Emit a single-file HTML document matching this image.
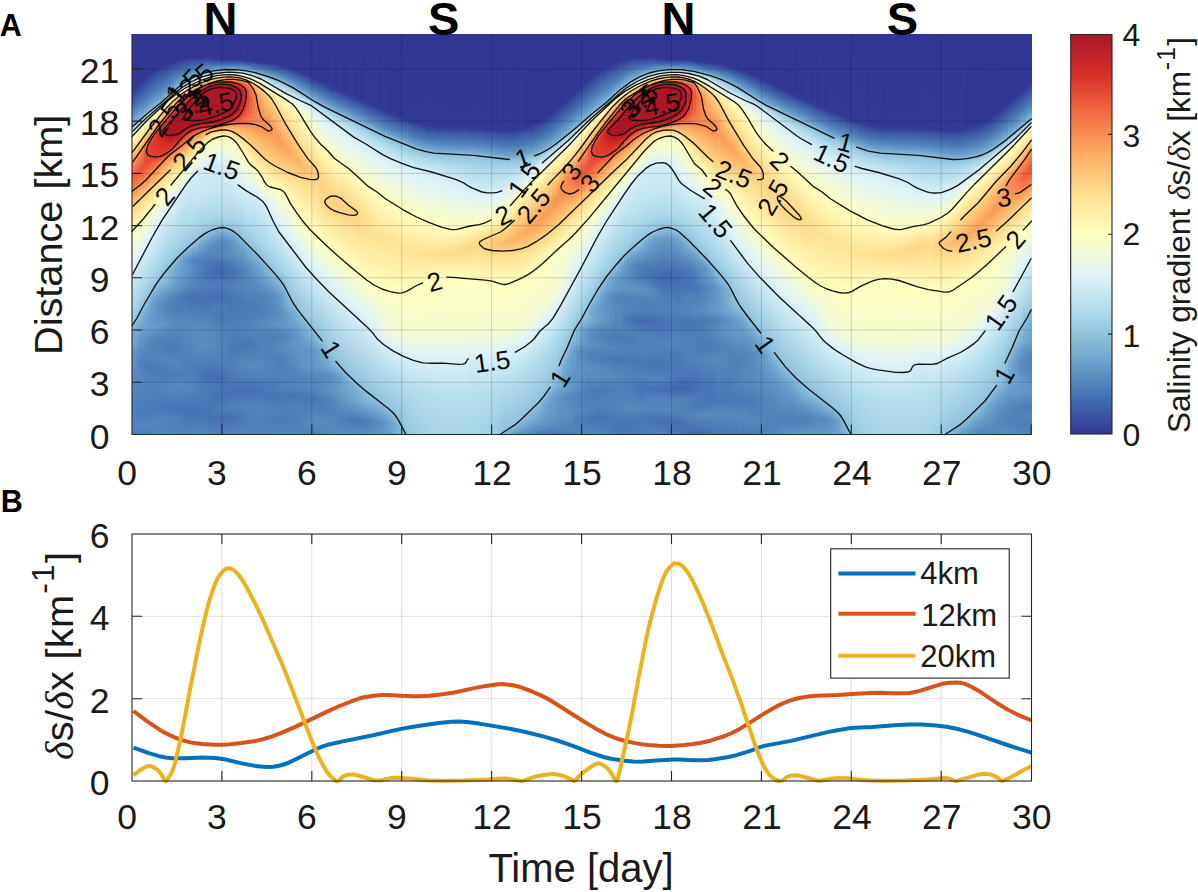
<!DOCTYPE html>
<html><head><meta charset="utf-8"><title>Salinity gradient</title>
<style>
html,body{margin:0;padding:0;background:#fff}
body{width:1198px;height:892px;position:relative;overflow:hidden;font-family:"Liberation Sans",sans-serif;color:#1a1a1a}
.abs{position:absolute}
#heat{position:absolute;left:132px;top:34px;width:899.5px;height:400.5px;overflow:hidden;background:#4575b4}
#heat i{position:absolute;top:0;width:3.2px;height:401px;display:block}
.tl{position:absolute;font-size:35.5px;line-height:34px;white-space:nowrap}
.xt{width:80px;margin-left:-40px;text-align:center}
.yt{width:80px;left:59.5px;text-align:center}
.big{position:absolute;font-weight:bold;font-size:47px;line-height:48px;width:80px;margin-left:-40px;text-align:center;top:-5.0px;color:#000}
.pan{position:absolute;font-weight:bold;font-size:30.5px;line-height:30px;color:#000}
.rot{position:absolute;white-space:nowrap;transform-origin:0 0;transform:rotate(-90deg)}
.dl{font-family:"Liberation Serif",serif;font-style:italic}
sup{font-size:80%;line-height:0;vertical-align:baseline;position:relative;top:-0.59em;letter-spacing:0.04em;margin-left:0.03em}
svg{position:absolute;left:0;top:0;overflow:visible}
svg text{font-family:"Liberation Sans",sans-serif}
</style></head><body>
<div id="heat"><i style="left:0px;background:linear-gradient(#313695 0.5px,#313795 55.5px,#4576b4 73.5px,#6297c6 83.5px,#78b0d3 88.5px,#98cae1 92.5px,#d9f0f6 97.5px,#fffebe 102.5px,#feda8a 115.5px,#fdc173 120.5px,#fa9857 126.5px,#f57747 134.5px,#ef623e 142.5px,#f16640 145.5px,#fa9757 158.5px,#fdb366 163.5px,#fed182 171.5px,#fee192 177.5px,#ffffbf 196.5px,#ecf8e2 213.5px,#dff3f8 228.5px,#abd9e9 270.5px,#91c4de 288.5px,#75aed1 297.5px,#71a9cf 308.5px,#6197c5 317.5px,#4c7eb8 379.5px,#5487bd 391.5px,#497ab6 400.5px)"></i><i style="left:3px;background:linear-gradient(#313695 0.5px,#313795 52.5px,#4777b5 71.5px,#74add1 85.5px,#92c5de 89.5px,#d6eef5 94.5px,#e2f4f3 95.5px,#f3fad6 97.5px,#fffcba 100.5px,#fed484 113.5px,#fba15b 121.5px,#f67d4a 128.5px,#ed5e3c 139.5px,#f0653f 143.5px,#fa9756 156.5px,#fdb466 161.5px,#fed283 169.5px,#ffffbe 193.5px,#e0f3f8 223.5px,#abd9e9 265.5px,#8fc2dd 285.5px,#70a9cf 296.5px,#6aa1cb 308.5px,#5d91c3 317.5px,#4b7cb8 379.5px,#5588be 391.5px,#4a7bb7 400.5px)"></i><i style="left:6px;background:linear-gradient(#313695 0.5px,#313795 49.5px,#4676b4 68.5px,#77afd2 83.5px,#99cbe1 87.5px,#d7eff5 91.5px,#edf8e0 93.5px,#fffebe 96.5px,#fed384 109.5px,#fa9757 118.5px,#f46f44 127.5px,#ea5839 136.5px,#f99455 153.5px,#fdb164 158.5px,#fed283 166.5px,#ffffbf 190.5px,#e0f3f8 218.5px,#aad8e9 260.5px,#91c4de 278.5px,#6ea6cd 295.5px,#598dc0 316.5px,#5183bb 332.5px,#578abf 344.5px,#4a7bb7 379.5px,#5588be 391.5px,#4b7cb8 400.5px)"></i><i style="left:9px;background:linear-gradient(#313695 0.5px,#313795 46.5px,#4575b4 65.5px,#6196c5 75.5px,#76aed2 80.5px,#95c8df 84.5px,#d5eef5 88.5px,#e4f5f0 89.5px,#eef8de 90.5px,#fffcbb 93.5px,#fecd7e 106.5px,#f88a51 115.5px,#f47044 120.5px,#e75337 132.5px,#eb5a3a 136.5px,#fa9656 151.5px,#fed182 163.5px,#fee293 169.5px,#feffc0 187.5px,#dff3f8 213.5px,#aad8e9 255.5px,#90c4dd 273.5px,#74acd1 284.5px,#5689be 316.5px,#4d7fb9 332.5px,#5487bd 346.5px,#4a7ab7 379.5px,#5588be 391.5px,#4c7db8 400.5px)"></i><i style="left:12px;background:linear-gradient(#313695 0.5px,#313795 43.5px,#497ab7 64.5px,#669cc8 74.5px,#80b7d6 79.5px,#9ecee3 82.5px,#e0f3f7 86.5px,#f5fbd2 88.5px,#fffcba 90.5px,#fdc778 103.5px,#fdab5f 107.5px,#f57647 112.5px,#eb593a 116.5px,#e54e35 128.5px,#e85437 132.5px,#f46c43 138.5px,#fa9555 148.5px,#fed182 160.5px,#fee090 165.5px,#ffffc0 183.5px,#e0f3f8 208.5px,#abd9e9 249.5px,#8fc2dd 268.5px,#6da5cd 283.5px,#6da5cd 292.5px,#5b8fc2 305.5px,#4b7cb7 332.5px,#5385bc 347.5px,#4a7ab7 379.5px,#5588be 391.5px,#4d7fb9 400.5px)"></i><i style="left:15px;background:linear-gradient(#313695 0.5px,#323896 41.5px,#4b7cb8 62.5px,#69a0ca 72.5px,#7db4d5 76.5px,#9acbe2 79.5px,#e0f3f8 83.5px,#f4fbd4 85.5px,#fffcbb 87.5px,#fedc8c 95.5px,#fdb063 102.5px,#f36a42 108.5px,#e54e35 111.5px,#df402e 117.5px,#e44a33 127.5px,#f46f44 136.5px,#f99455 145.5px,#fed485 158.5px,#ffffbf 179.5px,#e0f3f8 203.5px,#aad8e9 245.5px,#90c3dd 262.5px,#73acd1 272.5px,#689fca 283.5px,#6ba2cc 292.5px,#578abf 305.5px,#5284bc 324.5px,#497ab6 332.5px,#5284bc 348.5px,#4a7bb7 378.5px,#5588be 390.5px,#4e80ba 400.5px)"></i><i style="left:18px;background:linear-gradient(#313695 0.5px,#313796 38.5px,#4d7eb9 60.5px,#679ec9 69.5px,#81b7d7 74.5px,#a0d0e4 77.5px,#d8eff6 80.5px,#f2fad6 82.5px,#fffcba 84.5px,#fdc677 95.5px,#fdaf62 98.5px,#f46e44 103.5px,#e44c34 106.5px,#dd3d2d 111.5px,#e14430 124.5px,#f46d43 133.5px,#fdab60 146.5px,#fed485 155.5px,#feffc0 176.5px,#dff3f8 198.5px,#aad9e9 240.5px,#90c4dd 257.5px,#74add1 265.5px,#6ca3cc 270.5px,#649ac7 283.5px,#69a0ca 292.5px,#5386bd 305.5px,#5184bc 324.5px,#4879b6 332.5px,#5183bb 349.5px,#4a7bb7 377.5px,#5487be 390.5px,#4f81ba 400.5px)"></i><i style="left:21px;background:linear-gradient(#313695 0.5px,#313796 36.5px,#3c5aa7 45.5px,#4b7cb8 57.5px,#699fca 67.5px,#85bad8 72.5px,#99cbe1 74.5px,#e1f3f6 78.5px,#ffffbf 81.5px,#fedb8b 88.5px,#fdad60 94.5px,#f67a49 98.5px,#eb5b3b 100.5px,#e24731 102.5px,#db392b 107.5px,#e0422f 123.5px,#f47044 131.5px,#fdab60 143.5px,#fed788 153.5px,#ffffc0 172.5px,#e0f3f8 193.5px,#aad8e8 236.5px,#8fc3dd 253.5px,#71aacf 262.5px,#659bc7 270.5px,#6095c5 282.5px,#679ec9 292.5px,#5083bb 305.5px,#5184bc 324.5px,#4879b6 333.5px,#5183bb 350.5px,#4a7bb7 376.5px,#5487bd 389.5px,#5082bb 400.5px)"></i><i style="left:24px;background:linear-gradient(#313695 0.5px,#313795 34.5px,#3c5aa7 43.5px,#4b7db8 55.5px,#669cc8 64.5px,#7fb6d6 69.5px,#9fd0e4 72.5px,#ddf2f7 75.5px,#fdfec2 78.5px,#fff9b6 79.5px,#fedd8d 84.5px,#fdaf62 90.5px,#f26941 95.5px,#dc3a2b 99.5px,#d73027 103.5px,#df402e 122.5px,#f57245 129.5px,#fdac60 140.5px,#fecf80 148.5px,#fee192 153.5px,#ffffbf 168.5px,#def2f8 189.5px,#a8d6e8 233.5px,#8cc0db 251.5px,#6ba3cc 261.5px,#5e93c3 271.5px,#5d92c3 282.5px,#659bc8 292.5px,#4e80ba 305.5px,#5284bc 324.5px,#4979b6 333.5px,#5183bb 351.5px,#497ab7 375.5px,#5386bd 388.5px,#5183bb 400.5px)"></i><i style="left:27px;background:linear-gradient(#313695 0.5px,#313796 33.5px,#3c58a6 41.5px,#4b7cb8 53.5px,#669dc9 62.5px,#7bb3d4 66.5px,#96c9e0 69.5px,#d0ebf4 72.5px,#e6f5ed 73.5px,#f3fad5 74.5px,#fff9b5 76.5px,#fee191 80.5px,#fdae61 86.5px,#f36c42 91.5px,#d73027 95.5px,#c72627 99.5px,#de3f2e 121.5px,#e34933 123.5px,#f26941 126.5px,#f7834d 129.5px,#fdad61 137.5px,#fedf8f 149.5px,#fffebe 164.5px,#dff3f8 184.5px,#a6d5e7 230.5px,#89beda 249.5px,#659bc8 261.5px,#598cc0 272.5px,#6398c6 291.5px,#4c7eb8 307.5px,#5285bc 324.5px,#4a7bb7 336.5px,#5284bc 351.5px,#4879b6 374.5px,#5386bd 387.5px,#5183bb 400.5px)"></i><i style="left:30px;background:linear-gradient(#313695 0.5px,#323896 32.5px,#3d5aa7 40.5px,#4b7cb8 51.5px,#699fca 60.5px,#7fb6d6 64.5px,#a3d2e5 67.5px,#dff2f8 70.5px,#f9fdcb 72.5px,#fffab8 73.5px,#fee395 76.5px,#fca75e 83.5px,#f46e44 87.5px,#d83328 91.5px,#b91e28 95.5px,#b11928 98.5px,#d22d27 109.5px,#df412f 120.5px,#e64f35 122.5px,#f8874f 127.5px,#fdae61 134.5px,#fedf8f 146.5px,#feffc0 161.5px,#def2f7 180.5px,#a4d3e6 227.5px,#84bad8 249.5px,#6095c5 261.5px,#5588be 272.5px,#6096c5 290.5px,#4b7db8 308.5px,#5386bd 325.5px,#4a7bb7 341.5px,#5285bc 352.5px,#4778b5 374.5px,#5285bc 386.5px,#5183bb 400.5px)"></i><i style="left:33px;background:linear-gradient(#313695 0.5px,#313795 30.5px,#4c7db8 49.5px,#669cc8 57.5px,#84b9d8 62.5px,#9acce2 64.5px,#dcf1f7 67.5px,#fffbb9 70.5px,#fee293 73.5px,#fdab60 79.5px,#f57547 83.5px,#dc3c2c 87.5px,#d62f27 88.5px,#b61c28 92.5px,#ac1628 96.5px,#ae1728 100.5px,#d02c27 109.5px,#df402e 118.5px,#e64f35 120.5px,#f7844e 124.5px,#fdae61 131.5px,#fee090 143.5px,#ffffbf 157.5px,#e0f3f8 175.5px,#d2ecf4 182.5px,#a3d2e5 224.5px,#7bb2d4 250.5px,#578abf 265.5px,#5184bc 275.5px,#5e93c4 290.5px,#4b7db8 307.5px,#4a7bb7 315.5px,#5486bd 325.5px,#4a7bb7 341.5px,#5386bd 352.5px,#4676b5 374.5px,#5284bc 385.5px,#5183bb 400.5px)"></i><i style="left:36px;background:linear-gradient(#313695 0.5px,#313896 29.5px,#3c58a6 36.5px,#4c7db8 47.5px,#689fca 55.5px,#82b8d7 59.5px,#a6d5e7 62.5px,#d2ecf4 64.5px,#e7f6eb 65.5px,#fffcba 67.5px,#fee191 70.5px,#fdb063 75.5px,#f46c43 80.5px,#d93529 84.5px,#bb1f28 88.5px,#ad1628 92.5px,#af1828 101.5px,#d02c27 109.5px,#de3f2e 116.5px,#e75237 118.5px,#f88a50 122.5px,#fdae61 128.5px,#fee090 140.5px,#feffc1 154.5px,#dff3f8 171.5px,#d3edf4 177.5px,#a2d2e5 221.5px,#7db4d5 241.5px,#74add1 250.5px,#5385bc 265.5px,#4f81ba 275.5px,#5c91c2 289.5px,#497ab7 313.5px,#5487bd 325.5px,#4b7cb7 340.5px,#5587be 352.5px,#4575b4 374.5px,#5183bc 385.5px,#5083bb 400.5px)"></i><i style="left:39px;background:linear-gradient(#313695 0.5px,#323896 28.5px,#3d5aa7 35.5px,#4c7eb9 45.5px,#6aa1cb 53.5px,#88bdda 57.5px,#a1d1e5 59.5px,#e3f4f3 62.5px,#ffffbf 64.5px,#fee99e 66.5px,#fdbd6f 70.5px,#f57145 76.5px,#e75237 78.5px,#d62f27 81.5px,#b81d28 85.5px,#ad1628 88.5px,#ad1628 100.5px,#d93328 111.5px,#e24832 115.5px,#f57547 118.5px,#f99053 120.5px,#fdad61 125.5px,#fee293 138.5px,#ffffbf 150.5px,#def2f7 167.5px,#9fd0e4 219.5px,#75aed2 241.5px,#6da5cd 251.5px,#5082bb 264.5px,#4e80ba 276.5px,#5b8fc1 289.5px,#497ab7 313.5px,#5487bd 326.5px,#4b7cb8 340.5px,#5689be 352.5px,#4574b4 374.5px,#5083bb 385.5px,#5082bb 400.5px)"></i><i style="left:42px;background:linear-gradient(#313695 0.5px,#313795 26.5px,#4c7eb9 43.5px,#79b1d3 53.5px,#9bcce2 56.5px,#d9eff6 59.5px,#fafdc9 61.5px,#fff8b4 62.5px,#fdb063 68.5px,#f16840 73.5px,#d93329 77.5px,#b61c28 82.5px,#ac1628 85.5px,#ad1728 100.5px,#d63027 108.5px,#e14631 112.5px,#f36a42 115.5px,#f99254 118.5px,#fdac60 122.5px,#fee293 135.5px,#feffc1 147.5px,#dff3f8 162.5px,#9fcfe4 216.5px,#90c3dd 225.5px,#79b1d3 231.5px,#689fca 251.5px,#4d7eb9 264.5px,#4e7fb9 277.5px,#598dc1 288.5px,#4a7bb7 314.5px,#5487bd 327.5px,#4c7db8 341.5px,#568abf 352.5px,#4574b3 374.5px,#4f81ba 385.5px,#5082bb 400.5px)"></i><i style="left:45px;background:linear-gradient(#313695 0.5px,#313795 25.5px,#4c7db8 41.5px,#679ec9 48.5px,#7bb3d4 51.5px,#a0d0e4 54.5px,#e0f3f8 57.5px,#fdfec3 59.5px,#fff4af 60.5px,#fee090 62.5px,#fca55d 66.5px,#f47044 69.5px,#db392b 73.5px,#bf2228 77.5px,#ac1628 81.5px,#ac1628 98.5px,#b51c28 101.5px,#d32d27 105.5px,#e24732 109.5px,#f88c51 115.5px,#fdaf62 120.5px,#fee293 132.5px,#ffffc0 143.5px,#dff2f8 158.5px,#d3edf4 163.5px,#a1d1e5 211.5px,#92c5de 221.5px,#71aacf 229.5px,#649ac7 251.5px,#4a7bb7 264.5px,#4d7fb9 278.5px,#598cc0 288.5px,#4b7cb8 314.5px,#5386bd 327.5px,#4c7db8 341.5px,#578abf 352.5px,#4473b3 374.5px,#4e7fb9 384.5px,#5082bb 400.5px)"></i><i style="left:48px;background:linear-gradient(#313695 0.5px,#323896 25.5px,#4b7cb7 39.5px,#74add1 48.5px,#95c8e0 51.5px,#d1ebf4 54.5px,#e5f5ef 55.5px,#fffebe 57.5px,#fdb265 63.5px,#f57647 66.5px,#e65035 68.5px,#d83328 70.5px,#d12c27 71.5px,#ac1628 77.5px,#ac1628 97.5px,#b41b28 99.5px,#d42e27 103.5px,#f47044 110.5px,#f98f53 113.5px,#fdb264 118.5px,#fedf8f 128.5px,#ffffbf 139.5px,#def2f7 154.5px,#d3edf4 159.5px,#a2d2e5 207.5px,#8fc2dd 219.5px,#6ba3cc 226.5px,#6096c5 250.5px,#4878b6 263.5px,#4d7fb9 279.5px,#588cc0 288.5px,#4c7eb9 315.5px,#5284bc 329.5px,#4c7db8 340.5px,#568abf 352.5px,#4473b3 375.5px,#4d7eb9 384.5px,#5082bb 400.5px)"></i><i style="left:51px;background:linear-gradient(#313695 0.5px,#323896 24.5px,#4979b6 37.5px,#75aed1 46.5px,#97c9e0 49.5px,#d1ebf4 52.5px,#e5f5ee 53.5px,#fffebd 55.5px,#fdaf62 61.5px,#f46e43 64.5px,#e24631 66.5px,#d12c27 68.5px,#ac1628 73.5px,#b11928 96.5px,#d83228 101.5px,#f46f44 107.5px,#f99455 111.5px,#fdba6d 117.5px,#fedf8f 125.5px,#feffc1 136.5px,#def2f7 150.5px,#d3edf4 155.5px,#a5d4e6 202.5px,#8fc3dd 216.5px,#6aa2cb 223.5px,#6398c6 226.5px,#669dc9 235.5px,#5c91c2 250.5px,#4676b4 263.5px,#588bc0 289.5px,#4c7db8 339.5px,#5689be 352.5px,#4473b3 375.5px,#5082bb 400.5px)"></i><i style="left:54px;background:linear-gradient(#313695 0.5px,#313795 23.5px,#4a7ab7 36.5px,#73abd0 44.5px,#97c9e0 47.5px,#cfebf3 50.5px,#e3f4f2 51.5px,#fdfec2 53.5px,#fff4af 54.5px,#fdae61 59.5px,#f16640 62.5px,#dd3d2d 64.5px,#d42e27 65.5px,#ac1628 70.5px,#b01828 94.5px,#d42e27 98.5px,#f46d43 104.5px,#fa9a58 109.5px,#fdbf71 115.5px,#fee090 122.5px,#ffffc0 132.5px,#def2f7 146.5px,#d3ecf4 151.5px,#a9d8e8 196.5px,#8ec2dc 214.5px,#5e92c3 225.5px,#6297c6 235.5px,#598dc0 250.5px,#4575b4 262.5px,#588bc0 289.5px,#4c7db8 339.5px,#5588be 352.5px,#4472b3 376.5px,#5183bb 400.5px)"></i><i style="left:57px;background:linear-gradient(#313695 0.5px,#313796 23.5px,#4575b4 34.5px,#78b0d3 43.5px,#a3d2e5 46.5px,#def2f7 49.5px,#f8fccb 51.5px,#fff9b6 52.5px,#fee191 54.5px,#fdaf62 57.5px,#f67c4a 59.5px,#d83328 62.5px,#ac1628 67.5px,#ac1628 92.5px,#d22d27 96.5px,#f57245 102.5px,#fdad61 109.5px,#fec97a 114.5px,#fee191 119.5px,#feffc1 129.5px,#e0f3f8 142.5px,#d3edf4 147.5px,#abd9e9 192.5px,#94c7df 208.5px,#88bdda 213.5px,#649ac7 221.5px,#578bbf 226.5px,#5d92c3 235.5px,#5689be 250.5px,#4472b2 264.5px,#588cc0 290.5px,#4b7cb8 339.5px,#5386bd 352.5px,#4473b3 376.5px,#5184bc 400.5px)"></i><i style="left:60px;background:linear-gradient(#313695 0.5px,#313796 23.5px,#4979b6 34.5px,#72aad0 41.5px,#9acce2 44.5px,#d5edf5 47.5px,#e5f5ee 48.5px,#ffffbf 50.5px,#fee698 52.5px,#fdb366 55.5px,#f67e4b 57.5px,#e14430 59.5px,#d52f27 60.5px,#b11928 63.5px,#ac1628 64.5px,#ac1628 91.5px,#d73027 95.5px,#f47044 100.5px,#fa9958 104.5px,#fdc375 110.5px,#fee293 116.5px,#ffffbf 125.5px,#ddf2f7 139.5px,#d3ecf4 144.5px,#c4e5f0 167.5px,#acdae9 189.5px,#93c6df 206.5px,#86bbd9 211.5px,#5c90c2 222.5px,#5386bd 226.5px,#598cc0 235.5px,#5486bd 250.5px,#4471b2 264.5px,#588cc0 290.5px,#568abf 311.5px,#4a7bb7 339.5px,#5284bc 352.5px,#4473b3 377.5px,#5285bc 400.5px)"></i><i style="left:63px;background:linear-gradient(#313695 0.5px,#313796 23.5px,#4778b5 33.5px,#75add1 40.5px,#90c3dd 42.5px,#def2f7 46.5px,#f8fccc 48.5px,#fff9b6 49.5px,#fedd8e 51.5px,#fdb466 53.5px,#f67a49 55.5px,#df412f 57.5px,#d22d27 58.5px,#ac1628 61.5px,#ac1628 90.5px,#d73127 94.5px,#f67948 99.5px,#fdad61 104.5px,#fee090 112.5px,#feffc1 122.5px,#ddf2f7 136.5px,#d3edf4 140.5px,#bce1ee 174.5px,#9ccde2 198.5px,#8bc0db 207.5px,#5183bb 226.5px,#5284bc 250.5px,#4370b2 264.5px,#588cc0 291.5px,#588bc0 312.5px,#4879b6 339.5px,#5082bb 352.5px,#4574b3 377.5px,#5385bc 400.5px)"></i><i style="left:66px;background:linear-gradient(#313695 0.5px,#313796 23.5px,#4574b4 32.5px,#5d91c3 36.5px,#77b0d2 39.5px,#94c7df 41.5px,#e2f4f4 45.5px,#fcfec4 47.5px,#fff4ae 48.5px,#fdbf71 51.5px,#f7824d 53.5px,#de3f2e 55.5px,#cf2b27 56.5px,#b21928 58.5px,#ac1628 59.5px,#ac1628 90.5px,#d42e27 93.5px,#f46e44 97.5px,#f88c51 99.5px,#fdb769 103.5px,#fee090 109.5px,#ffffbf 118.5px,#dff2f8 133.5px,#d3edf4 137.5px,#c3e5f0 165.5px,#a4d3e6 191.5px,#8dc1dc 204.5px,#74add1 210.5px,#4f80ba 226.5px,#5083bb 250.5px,#4370b2 264.5px,#588cc0 291.5px,#598cc0 313.5px,#4777b5 339.5px,#4f80ba 352.5px,#4574b4 378.5px,#5386bd 400.5px)"></i><i style="left:69px;background:linear-gradient(#313695 0.5px,#323896 23.5px,#4878b6 32.5px,#78b0d3 38.5px,#d3edf4 43.5px,#e5f5ef 44.5px,#fffebd 46.5px,#fee192 48.5px,#fdb466 50.5px,#f46e44 52.5px,#e44c34 53.5px,#d52f27 54.5px,#b11928 56.5px,#ac1628 57.5px,#ac1628 89.5px,#da372a 93.5px,#f46e43 96.5px,#fdae61 100.5px,#fdc173 102.5px,#fee394 107.5px,#ffffbf 115.5px,#def2f7 131.5px,#d3edf4 135.5px,#c3e5f0 163.5px,#a7d6e7 187.5px,#8fc3dd 201.5px,#6ca4cc 210.5px,#4c7eb9 227.5px,#497ab7 241.5px,#4f81ba 250.5px,#4470b2 264.5px,#588bc0 291.5px,#5a8dc1 312.5px,#4575b4 340.5px,#4d7fb9 352.5px,#4575b4 380.5px,#5386bd 400.5px)"></i><i style="left:72px;background:linear-gradient(#313695 0.5px,#323896 23.5px,#4576b4 31.5px,#76afd2 37.5px,#97c9e0 39.5px,#d5edf5 42.5px,#e7f6ec 43.5px,#fffcba 45.5px,#fedd8e 47.5px,#fdc375 48.5px,#f67f4b 50.5px,#dc3b2c 52.5px,#c92827 53.5px,#ac1628 55.5px,#ac1628 89.5px,#d42e27 92.5px,#f46e44 95.5px,#fca75e 98.5px,#fecc7d 101.5px,#fee192 104.5px,#ffffbf 112.5px,#def2f7 129.5px,#d3edf4 133.5px,#c5e6f0 160.5px,#aad8e8 184.5px,#8fc3dd 199.5px,#669cc8 210.5px,#4b7cb8 227.5px,#4676b5 240.5px,#4e80ba 250.5px,#4471b2 264.5px,#578abf 291.5px,#5a8dc1 312.5px,#4472b3 341.5px,#4c7eb8 352.5px,#4575b4 382.5px,#5385bc 400.5px)"></i><i style="left:75px;background:linear-gradient(#313695 0.5px,#323896 23.5px,#4878b6 31.5px,#73acd0 36.5px,#93c5de 38.5px,#d2ecf4 41.5px,#e6f5ed 42.5px,#fffcba 44.5px,#fedc8d 46.5px,#fdc173 47.5px,#f57848 49.5px,#d73027 51.5px,#b01928 53.5px,#ac1628 54.5px,#ae1728 89.5px,#d83128 92.5px,#f16640 94.5px,#fa9a58 96.5px,#feca7b 99.5px,#fee294 102.5px,#fff9b5 107.5px,#feffc1 110.5px,#f1fad8 119.5px,#e0f3f7 127.5px,#d3edf4 131.5px,#c6e6f1 158.5px,#abd9e9 182.5px,#90c4dd 197.5px,#6096c5 210.5px,#497ab7 228.5px,#4472b3 240.5px,#4e80b9 250.5px,#4471b2 264.5px,#568abf 292.5px,#598dc0 312.5px,#4370b2 342.5px,#4b7cb8 352.5px,#4574b4 383.5px,#5285bc 400.5px)"></i><i style="left:78px;background:linear-gradient(#313695 0.5px,#313796 23.5px,#34419a 25.5px,#4471b2 30.5px,#6298c6 34.5px,#7bb3d4 36.5px,#cce9f2 40.5px,#e2f4f4 41.5px,#fffebe 43.5px,#fee090 45.5px,#fdab60 47.5px,#f7814c 48.5px,#d83228 50.5px,#ae1728 52.5px,#ac1628 53.5px,#ac1628 88.5px,#d02c27 91.5px,#de3e2e 92.5px,#f67a49 94.5px,#fdb063 96.5px,#fece7f 98.5px,#fee191 100.5px,#ffffbe 107.5px,#ddf1f7 127.5px,#d3edf4 130.5px,#c5e6f0 158.5px,#aad8e8 182.5px,#8fc3dd 196.5px,#73acd0 202.5px,#5d92c3 209.5px,#4778b5 229.5px,#436fb1 239.5px,#4d7fb9 250.5px,#4471b2 263.5px,#5588be 292.5px,#588cc0 312.5px,#436eb1 342.5px,#4a7bb7 352.5px,#4473b3 384.5px,#5284bc 400.5px)"></i><i style="left:81px;background:linear-gradient(#313695 0.5px,#313795 23.5px,#343e99 25.5px,#4471b2 30.5px,#5285bc 32.5px,#74add1 35.5px,#98cae1 37.5px,#dbf1f7 40.5px,#fbfec6 42.5px,#fff3ad 43.5px,#fee497 44.5px,#fdb669 46.5px,#f26a41 48.5px,#df412f 49.5px,#c92727 50.5px,#b21a28 51.5px,#ac1628 52.5px,#b01828 88.5px,#d83328 91.5px,#f57145 93.5px,#fdae61 95.5px,#fecd7e 97.5px,#fee192 99.5px,#fff7b3 103.5px,#feffc0 106.5px,#f1fad9 117.5px,#dff3f8 126.5px,#d3edf4 130.5px,#c6e6f1 157.5px,#aad8e9 181.5px,#8ec2dd 195.5px,#75aed1 200.5px,#598dc0 209.5px,#5487bd 220.5px,#4575b4 230.5px,#426caf 239.5px,#4d7fb9 251.5px,#4471b2 263.5px,#4c7eb8 274.5px,#4a7bb7 283.5px,#5487bd 293.5px,#578abf 311.5px,#4d7eb9 330.5px,#426db0 342.5px,#4a7bb7 352.5px,#4473b3 362.5px,#4b7cb8 374.5px,#4472b3 384.5px,#5183bb 400.5px)"></i><i style="left:84px;background:linear-gradient(#313695 0.5px,#323896 24.5px,#36459d 26.5px,#4370b1 30.5px,#6aa1cb 34.5px,#8ec2dc 36.5px,#d2ecf4 39.5px,#e6f5ed 40.5px,#fffab8 42.5px,#fdc072 45.5px,#fca45c 46.5px,#f67b4a 47.5px,#d22d27 49.5px,#ac1628 51.5px,#ae1728 87.5px,#d32e27 90.5px,#e04430 91.5px,#ef633e 92.5px,#fca55d 94.5px,#feca7b 96.5px,#feeca2 100.5px,#fffbb9 103.5px,#feffc1 105.5px,#f2fad7 116.5px,#dff3f8 126.5px,#d3edf4 130.5px,#c6e6f1 157.5px,#aad8e8 181.5px,#8fc2dd 194.5px,#74add1 199.5px,#588cc0 208.5px,#5487bd 220.5px,#4575b4 229.5px,#416aae 238.5px,#4d7eb9 249.5px,#4471b2 263.5px,#4c7db8 274.5px,#497ab7 284.5px,#5386bd 293.5px,#5588be 310.5px,#4d7eb9 330.5px,#426db0 343.5px,#497ab6 351.5px,#4472b3 362.5px,#4c7db8 373.5px,#4471b2 384.5px,#5183bb 400.5px)"></i><i style="left:87px;background:linear-gradient(#313695 0.5px,#313795 24.5px,#343f9a 26.5px,#436eb1 30.5px,#6aa1cb 34.5px,#a8d7e8 37.5px,#d9eff6 39.5px,#ecf8e2 40.5px,#fdfec3 41.5px,#fff1a9 42.5px,#fee192 43.5px,#fdb366 45.5px,#f46c43 47.5px,#e14530 48.5px,#ca2827 49.5px,#b21a28 50.5px,#ac1628 51.5px,#ae1728 86.5px,#d02c27 89.5px,#dd3d2d 90.5px,#f67c4a 92.5px,#fa9b58 93.5px,#fdb265 94.5px,#fed081 96.5px,#fff6b1 101.5px,#feffc0 104.5px,#f2fad7 116.5px,#e0f3f8 126.5px,#d3edf4 130.5px,#c7e7f1 156.5px,#abd9e9 180.5px,#91c4dd 193.5px,#74add1 198.5px,#5689be 208.5px,#5487bd 220.5px,#4574b4 229.5px,#4169ae 238.5px,#4d7fb9 250.5px,#4471b2 263.5px,#4c7db8 274.5px,#4879b6 284.5px,#5285bc 294.5px,#5386bd 309.5px,#4d7fb9 330.5px,#436eb0 342.5px,#4879b6 351.5px,#4472b2 361.5px,#4d7eb9 373.5px,#4370b2 384.5px,#5183bb 400.5px)"></i><i style="left:90px;background:linear-gradient(#313695 0.5px,#313695 24.5px,#343e99 26.5px,#436eb1 30.5px,#6ca3cc 34.5px,#afdbea 37.5px,#e1f3f7 39.5px,#fffdbd 41.5px,#fed889 43.5px,#fca55d 45.5px,#ef633e 47.5px,#de3f2e 48.5px,#c82727 49.5px,#b11928 50.5px,#ac1628 51.5px,#af1828 85.5px,#d02c27 88.5px,#dc3a2c 89.5px,#f57346 91.5px,#f99154 92.5px,#fca85e 93.5px,#fdc577 95.5px,#fee497 98.5px,#ffffbe 103.5px,#f2fad6 116.5px,#e0f3f8 127.5px,#d4edf5 131.5px,#c7e7f1 157.5px,#aad8e8 181.5px,#90c3dd 193.5px,#74acd1 198.5px,#5589be 208.5px,#5689be 220.5px,#4573b3 230.5px,#4169ae 238.5px,#4d7fb9 250.5px,#4472b3 263.5px,#4c7db8 274.5px,#4878b6 284.5px,#5183bb 294.5px,#5183bb 309.5px,#4d7eb9 331.5px,#436fb1 343.5px,#4879b6 351.5px,#4472b3 362.5px,#4d7fb9 373.5px,#436fb1 384.5px,#5183bb 400.5px)"></i><i style="left:93px;background:linear-gradient(#313695 0.5px,#313695 24.5px,#343e99 26.5px,#436eb1 30.5px,#5588be 32.5px,#72abd0 34.5px,#d0ebf3 38.5px,#e5f5f0 39.5px,#fffcba 41.5px,#fed485 43.5px,#fa9957 45.5px,#f67b49 46.5px,#dd3d2d 48.5px,#b41b28 50.5px,#ac1628 51.5px,#b11928 84.5px,#db382b 88.5px,#f7834d 91.5px,#fdad61 93.5px,#fedc8c 97.5px,#fffebe 103.5px,#f3fad5 116.5px,#dff2f8 129.5px,#d4edf5 134.5px,#c7e7f1 158.5px,#abd9e9 181.5px,#92c5de 193.5px,#72abd0 199.5px,#588bc0 208.5px,#578bbf 220.5px,#4473b3 231.5px,#426baf 238.5px,#4e7fb9 250.5px,#4473b3 263.5px,#4c7db8 275.5px,#4879b6 285.5px,#5082bb 295.5px,#4e80ba 330.5px,#4471b2 343.5px,#4879b6 351.5px,#4472b2 361.5px,#4e7fb9 373.5px,#436fb1 384.5px,#5184bc 400.5px)"></i><i style="left:96px;background:linear-gradient(#313695 0.5px,#313695 24.5px,#343e99 26.5px,#436fb1 30.5px,#679ec9 33.5px,#a6d5e7 36.5px,#d2ecf4 38.5px,#e5f5ee 39.5px,#fffcba 41.5px,#fed484 43.5px,#f99555 45.5px,#f57547 46.5px,#dd3d2d 48.5px,#cd2a27 49.5px,#ac1628 51.5px,#ac1628 82.5px,#d22d27 86.5px,#db392b 87.5px,#f67c4a 90.5px,#fdaf62 93.5px,#fecf80 96.5px,#fff3ad 101.5px,#ffffbe 104.5px,#f4fbd4 117.5px,#dff2f8 132.5px,#aad8e9 182.5px,#8ec2dc 195.5px,#73acd0 200.5px,#5b90c2 208.5px,#598dc1 220.5px,#4574b3 232.5px,#436eb0 238.5px,#4f80ba 252.5px,#4574b4 264.5px,#4f81ba 295.5px,#4a7bb7 316.5px,#4f81ba 330.5px,#4473b3 343.5px,#4879b6 351.5px,#4471b2 359.5px,#4e80ba 372.5px,#4370b2 384.5px,#5284bc 400.5px)"></i><i style="left:99px;background:linear-gradient(#313695 0.5px,#313695 24.5px,#343e99 26.5px,#436fb1 30.5px,#578abf 32.5px,#76afd2 34.5px,#a3d2e5 36.5px,#d1ecf4 38.5px,#e5f5ef 39.5px,#fffcba 41.5px,#fed484 43.5px,#fdb669 44.5px,#f57647 46.5px,#d42e27 49.5px,#ac1628 52.5px,#ac1628 80.5px,#b31a28 81.5px,#d62f27 85.5px,#e44b33 87.5px,#f57245 89.5px,#fba25c 92.5px,#fec87a 96.5px,#fff1aa 102.5px,#ffffbf 106.5px,#e0f3f8 135.5px,#aad8e9 183.5px,#8fc3dd 196.5px,#71aacf 202.5px,#6095c5 208.5px,#5b90c2 220.5px,#4574b3 234.5px,#4471b2 239.5px,#4f81ba 252.5px,#4676b4 264.5px,#4f81ba 295.5px,#497ab6 316.5px,#5082bb 330.5px,#4471b2 358.5px,#4f81ba 372.5px,#4471b2 384.5px,#5285bc 400.5px)"></i><i style="left:102px;background:linear-gradient(#313695 0.5px,#313695 24.5px,#343e99 26.5px,#436eb1 30.5px,#6ea5cd 34.5px,#b2dceb 37.5px,#e3f4f3 39.5px,#fffdbc 41.5px,#fed687 43.5px,#fdba6c 44.5px,#f67f4b 46.5px,#d22d27 50.5px,#ac1628 53.5px,#ac1628 77.5px,#b61c28 79.5px,#da372a 84.5px,#f67b4a 89.5px,#fdab5f 93.5px,#fec87a 97.5px,#fff1aa 104.5px,#ffffc0 109.5px,#e0f3f8 139.5px,#aad8e9 184.5px,#8fc3dd 198.5px,#71aacf 204.5px,#649ac7 209.5px,#5e93c3 220.5px,#4575b4 236.5px,#5082bb 252.5px,#4777b5 265.5px,#4f80ba 295.5px,#4878b6 315.5px,#5284bc 331.5px,#4471b2 358.5px,#5082bb 372.5px,#4473b3 384.5px,#5385bc 400.5px)"></i><i style="left:105px;background:linear-gradient(#313695 0.5px,#313695 24.5px,#343e99 26.5px,#436eb1 30.5px,#6aa2cb 34.5px,#aad8e8 37.5px,#d9f0f6 39.5px,#ebf7e4 40.5px,#fafdc7 41.5px,#fff4ae 42.5px,#fee395 43.5px,#fdaf62 45.5px,#f57747 47.5px,#d52f27 51.5px,#ac1628 55.5px,#ac1628 73.5px,#d12d27 80.5px,#e44b33 84.5px,#f46c43 87.5px,#f98f53 90.5px,#fdaf62 94.5px,#fee292 103.5px,#fff6b1 108.5px,#ffffbe 112.5px,#e0f3f8 143.5px,#aad8e8 186.5px,#90c3dd 200.5px,#69a0ca 210.5px,#6197c5 220.5px,#4979b6 236.5px,#5183bb 253.5px,#4778b5 265.5px,#4f81ba 295.5px,#4778b5 314.5px,#5386bd 331.5px,#4471b2 358.5px,#5082bb 370.5px,#4676b4 384.5px,#5385bc 400.5px)"></i><i style="left:108px;background:linear-gradient(#313695 0.5px,#313695 24.5px,#343e99 26.5px,#436eb0 30.5px,#6aa1cb 34.5px,#a5d4e7 37.5px,#d2ecf4 39.5px,#e5f5ef 40.5px,#fffdbb 42.5px,#fed989 44.5px,#fba25b 46.5px,#f57346 48.5px,#da362a 52.5px,#b71d28 57.5px,#ad1728 61.5px,#b91e28 70.5px,#d93429 78.5px,#f46d43 86.5px,#f88b51 89.5px,#fdb164 95.5px,#fee79a 107.5px,#fff7b3 112.5px,#ffffc0 117.5px,#dff2f8 147.5px,#a3d2e5 192.5px,#8fc3dd 203.5px,#6ca3cc 212.5px,#4c7eb8 236.5px,#5284bc 254.5px,#4879b6 267.5px,#4f81ba 295.5px,#4778b5 313.5px,#5588be 331.5px,#4470b2 357.5px,#5183bb 371.5px,#4878b6 384.5px,#5385bd 400.5px)"></i><i style="left:111px;background:linear-gradient(#313695 0.5px,#323896 25.5px,#36469d 27.5px,#4676b4 31.5px,#73acd1 35.5px,#b2dceb 38.5px,#dcf1f7 40.5px,#f8fccc 42.5px,#fff8b4 43.5px,#fed585 45.5px,#fba05b 47.5px,#f57647 49.5px,#eb5a3a 51.5px,#d62f27 56.5px,#cd2a27 60.5px,#d73027 70.5px,#ec5c3b 82.5px,#f99254 90.5px,#fdb264 96.5px,#fee79a 110.5px,#ffffbf 121.5px,#e0f3f8 149.5px,#abd9e9 189.5px,#97c9e0 202.5px,#8cc0db 207.5px,#6fa8ce 214.5px,#5083bb 236.5px,#5386bd 254.5px,#4979b6 270.5px,#5082bb 295.5px,#4778b5 312.5px,#5689be 331.5px,#4370b2 357.5px,#5184bc 371.5px,#4a7bb7 384.5px,#5385bc 400.5px)"></i><i style="left:114px;background:linear-gradient(#313695 0.5px,#313795 25.5px,#34409a 27.5px,#436fb1 31.5px,#6ba2cb 35.5px,#a6d5e7 38.5px,#e1f4f5 41.5px,#fafdc8 43.5px,#fff7b3 44.5px,#fed687 46.5px,#fdbc6f 47.5px,#f88d52 49.5px,#f57245 51.5px,#ea5839 54.5px,#e14430 60.5px,#e65036 73.5px,#f46d43 83.5px,#fdad61 96.5px,#fdc375 102.5px,#fee99d 114.5px,#ffffbe 126.5px,#dff3f8 152.5px,#abd9e9 191.5px,#95c8df 206.5px,#75aed1 216.5px,#5588be 236.5px,#5487be 254.5px,#497ab6 271.5px,#5183bb 295.5px,#4878b6 311.5px,#578abf 331.5px,#4370b1 356.5px,#5184bc 371.5px,#4c7db8 384.5px,#5385bc 400.5px)"></i><i style="left:117px;background:linear-gradient(#313695 0.5px,#323896 26.5px,#36479d 28.5px,#4676b5 32.5px,#73acd1 36.5px,#addae9 39.5px,#d3edf4 41.5px,#e4f4f1 42.5px,#fafdc8 44.5px,#fff8b5 45.5px,#fedc8d 47.5px,#fdb063 49.5px,#fb9d59 50.5px,#f7854e 52.5px,#f46c43 56.5px,#ed5e3c 64.5px,#f26941 78.5px,#fa9756 92.5px,#fdb063 98.5px,#fee091 114.5px,#fff7b3 125.5px,#ffffbf 130.5px,#e0f3f8 154.5px,#d2ecf4 160.5px,#abd9e9 194.5px,#97c9e0 208.5px,#6399c7 228.5px,#598cc0 238.5px,#5689bf 254.5px,#497ab7 271.5px,#5285bc 294.5px,#4879b6 310.5px,#578bbf 332.5px,#4370b2 356.5px,#5285bc 372.5px,#4d7fb9 384.5px,#5385bc 400.5px)"></i><i style="left:120px;background:linear-gradient(#313695 0.5px,#313795 26.5px,#34409a 28.5px,#436fb1 32.5px,#69a0ca 36.5px,#b3ddeb 40.5px,#d5eef5 42.5px,#e4f4f2 43.5px,#fffcbb 46.5px,#fdc678 50.5px,#fdab60 52.5px,#fa9656 54.5px,#f7844e 57.5px,#f57245 67.5px,#f67d4a 82.5px,#f99154 91.5px,#fdac60 98.5px,#fee090 117.5px,#ffffbf 133.5px,#e0f3f8 156.5px,#d2ecf4 162.5px,#9dcee3 207.5px,#8bbfdb 217.5px,#659bc8 230.5px,#4e7fb9 263.5px,#4a7bb7 273.5px,#5386bd 294.5px,#4a7ab7 311.5px,#588bbf 332.5px,#4471b2 356.5px,#5385bc 373.5px,#4e80ba 384.5px,#5385bc 400.5px)"></i><i style="left:123px;background:linear-gradient(#313695 0.5px,#313695 26.5px,#333e99 28.5px,#4473b3 33.5px,#6da4cc 37.5px,#b4ddeb 41.5px,#e2f4f5 44.5px,#fdfec3 47.5px,#fff8b5 48.5px,#fecc7d 52.5px,#fca85e 56.5px,#f88b51 63.5px,#f7834d 72.5px,#f88d52 90.5px,#fdae61 100.5px,#fed889 118.5px,#fffebe 135.5px,#e0f3f7 158.5px,#d2ecf4 164.5px,#aad8e8 201.5px,#8ec2dd 219.5px,#6aa1cb 231.5px,#4f81ba 263.5px,#4b7cb8 274.5px,#5588be 292.5px,#4b7cb8 311.5px,#578bbf 332.5px,#4472b3 356.5px,#5386bd 374.5px,#4e80ba 384.5px,#5385bc 400.5px)"></i><i style="left:126px;background:linear-gradient(#313695 0.5px,#313796 27.5px,#35429b 29.5px,#436eb0 33.5px,#6fa7ce 38.5px,#b3ddeb 42.5px,#dff2f8 45.5px,#fffebd 49.5px,#fed182 54.5px,#fdac60 60.5px,#fa9656 69.5px,#f88a51 83.5px,#f98f53 92.5px,#fdaf62 102.5px,#fed889 121.5px,#fffebd 138.5px,#f5fbd1 148.5px,#def2f7 161.5px,#d2ecf4 166.5px,#aad8e9 204.5px,#90c4dd 221.5px,#71a9cf 231.5px,#5082ba 263.5px,#4d7eb9 276.5px,#568abf 291.5px,#4c7eb9 312.5px,#568abf 333.5px,#4574b4 356.5px,#5386bd 375.5px,#4e80ba 384.5px,#5386bd 400.5px)"></i><i style="left:129px;background:linear-gradient(#313695 0.5px,#313795 27.5px,#343e99 29.5px,#4473b3 34.5px,#73abd0 39.5px,#b2ddeb 43.5px,#d9f0f6 46.5px,#e3f4f2 47.5px,#fffdbc 51.5px,#fed484 56.5px,#fdb76a 62.5px,#fb9e59 74.5px,#f88d52 88.5px,#f99053 94.5px,#fdaf62 104.5px,#fed484 122.5px,#fffbb9 140.5px,#f9fdca 149.5px,#dff2f8 163.5px,#d2ecf4 168.5px,#abd9e9 207.5px,#91c4de 224.5px,#75aed1 233.5px,#5183bb 262.5px,#4e80ba 277.5px,#588bbf 291.5px,#4d7fb9 306.5px,#5589be 333.5px,#4777b5 351.5px,#4676b4 361.5px,#5386bd 375.5px,#4e7fb9 385.5px,#5386bd 400.5px)"></i><i style="left:132px;background:linear-gradient(#313695 0.5px,#323896 28.5px,#4677b5 35.5px,#699fca 39.5px,#afdbea 44.5px,#ddf2f7 48.5px,#fffcbb 53.5px,#fed788 58.5px,#fdc274 63.5px,#fdad61 73.5px,#f88d52 91.5px,#f99154 96.5px,#fdae61 105.5px,#fed485 125.5px,#fff9b6 142.5px,#fbfec6 151.5px,#e0f3f8 165.5px,#d3edf4 171.5px,#aad8e9 211.5px,#91c5de 227.5px,#7bb3d4 235.5px,#5284bc 262.5px,#5082bb 279.5px,#598dc0 290.5px,#4e7fb9 304.5px,#5487bd 333.5px,#4676b4 363.5px,#5285bc 375.5px,#4d7fb9 385.5px,#5486bd 400.5px)"></i><i style="left:135px;background:linear-gradient(#313695 0.5px,#313796 28.5px,#35429b 30.5px,#4471b2 35.5px,#6aa2cb 40.5px,#abd9e9 45.5px,#dff3f8 50.5px,#fffcba 55.5px,#fedb8b 60.5px,#fecb7c 64.5px,#f99154 89.5px,#f98e52 94.5px,#fdae61 107.5px,#fed484 127.5px,#fff5b0 143.5px,#feffc1 152.5px,#dff2f8 169.5px,#abd9e9 214.5px,#90c4dd 231.5px,#5386bd 262.5px,#5284bc 279.5px,#5a8ec1 291.5px,#4e7fb9 303.5px,#5386bd 333.5px,#4676b4 363.5px,#5284bc 375.5px,#4c7eb9 385.5px,#5486bd 400.5px)"></i><i style="left:138px;background:linear-gradient(#313695 0.5px,#313795 28.5px,#343e99 30.5px,#4574b3 36.5px,#6298c6 40.5px,#a8d6e8 46.5px,#e0f3f8 52.5px,#fffcba 57.5px,#fee090 62.5px,#fed384 65.5px,#f99053 95.5px,#fdae61 109.5px,#fed182 128.5px,#fee79b 137.5px,#fffebd 152.5px,#e0f3f8 173.5px,#aad8e9 218.5px,#8bc0db 237.5px,#5689be 262.5px,#5487bd 279.5px,#5b90c2 291.5px,#4d7fb9 303.5px,#5284bc 333.5px,#4676b4 363.5px,#5183bb 375.5px,#4c7db8 385.5px,#5486bd 400.5px)"></i><i style="left:141px;background:linear-gradient(#313695 0.5px,#313796 29.5px,#4676b5 37.5px,#6399c6 41.5px,#a4d3e6 47.5px,#e1f3f6 54.5px,#fffbba 59.5px,#fee597 64.5px,#fed687 68.5px,#fa9b58 96.5px,#fba05a 104.5px,#fdae61 111.5px,#fecf80 129.5px,#ffffbf 154.5px,#edf8e1 166.5px,#e0f3f8 178.5px,#a9d8e8 222.5px,#8cc0dc 240.5px,#598dc1 262.5px,#5689bf 279.5px,#5d92c3 290.5px,#4e7fb9 302.5px,#5487be 313.5px,#4d7eb9 323.5px,#5183bb 333.5px,#4576b4 363.5px,#4f81ba 374.5px,#4b7cb8 385.5px,#5386bd 400.5px)"></i><i style="left:144px;background:linear-gradient(#313695 0.5px,#313795 29.5px,#333d98 31.5px,#4370b1 37.5px,#6298c6 42.5px,#a0d1e4 48.5px,#daf0f6 55.5px,#e3f4f3 56.5px,#fffcba 61.5px,#fee699 67.5px,#fed889 72.5px,#fdaf62 93.5px,#fa9b58 104.5px,#fdad61 113.5px,#fed282 132.5px,#ffffc0 155.5px,#e0f3f8 184.5px,#a7d6e7 227.5px,#8dc1dc 243.5px,#5e93c3 262.5px,#598dc0 280.5px,#5f94c4 290.5px,#4e80ba 302.5px,#5689bf 313.5px,#4d7fb9 323.5px,#4e7fb9 354.5px,#4576b4 363.5px,#4f81ba 374.5px,#4b7cb8 385.5px,#5386bd 400.5px)"></i><i style="left:147px;background:linear-gradient(#313695 0.5px,#313795 30.5px,#343f99 32.5px,#4777b5 39.5px,#6aa1cb 44.5px,#95c7df 48.5px,#ddf2f7 57.5px,#f9fdcb 61.5px,#fffcba 63.5px,#feea9f 69.5px,#fedd8d 75.5px,#fb9c59 107.5px,#fdaf62 116.5px,#fed283 134.5px,#ffffbf 156.5px,#e0f3f8 189.5px,#aad8e8 229.5px,#8cc0db 247.5px,#659bc8 261.5px,#5c90c2 280.5px,#6096c5 291.5px,#4f81ba 302.5px,#588bc0 313.5px,#4f80ba 323.5px,#4e80ba 354.5px,#4576b4 363.5px,#4f80ba 373.5px,#4b7cb7 384.5px,#5285bc 400.5px)"></i><i style="left:150px;background:linear-gradient(#313695 0.5px,#313796 31.5px,#4677b5 40.5px,#679ec9 45.5px,#99cbe1 50.5px,#dff3f8 59.5px,#f9fdca 63.5px,#fffcbb 65.5px,#fee191 78.5px,#fba05a 110.5px,#fdaf62 118.5px,#fed384 136.5px,#fffebd 157.5px,#e0f3f8 194.5px,#abd9e9 232.5px,#90c3dd 249.5px,#6fa7ce 260.5px,#6ba2cb 271.5px,#6095c5 279.5px,#6298c6 291.5px,#5183bb 302.5px,#5a8ec1 312.5px,#5082bb 324.5px,#4f81ba 354.5px,#4676b4 362.5px,#4f81ba 373.5px,#4b7cb7 384.5px,#5285bc 400.5px)"></i><i style="left:153px;background:linear-gradient(#313695 0.5px,#313896 32.5px,#4676b4 41.5px,#659bc7 46.5px,#95c7df 51.5px,#d9f0f6 60.5px,#e2f4f5 61.5px,#fafdc7 65.5px,#fffcbb 67.5px,#fee395 81.5px,#fca45c 114.5px,#fed283 137.5px,#fffebd 160.5px,#e0f3f8 198.5px,#aad9e9 236.5px,#8fc3dd 254.5px,#7ab2d4 263.5px,#73acd0 271.5px,#659bc8 279.5px,#649ac7 292.5px,#5386bd 302.5px,#5b90c2 312.5px,#5284bc 324.5px,#5082bb 353.5px,#4575b4 362.5px,#4f81ba 372.5px,#4b7cb8 384.5px,#5284bc 400.5px)"></i><i style="left:156px;background:linear-gradient(#313695 0.5px,#323896 33.5px,#4574b4 42.5px,#69a0ca 48.5px,#a0d0e4 54.5px,#ddf2f7 62.5px,#fbfdc6 67.5px,#fffdbc 69.5px,#fee598 84.5px,#fca75e 118.5px,#fee191 144.5px,#fffcba 162.5px,#e0f3f8 202.5px,#aad8e9 240.5px,#7fb6d6 270.5px,#6ca3cc 278.5px,#689ec9 291.5px,#578abf 301.5px,#5d92c3 311.5px,#4e80ba 342.5px,#5082bb 353.5px,#4575b4 362.5px,#4f81ba 372.5px,#4b7cb8 384.5px,#5284bc 400.5px)"></i><i style="left:159px;background:linear-gradient(#313695 0.5px,#323896 34.5px,#4472b3 43.5px,#659bc8 49.5px,#a3d3e6 56.5px,#e0f3f7 64.5px,#f7fcce 68.5px,#fffebd 71.5px,#fedf8f 94.5px,#fdab60 120.5px,#fee090 145.5px,#fff9b6 164.5px,#ffffbf 172.5px,#e0f3f8 206.5px,#8ec2dc 267.5px,#71aacf 279.5px,#6aa2cb 291.5px,#5a8ec1 301.5px,#5f94c4 310.5px,#4f81ba 342.5px,#5183bb 352.5px,#4575b4 362.5px,#5082ba 372.5px,#4b7db8 383.5px,#5284bc 400.5px)"></i><i style="left:162px;background:linear-gradient(#313695 0.5px,#313796 35.5px,#4676b5 45.5px,#679ec9 51.5px,#a5d4e7 58.5px,#dbf1f7 65.5px,#e2f4f4 66.5px,#f9fdc9 71.5px,#fffebd 74.5px,#fedf8f 99.5px,#fdb063 124.5px,#fee192 147.5px,#fff8b5 167.5px,#ffffc0 177.5px,#e0f3f8 210.5px,#91c4de 270.5px,#78b1d3 280.5px,#5e93c3 301.5px,#6297c6 309.5px,#5083bb 342.5px,#5284bc 352.5px,#4575b4 362.5px,#5082bb 372.5px,#4c7db8 383.5px,#5184bc 400.5px)"></i><i style="left:165px;background:linear-gradient(#313695 0.5px,#313796 36.5px,#4574b3 46.5px,#69a0ca 53.5px,#a7d6e7 60.5px,#def2f7 67.5px,#f6fccf 73.5px,#fffebd 78.5px,#fee091 103.5px,#fdb466 127.5px,#fee091 148.5px,#ffffbf 180.5px,#dff3f8 214.5px,#91c4de 274.5px,#6298c6 301.5px,#5b90c2 332.5px,#5183bb 343.5px,#5386bd 352.5px,#4676b4 362.5px,#4f81ba 372.5px,#5183bb 400.5px)"></i><i style="left:168px;background:linear-gradient(#313695 0.5px,#313795 37.5px,#333c98 39.5px,#4676b5 48.5px,#6ba2cb 55.5px,#aad8e9 62.5px,#e0f3f8 69.5px,#f3fad5 75.5px,#fffebe 82.5px,#fee090 108.5px,#fdb76a 130.5px,#fee191 150.5px,#ffffbe 184.5px,#dff3f8 218.5px,#92c5de 278.5px,#679dc9 301.5px,#5d92c3 332.5px,#5285bc 342.5px,#5487bd 352.5px,#4676b5 362.5px,#4f81ba 372.5px,#5183bb 400.5px)"></i><i style="left:171px;background:linear-gradient(#313695 0.5px,#313695 38.5px,#333b98 40.5px,#4473b3 49.5px,#6ca3cc 57.5px,#acdae9 64.5px,#dcf1f7 70.5px,#f6fccf 80.5px,#fffebe 87.5px,#fee191 112.5px,#fdbb6e 133.5px,#fee090 151.5px,#ffffbf 188.5px,#e0f3f8 221.5px,#91c5de 282.5px,#74add1 295.5px,#6095c4 315.5px,#5f94c4 331.5px,#5385bc 343.5px,#5588be 352.5px,#4676b5 363.5px,#5487bd 390.5px,#5082bb 400.5px)"></i><i style="left:174px;background:linear-gradient(#313695 0.5px,#313796 40.5px,#4575b4 51.5px,#6ea5cd 59.5px,#afdbea 66.5px,#cce9f2 69.5px,#def2f7 72.5px,#f5fbd2 83.5px,#fffebe 92.5px,#fdc173 135.5px,#fee191 153.5px,#ffffbf 192.5px,#e0f3f8 225.5px,#91c5de 286.5px,#74add1 299.5px,#6da5cd 308.5px,#6196c5 315.5px,#6096c5 331.5px,#5386bd 343.5px,#5588be 353.5px,#4677b5 363.5px,#5588be 389.5px,#4f81ba 400.5px)"></i><i style="left:177px;background:linear-gradient(#313695 0.5px,#313795 41.5px,#333c98 43.5px,#4676b5 53.5px,#6fa7ce 61.5px,#b3ddeb 68.5px,#d0ebf3 71.5px,#daf0f6 73.5px,#e1f3f6 75.5px,#eff9dc 83.5px,#fffebe 97.5px,#fdc678 137.5px,#fee091 155.5px,#ffffbf 195.5px,#e0f3f8 228.5px,#92c5de 289.5px,#6297c6 316.5px,#6297c6 331.5px,#5486bd 343.5px,#5689be 353.5px,#4777b5 363.5px,#5689be 388.5px,#4f81ba 400.5px)"></i><i style="left:180px;background:linear-gradient(#313695 0.5px,#313695 42.5px,#323a97 44.5px,#4473b3 54.5px,#70a8ce 63.5px,#abd9e9 69.5px,#c9e8f1 72.5px,#daf0f6 75.5px,#e0f3f8 77.5px,#f1fad8 88.5px,#ffffbe 101.5px,#fed687 129.5px,#fecc7d 138.5px,#ffffbf 198.5px,#dff3f8 232.5px,#92c5de 293.5px,#649ac7 316.5px,#6399c7 331.5px,#5487bd 343.5px,#568abf 353.5px,#4778b6 364.5px,#568abf 387.5px,#4f81ba 400.5px)"></i><i style="left:183px;background:linear-gradient(#313695 0.5px,#313796 44.5px,#4575b4 56.5px,#70a8cf 65.5px,#acdae9 71.5px,#d5edf5 76.5px,#e1f3f7 80.5px,#ffffbf 105.5px,#fed989 131.5px,#fed182 139.5px,#fee597 169.5px,#ffffbf 201.5px,#e0f3f8 235.5px,#90c4dd 298.5px,#669dc9 317.5px,#659bc8 331.5px,#5487bd 343.5px,#568abf 354.5px,#4979b6 364.5px,#578bbf 387.5px,#4f81ba 400.5px)"></i><i style="left:186px;background:linear-gradient(#313695 0.5px,#313796 46.5px,#4472b2 57.5px,#6ba2cb 66.5px,#aedaea 73.5px,#c8e7f1 76.5px,#d7eef5 79.5px,#dff3f8 82.5px,#fffebe 109.5px,#fedc8c 134.5px,#fed485 149.5px,#fee394 171.5px,#ffffbf 204.5px,#e0f3f8 238.5px,#91c5de 301.5px,#6ca4cc 316.5px,#679ec9 331.5px,#5588be 341.5px,#588bbf 354.5px,#4a7bb7 365.5px,#4d7fb9 377.5px,#588bbf 386.5px,#5082bb 400.5px)"></i><i style="left:189px;background:linear-gradient(#313695 0.5px,#313795 47.5px,#4574b4 59.5px,#6ea6cd 68.5px,#afdbea 75.5px,#d5eef5 81.5px,#e0f3f8 85.5px,#fffebe 112.5px,#fedb8b 141.5px,#fed384 150.5px,#feda8b 167.5px,#ffffbf 207.5px,#dff2f8 242.5px,#91c4de 305.5px,#71a9cf 317.5px,#6aa1cb 331.5px,#5689be 341.5px,#598dc0 354.5px,#4b7db8 366.5px,#4d7fb9 377.5px,#588bbf 386.5px,#5184bc 400.5px)"></i><i style="left:192px;background:linear-gradient(#313695 0.5px,#313695 48.5px,#333b97 50.5px,#4472b3 60.5px,#6ba2cb 69.5px,#a8d6e8 76.5px,#c6e6f1 80.5px,#d5edf5 83.5px,#e1f3f7 88.5px,#fffebe 115.5px,#fee79a 134.5px,#fed586 150.5px,#fed586 169.5px,#ffffbf 210.5px,#dff2f8 245.5px,#91c4de 309.5px,#74add1 320.5px,#6ea6cd 331.5px,#578abf 341.5px,#5a8fc1 355.5px,#4d7fb9 366.5px,#4e7fb9 377.5px,#578abf 386.5px,#5386bd 400.5px)"></i><i style="left:195px;background:linear-gradient(#313695 0.5px,#313796 50.5px,#4575b4 62.5px,#689fc9 70.5px,#a9d8e8 78.5px,#d3edf4 85.5px,#e0f3f8 90.5px,#ffffbf 117.5px,#fee79a 138.5px,#fed282 158.5px,#fed586 173.5px,#fee89c 186.5px,#ffffbf 213.5px,#e0f3f8 247.5px,#91c4dd 314.5px,#7bb3d4 323.5px,#73acd0 331.5px,#598dc0 341.5px,#5d92c3 355.5px,#5082bb 365.5px,#4e80ba 376.5px,#5689be 386.5px,#5587be 400.5px)"></i><i style="left:198px;background:linear-gradient(#313695 0.5px,#333b98 53.5px,#4777b5 64.5px,#6196c5 70.5px,#abd9e9 80.5px,#c5e6f0 84.5px,#e1f3f7 93.5px,#fffebe 121.5px,#fedb8c 152.5px,#fed182 166.5px,#fed485 175.5px,#fee79a 187.5px,#ffffbe 215.5px,#e0f3f7 250.5px,#90c4dd 319.5px,#77afd2 332.5px,#5b8fc2 342.5px,#5f94c4 356.5px,#5386bd 365.5px,#5082bb 376.5px,#5689be 400.5px)"></i><i style="left:201px;background:linear-gradient(#313695 0.5px,#313695 51.5px,#343e99 55.5px,#3c59a6 59.5px,#4575b4 65.5px,#5f94c4 71.5px,#92c5de 78.5px,#bfe3ef 85.5px,#d2ecf4 89.5px,#e0f3f8 95.5px,#ffffbf 124.5px,#fee698 146.5px,#fecf80 167.5px,#fed586 177.5px,#fee79a 189.5px,#ffffbf 218.5px,#e0f3f8 253.5px,#8fc3dd 324.5px,#7eb5d5 332.5px,#5f94c4 342.5px,#6298c6 356.5px,#5689be 366.5px,#5183bb 377.5px,#578bbf 400.5px)"></i><i style="left:204px;background:linear-gradient(#313695 0.5px,#313695 52.5px,#333d99 56.5px,#4574b3 66.5px,#588cc0 71.5px,#6da5cd 75.5px,#8ec2dc 79.5px,#bfe3ef 87.5px,#d1ecf4 91.5px,#dff3f8 97.5px,#fffebe 127.5px,#fecf80 169.5px,#fed585 178.5px,#fee79b 191.5px,#ffffbf 221.5px,#e0f3f8 256.5px,#8fc3dd 328.5px,#84bad8 333.5px,#649ac7 342.5px,#659bc8 356.5px,#588cc0 367.5px,#5183bb 383.5px,#588cc0 400.5px)"></i><i style="left:207px;background:linear-gradient(#313695 0.5px,#333b98 57.5px,#3d5aa7 62.5px,#5184bc 71.5px,#6aa1cb 76.5px,#8abfdb 80.5px,#b5deec 87.5px,#d1ecf4 93.5px,#e0f3f7 100.5px,#fffebe 129.5px,#fed586 163.5px,#fecf80 172.5px,#ffffbf 223.5px,#e0f3f8 259.5px,#90c4dd 331.5px,#69a0ca 343.5px,#669dc9 358.5px,#4f80ba 385.5px,#598cc0 400.5px)"></i><i style="left:210px;background:linear-gradient(#313695 0.5px,#313695 55.5px,#343e99 59.5px,#3e5ea8 64.5px,#5082bb 72.5px,#679ec9 77.5px,#87bcd9 81.5px,#abd9e9 87.5px,#cdeaf3 94.5px,#e0f3f8 102.5px,#fffebe 131.5px,#fed686 165.5px,#fed081 174.5px,#ffffbf 226.5px,#dff3f8 262.5px,#90c4dd 334.5px,#70a9cf 344.5px,#689ec9 360.5px,#4d7fb9 385.5px,#598dc0 400.5px)"></i><i style="left:213px;background:linear-gradient(#313695 0.5px,#313695 56.5px,#333d98 60.5px,#3b57a5 64.5px,#4e80ba 73.5px,#6ba2cb 79.5px,#8bbfdb 83.5px,#addaea 89.5px,#d0ebf3 97.5px,#e0f3f8 104.5px,#ffffbe 133.5px,#fed788 167.5px,#fed182 176.5px,#ffffbe 228.5px,#e0f3f8 264.5px,#92c5de 336.5px,#73acd1 347.5px,#69a0ca 362.5px,#4c7db8 385.5px,#598dc0 400.5px)"></i><i style="left:216px;background:linear-gradient(#313695 0.5px,#333b98 61.5px,#4d7eb9 74.5px,#689fc9 80.5px,#8fc2dd 85.5px,#aedaea 91.5px,#cfebf3 99.5px,#dff3f8 106.5px,#ffffbf 135.5px,#fed687 170.5px,#fed283 178.5px,#ffffbf 231.5px,#e0f3f8 267.5px,#91c4de 340.5px,#74add1 351.5px,#69a0ca 365.5px,#4a7ab7 386.5px,#598dc0 400.5px)"></i><i style="left:219px;background:linear-gradient(#313695 0.5px,#323a97 62.5px,#4f81ba 76.5px,#6ca3cc 82.5px,#8cc0db 86.5px,#abd9e9 92.5px,#cfebf3 101.5px,#e1f3f7 109.5px,#ffffbe 138.5px,#fed787 172.5px,#fed384 179.5px,#ffffbf 234.5px,#e0f3f8 270.5px,#91c4de 343.5px,#76afd2 353.5px,#6ca3cc 366.5px,#4979b6 386.5px,#598dc0 400.5px)"></i><i style="left:222px;background:linear-gradient(#313695 0.5px,#313695 60.5px,#333d98 64.5px,#3d5ca8 69.5px,#4e7fb9 77.5px,#6aa1cb 83.5px,#89beda 87.5px,#acd9e9 94.5px,#cfebf3 103.5px,#e1f3f7 111.5px,#fffebe 141.5px,#fed384 179.5px,#feffc0 237.5px,#dff3f8 273.5px,#90c4dd 346.5px,#77b0d2 355.5px,#6ea6cd 367.5px,#4879b6 386.5px,#598dc0 400.5px)"></i><i style="left:225px;background:linear-gradient(#313695 0.5px,#333b98 65.5px,#3c5aa7 70.5px,#4c7eb9 78.5px,#679ec9 84.5px,#8dc1dc 89.5px,#addaea 96.5px,#d0ebf3 105.5px,#e1f3f7 113.5px,#ffffbf 143.5px,#fed586 180.5px,#fed788 188.5px,#ffffc0 239.5px,#e0f3f8 275.5px,#90c3dd 349.5px,#7cb3d4 356.5px,#71aacf 367.5px,#4979b6 386.5px,#598dc1 400.5px)"></i><i style="left:228px;background:linear-gradient(#313695 0.5px,#313695 63.5px,#333e99 67.5px,#3c58a6 71.5px,#4f81ba 80.5px,#6aa2cb 86.5px,#8abedb 90.5px,#aad8e9 97.5px,#d1ecf4 107.5px,#dff3f8 114.5px,#ffffbf 146.5px,#fedf8f 176.5px,#fed889 188.5px,#feffc0 242.5px,#e0f3f8 278.5px,#91c4de 351.5px,#7eb5d5 359.5px,#73acd1 368.5px,#4879b6 387.5px,#5a8ec1 400.5px)"></i><i style="left:231px;background:linear-gradient(#313695 0.5px,#313695 64.5px,#333c98 68.5px,#3d5ba7 73.5px,#4d7eb9 81.5px,#689ec9 87.5px,#8dc1dc 92.5px,#acd9e9 99.5px,#cfebf3 108.5px,#dff3f8 116.5px,#ffffbe 149.5px,#fee496 175.5px,#feda8b 191.5px,#ffffc0 244.5px,#e0f3f8 281.5px,#90c4dd 354.5px,#77afd2 368.5px,#4a7bb7 387.5px,#5a8ec1 400.5px)"></i><i style="left:234px;background:linear-gradient(#313695 0.5px,#333b97 69.5px,#3c59a6 74.5px,#4b7cb8 82.5px,#6ba2cb 89.5px,#8abedb 93.5px,#addaea 101.5px,#d0ebf3 110.5px,#dff3f8 118.5px,#fffebe 152.5px,#fee79b 175.5px,#fedc8c 193.5px,#feffc0 247.5px,#e0f3f8 284.5px,#90c3dd 357.5px,#78b0d3 369.5px,#4c7db8 387.5px,#5b8fc2 400.5px)"></i><i style="left:237px;background:linear-gradient(#313695 0.5px,#323997 70.5px,#4d7fb9 84.5px,#689ec9 90.5px,#8dc1dc 95.5px,#abd9e9 102.5px,#cdeaf3 111.5px,#e0f3f8 120.5px,#fffebe 154.5px,#fee99e 176.5px,#fede8e 195.5px,#ffffbf 248.5px,#dff3f8 288.5px,#8fc3dd 360.5px,#7fb6d6 368.5px,#4f81ba 387.5px,#5c90c2 400.5px)"></i><i style="left:240px;background:linear-gradient(#313695 0.5px,#333b98 72.5px,#3c5aa6 77.5px,#4b7cb8 85.5px,#6ba2cb 92.5px,#8abedb 96.5px,#addae9 104.5px,#ceeaf3 113.5px,#e0f3f8 122.5px,#fffebe 156.5px,#feeba1 177.5px,#fee090 197.5px,#feffc0 251.5px,#dff3f8 292.5px,#8ec2dc 363.5px,#5284bc 387.5px,#5d92c3 400.5px)"></i><i style="left:243px;background:linear-gradient(#313695 0.5px,#323997 73.5px,#3c57a5 78.5px,#4d7fb9 87.5px,#689fc9 93.5px,#8dc1dc 98.5px,#aad9e9 105.5px,#ceeaf3 115.5px,#e0f3f8 124.5px,#fffebe 158.5px,#fee191 199.5px,#ffffbf 252.5px,#dff3f8 296.5px,#90c3dd 364.5px,#5588be 387.5px,#5f94c4 400.5px)"></i><i style="left:246px;background:linear-gradient(#313695 0.5px,#313695 71.5px,#333d98 75.5px,#3d5ba7 80.5px,#4b7db8 88.5px,#6ba3cc 95.5px,#8abfdb 99.5px,#acdae9 107.5px,#cfeaf3 117.5px,#e0f3f8 126.5px,#ffffbe 160.5px,#fee192 202.5px,#ffffbf 253.5px,#e8f6ea 292.5px,#dff2f8 300.5px,#90c4dd 366.5px,#598dc0 387.5px,#6196c5 400.5px)"></i><i style="left:249px;background:linear-gradient(#313695 0.5px,#333b97 76.5px,#3c59a6 81.5px,#4a7bb7 89.5px,#699fca 96.5px,#8ec1dc 101.5px,#aad8e9 108.5px,#cfebf3 119.5px,#e0f3f7 128.5px,#ffffbf 162.5px,#fee192 203.5px,#ffffbf 254.5px,#f1f9d9 276.5px,#edf8e0 292.5px,#dff3f8 303.5px,#c0e4ef 324.5px,#91c4dd 368.5px,#5c90c2 388.5px,#6399c7 400.5px)"></i><i style="left:252px;background:linear-gradient(#313695 0.5px,#323997 77.5px,#3c57a5 82.5px,#4d7eb9 91.5px,#679dc9 97.5px,#8bbfdb 102.5px,#acdae9 110.5px,#cdeaf3 120.5px,#dff3f8 129.5px,#fffebe 165.5px,#fee293 205.5px,#ffffbf 256.5px,#f2fad8 278.5px,#f2fad7 293.5px,#def2f7 306.5px,#bfe3ef 327.5px,#91c4de 370.5px,#6096c5 388.5px,#669cc8 400.5px)"></i><i style="left:255px;background:linear-gradient(#313695 0.5px,#313695 75.5px,#333d98 79.5px,#3d5ba7 84.5px,#4c7db8 92.5px,#6aa1cb 99.5px,#8fc2dd 104.5px,#abd9e9 111.5px,#cfebf3 122.5px,#e0f3f8 131.5px,#ffffbe 167.5px,#fee293 207.5px,#ffffbf 257.5px,#f3fad5 278.5px,#f3fad4 294.5px,#dff2f8 308.5px,#bfe3ef 329.5px,#90c4dd 373.5px,#669cc8 388.5px,#689fca 400.5px)"></i><i style="left:258px;background:linear-gradient(#313695 0.5px,#313695 76.5px,#333c98 80.5px,#3c5aa7 85.5px,#4b7cb8 93.5px,#699fca 100.5px,#8ec1dc 105.5px,#addae9 113.5px,#d0ebf4 124.5px,#e1f3f7 133.5px,#fffebe 169.5px,#fee293 208.5px,#ffffbf 257.5px,#f5fbd2 277.5px,#f3fad4 296.5px,#def2f8 310.5px,#bee2ee 332.5px,#91c4de 375.5px,#6ca4cc 388.5px,#6ca3cc 400.5px)"></i><i style="left:261px;background:linear-gradient(#313695 0.5px,#313695 77.5px,#333c98 81.5px,#3c5aa7 86.5px,#4b7cb7 94.5px,#689fca 101.5px,#8dc1dc 106.5px,#acd9e9 114.5px,#cfebf3 125.5px,#e0f3f8 134.5px,#ffffbf 170.5px,#fee394 210.5px,#ffffbf 258.5px,#f6fbd0 277.5px,#f4fbd4 297.5px,#e0f3f8 311.5px,#bfe3ef 333.5px,#90c4dd 378.5px,#74acd1 389.5px,#70a8ce 400.5px)"></i><i style="left:264px;background:linear-gradient(#313695 0.5px,#313695 78.5px,#333b98 82.5px,#3c59a6 87.5px,#4a7bb7 95.5px,#679ec9 102.5px,#8cc0dc 107.5px,#abd9e9 115.5px,#cfeaf3 126.5px,#e0f3f8 135.5px,#ffffbf 172.5px,#fee394 212.5px,#ffffbf 258.5px,#f7fcce 277.5px,#f4fbd4 298.5px,#dff2f8 313.5px,#bbe1ee 338.5px,#92c5de 380.5px,#7bb3d4 392.5px,#76aed2 400.5px)"></i><i style="left:267px;background:linear-gradient(#313695 0.5px,#313695 79.5px,#333c98 83.5px,#3c59a6 88.5px,#4a7bb7 96.5px,#679dc9 103.5px,#8cc0db 108.5px,#aad8e8 116.5px,#d0ebf4 128.5px,#e0f3f7 137.5px,#ffffbf 174.5px,#fee395 213.5px,#ffffbf 259.5px,#f4fbd4 299.5px,#dff3f8 314.5px,#bce1ee 339.5px,#7eb5d5 400.5px)"></i><i style="left:270px;background:linear-gradient(#313695 0.5px,#333b97 84.5px,#3c59a6 89.5px,#4d7eb9 98.5px,#669cc8 104.5px,#8abfdb 109.5px,#acdae9 118.5px,#d0ebf3 129.5px,#e0f3f8 138.5px,#ffffbf 176.5px,#fee495 215.5px,#ffffbf 258.5px,#f4fbd4 300.5px,#e0f3f8 315.5px,#b4deec 348.5px,#88bdda 400.5px)"></i><i style="left:273px;background:linear-gradient(#313695 0.5px,#323a97 85.5px,#3c58a6 90.5px,#4c7eb8 99.5px,#6aa1cb 106.5px,#8ec2dc 111.5px,#acd9e9 119.5px,#d0ebf3 130.5px,#e0f3f8 139.5px,#ffffbf 177.5px,#fee395 216.5px,#ffffbf 257.5px,#f4fbd3 300.5px,#e0f3f8 316.5px,#b0dbea 354.5px,#90c3dd 400.5px)"></i><i style="left:276px;background:linear-gradient(#313695 0.5px,#323997 86.5px,#3d5ba7 92.5px,#4b7cb8 100.5px,#689fca 107.5px,#8dc1dc 112.5px,#abd9e9 120.5px,#cfebf3 131.5px,#e0f3f8 140.5px,#ffffbf 179.5px,#fee395 217.5px,#ffffbf 256.5px,#f4fbd3 300.5px,#e0f3f8 317.5px,#afdbea 357.5px,#94c7df 400.5px)"></i><i style="left:279px;background:linear-gradient(#313695 0.5px,#323996 87.5px,#4a7bb7 101.5px,#679dc9 108.5px,#8bbfdb 113.5px,#abd9e9 121.5px,#cfebf3 132.5px,#e0f3f8 141.5px,#ffffbf 181.5px,#fee394 217.5px,#ffffbf 255.5px,#f4fbd3 301.5px,#e0f3f8 318.5px,#b0dbea 358.5px,#98cae1 400.5px)"></i><i style="left:282px;background:linear-gradient(#313695 0.5px,#323996 88.5px,#4a7bb7 102.5px,#679dc9 109.5px,#8abfdb 114.5px,#abd9e9 122.5px,#d0ebf3 133.5px,#dff3f8 142.5px,#ffffbf 182.5px,#fee293 218.5px,#ffffbf 253.5px,#f4fbd3 301.5px,#e0f3f8 319.5px,#b0dceb 359.5px,#9bcce2 400.5px)"></i><i style="left:285px;background:linear-gradient(#313695 0.5px,#323996 89.5px,#3d5ba7 95.5px,#4a7cb7 103.5px,#679dc9 110.5px,#8bbfdb 115.5px,#abd9e9 123.5px,#d0ebf4 134.5px,#dff3f8 143.5px,#ffffbe 184.5px,#fee293 219.5px,#ffffbf 252.5px,#f4fbd3 301.5px,#e0f3f7 319.5px,#b2dceb 359.5px,#9dcee3 400.5px)"></i><i style="left:288px;background:linear-gradient(#313695 0.5px,#323a97 90.5px,#3b57a5 95.5px,#4b7cb8 104.5px,#679ec9 111.5px,#8bbfdb 116.5px,#acd9e9 124.5px,#d1ecf4 135.5px,#e0f3f8 144.5px,#ffffbf 185.5px,#fee192 219.5px,#ffffbf 250.5px,#f4fbd3 301.5px,#e0f3f8 320.5px,#b2ddeb 360.5px,#9fd0e4 400.5px)"></i><i style="left:291px;background:linear-gradient(#313695 0.5px,#323b97 91.5px,#3c58a6 96.5px,#4c7db8 105.5px,#689fca 112.5px,#8cc0dc 117.5px,#addae9 125.5px,#d2ecf4 136.5px,#e0f3f8 145.5px,#ffffbf 186.5px,#fee192 220.5px,#ffffbf 249.5px,#f4fbd3 301.5px,#e0f3f8 320.5px,#b3ddeb 360.5px,#a1d1e5 400.5px)"></i><i style="left:294px;background:linear-gradient(#313695 0.5px,#323996 91.5px,#497ab7 105.5px,#6aa1cb 113.5px,#8ec2dc 118.5px,#aedaea 126.5px,#d0ebf3 136.5px,#e0f3f8 146.5px,#ffffbe 188.5px,#fee191 220.5px,#ffffbf 248.5px,#f4fbd3 300.5px,#dff3f8 321.5px,#b5deec 360.5px,#a3d2e5 400.5px)"></i><i style="left:297px;background:linear-gradient(#313695 0.5px,#323a97 92.5px,#3d5ca8 98.5px,#4b7cb8 106.5px,#679ec9 113.5px,#8bbfdb 118.5px,#acd9e9 126.5px,#d1ecf4 137.5px,#e0f3f8 147.5px,#ffffbf 189.5px,#fee090 221.5px,#ffffbf 247.5px,#f4fbd3 300.5px,#e0f3f8 321.5px,#b5deec 360.5px,#a4d4e6 400.5px)"></i><i style="left:300px;background:linear-gradient(#313695 0.5px,#323997 92.5px,#3d5aa7 98.5px,#4d7eb9 107.5px,#6aa1cb 114.5px,#8ec2dc 119.5px,#addaea 127.5px,#d1ecf4 138.5px,#e0f3f8 148.5px,#ffffbf 190.5px,#fee090 221.5px,#ffffbf 246.5px,#f4fbd3 300.5px,#e0f3f8 321.5px,#b6deec 361.5px,#a5d4e7 400.5px)"></i><i style="left:303px;background:linear-gradient(#313695 0.5px,#323996 92.5px,#4879b6 106.5px,#689fca 114.5px,#8dc1dc 119.5px,#abd9e9 127.5px,#cfebf3 138.5px,#e0f3f8 149.5px,#ffffbf 191.5px,#fedf8f 221.5px,#ffffbf 245.5px,#f4fbd3 299.5px,#e0f3f8 321.5px,#b6dfec 361.5px,#a6d5e7 400.5px)"></i><i style="left:306px;background:linear-gradient(#313695 0.5px,#333b97 93.5px,#3d5ca8 99.5px,#4878b6 106.5px,#679ec9 114.5px,#8abfdb 119.5px,#addaea 128.5px,#d0ebf3 139.5px,#e0f3f8 150.5px,#ffffbf 192.5px,#fede8e 221.5px,#ffffbf 245.5px,#f4fbd3 299.5px,#e0f3f8 321.5px,#b7dfec 361.5px,#a7d6e7 400.5px)"></i><i style="left:309px;background:linear-gradient(#313695 0.5px,#323a97 93.5px,#3d5ca8 99.5px,#4878b6 106.5px,#679ec9 114.5px,#8ec2dc 120.5px,#abd9e9 128.5px,#d0ebf3 140.5px,#e0f3f8 151.5px,#ffffbf 193.5px,#fedd8d 220.5px,#ffffbf 244.5px,#f4fbd3 299.5px,#e0f3f8 321.5px,#b7dfed 361.5px,#a8d6e7 400.5px)"></i><i style="left:312px;background:linear-gradient(#313695 0.5px,#323997 93.5px,#3d5ca8 99.5px,#4b7cb8 107.5px,#669cc8 114.5px,#8dc1dc 120.5px,#aad8e8 128.5px,#d0ebf4 141.5px,#e0f3f8 152.5px,#ffffbf 194.5px,#fedc8d 220.5px,#ffffbf 244.5px,#f4fbd3 299.5px,#e0f3f8 321.5px,#b8dfed 361.5px,#a8d6e8 400.5px)"></i><i style="left:315px;background:linear-gradient(#313695 0.5px,#323997 93.5px,#3d5ca8 99.5px,#4e80b9 108.5px,#69a0ca 115.5px,#8dc1dc 120.5px,#abd9e9 129.5px,#d1ebf4 142.5px,#e0f3f8 153.5px,#ffffc0 194.5px,#fedc8c 219.5px,#ffffbf 244.5px,#f4fbd3 299.5px,#e0f3f8 321.5px,#b8dfed 361.5px,#a7d6e7 400.5px)"></i><i style="left:318px;background:linear-gradient(#313695 0.5px,#323997 93.5px,#3d5ca8 99.5px,#4c7eb9 108.5px,#689fca 115.5px,#8dc1dc 120.5px,#aad8e9 129.5px,#d1ebf4 143.5px,#e0f3f8 154.5px,#ffffbf 195.5px,#fedb8b 219.5px,#ffffbf 244.5px,#f4fbd3 299.5px,#e0f3f8 321.5px,#b9e0ed 360.5px,#a7d6e7 400.5px)"></i><i style="left:321px;background:linear-gradient(#313695 0.5px,#323997 93.5px,#3d5ca8 99.5px,#4879b6 107.5px,#689ec9 115.5px,#8cc1dc 120.5px,#acd9e9 130.5px,#d1ecf4 144.5px,#e0f3f8 155.5px,#ffffbf 195.5px,#feda8a 218.5px,#ffffbf 244.5px,#f4fbd3 300.5px,#e0f3f8 321.5px,#b9e0ed 360.5px,#a7d6e7 400.5px)"></i><i style="left:324px;background:linear-gradient(#313695 0.5px,#323997 93.5px,#3d5ca8 99.5px,#4879b6 107.5px,#689ec9 115.5px,#8cc0dc 120.5px,#aad8e9 130.5px,#d1ebf4 145.5px,#e0f3f8 156.5px,#fffebe 195.5px,#fed98a 218.5px,#ffffbf 245.5px,#f4fbd3 300.5px,#dff3f8 321.5px,#b8e0ed 361.5px,#a8d6e8 400.5px)"></i><i style="left:327px;background:linear-gradient(#313695 0.5px,#323997 93.5px,#3d5ca8 99.5px,#4879b6 107.5px,#679ec9 115.5px,#8fc3dd 121.5px,#abd9e9 131.5px,#d0ebf4 146.5px,#e0f3f8 157.5px,#ffffbf 194.5px,#fed889 217.5px,#ffffbf 245.5px,#f4fbd3 300.5px,#e0f3f8 320.5px,#b8dfed 361.5px,#a8d7e8 400.5px)"></i><i style="left:330px;background:linear-gradient(#313695 0.5px,#323997 93.5px,#3d5ba7 99.5px,#4878b6 107.5px,#679ec9 115.5px,#8dc1dc 121.5px,#aad8e9 131.5px,#d0ebf3 147.5px,#e0f3f8 158.5px,#fffebe 194.5px,#fed788 216.5px,#ffffbf 245.5px,#f4fbd3 300.5px,#dff3f8 320.5px,#b8dfed 361.5px,#a8d7e8 400.5px)"></i><i style="left:333px;background:linear-gradient(#313695 0.5px,#323997 93.5px,#3d5ba7 99.5px,#4878b6 107.5px,#679ec9 115.5px,#8dc1dc 121.5px,#a9d7e8 131.5px,#dff3f8 159.5px,#ffffbe 193.5px,#fed788 215.5px,#ffffbf 246.5px,#f4fbd3 299.5px,#e0f3f8 319.5px,#b8dfed 361.5px,#a8d7e8 400.5px)"></i><i style="left:336px;background:linear-gradient(#313695 0.5px,#323997 93.5px,#4878b6 107.5px,#679dc9 115.5px,#87bcd9 120.5px,#97c9e0 124.5px,#acd9e9 133.5px,#dff3f8 160.5px,#ffffbf 192.5px,#fed787 213.5px,#ffffbf 246.5px,#f4fbd3 298.5px,#e0f3f7 318.5px,#d3edf4 325.5px,#b7dfed 361.5px,#a8d7e8 400.5px)"></i><i style="left:339px;background:linear-gradient(#313695 0.5px,#323996 93.5px,#4878b6 107.5px,#659bc8 115.5px,#86bcd9 120.5px,#94c6df 123.5px,#abd9e9 133.5px,#e0f3f8 161.5px,#fffebe 192.5px,#fed687 212.5px,#ffffbf 246.5px,#f4fbd3 297.5px,#e0f3f8 318.5px,#d3ecf4 325.5px,#b7dfec 361.5px,#a7d6e7 400.5px)"></i><i style="left:342px;background:linear-gradient(#313695 0.5px,#323996 93.5px,#4a7bb7 108.5px,#689fca 116.5px,#85bad8 120.5px,#93c6de 123.5px,#acd9e9 134.5px,#e0f3f8 162.5px,#ffffbe 191.5px,#fed586 211.5px,#ffffbf 246.5px,#f4fbd3 297.5px,#e0f3f8 318.5px,#d3edf4 325.5px,#b6dfec 361.5px,#a6d5e7 400.5px)"></i><i style="left:345px;background:linear-gradient(#313695 0.5px,#323a97 94.5px,#3d5ca8 100.5px,#4c7db8 109.5px,#679ec9 116.5px,#89bdda 121.5px,#94c7df 124.5px,#addae9 135.5px,#dff2f8 162.5px,#fffebe 191.5px,#fedb8b 206.5px,#fed485 210.5px,#ffffbf 246.5px,#f4fbd3 298.5px,#e0f3f8 318.5px,#d3ecf4 326.5px,#b6dfec 360.5px,#a5d4e7 400.5px)"></i><i style="left:348px;background:linear-gradient(#313695 0.5px,#323997 94.5px,#3b56a5 99.5px,#4878b6 108.5px,#669cc8 116.5px,#87bcd9 121.5px,#94c6df 124.5px,#acd9e9 135.5px,#e0f3f8 163.5px,#ffffbe 190.5px,#fed98a 205.5px,#fed484 211.5px,#ffffbf 247.5px,#f4fbd3 298.5px,#e0f3f8 318.5px,#b6dfec 359.5px,#a4d3e6 400.5px)"></i><i style="left:351px;background:linear-gradient(#313695 0.5px,#323996 94.5px,#4b7cb7 109.5px,#689fca 117.5px,#85bbd8 121.5px,#93c5de 124.5px,#abd9e9 135.5px,#dff3f8 163.5px,#ffffbe 189.5px,#fed889 204.5px,#fed283 211.5px,#ffffbf 247.5px,#f4fbd3 299.5px,#e0f3f8 318.5px,#b6dfec 358.5px,#a2d2e5 400.5px)"></i><i style="left:354px;background:linear-gradient(#313695 0.5px,#323996 94.5px,#497ab7 109.5px,#679ec9 117.5px,#89bdda 122.5px,#94c7df 125.5px,#acdae9 136.5px,#dff2f8 163.5px,#fffebe 188.5px,#fed788 203.5px,#fed081 210.5px,#fed585 216.5px,#ffffbf 247.5px,#f4fbd3 299.5px,#e0f3f8 318.5px,#b6deec 357.5px,#a0d1e4 400.5px)"></i><i style="left:357px;background:linear-gradient(#313695 0.5px,#323a97 95.5px,#3b57a5 100.5px,#4879b6 109.5px,#669cc8 117.5px,#87bcd9 122.5px,#93c6df 125.5px,#acd9e9 136.5px,#dff3f8 163.5px,#ffffbf 186.5px,#fed687 202.5px,#fecc7d 210.5px,#ffffbe 247.5px,#f4fbd3 299.5px,#e0f3f8 318.5px,#b6deec 356.5px,#9ecfe3 400.5px)"></i><i style="left:360px;background:linear-gradient(#313695 0.5px,#323997 95.5px,#3c59a6 101.5px,#4a7bb7 110.5px,#689fca 118.5px,#84bad8 122.5px,#92c5de 125.5px,#abd9e9 136.5px,#e0f3f7 163.5px,#fffebe 185.5px,#fed586 201.5px,#fdc678 210.5px,#fee192 223.5px,#ffffbf 248.5px,#f4fbd3 299.5px,#dff3f8 318.5px,#b6deec 355.5px,#9bcce2 400.5px)"></i><i style="left:363px;background:linear-gradient(#313695 0.5px,#313695 92.5px,#333c98 96.5px,#3d5ca8 102.5px,#4979b6 110.5px,#679dc9 118.5px,#87bdd9 123.5px,#94c7df 126.5px,#abd9e9 136.5px,#dff3f8 162.5px,#ffffbf 183.5px,#fed788 199.5px,#fdc274 209.5px,#fee191 223.5px,#ffffbf 249.5px,#f4fbd3 299.5px,#e0f3f8 317.5px,#b7dfec 352.5px,#98cae1 400.5px)"></i><i style="left:366px;background:linear-gradient(#313695 0.5px,#323a97 96.5px,#3b56a5 101.5px,#4b7cb8 111.5px,#69a0ca 119.5px,#93c6de 126.5px,#abd9e9 136.5px,#dff2f8 161.5px,#fffebd 182.5px,#fed989 197.5px,#fdbf71 209.5px,#fee191 223.5px,#ffffbe 249.5px,#f4fbd3 298.5px,#e0f3f7 316.5px,#b8e0ed 349.5px,#93c6df 400.5px)"></i><i style="left:369px;background:linear-gradient(#313695 0.5px,#323997 96.5px,#3c58a6 102.5px,#4a7bb7 111.5px,#679ec9 119.5px,#88bdda 124.5px,#95c7df 127.5px,#acd9e9 136.5px,#dff3f8 160.5px,#fffebd 180.5px,#fed98a 195.5px,#fdbd6f 209.5px,#fee191 223.5px,#ffffbf 250.5px,#f4fbd3 298.5px,#dff3f8 316.5px,#bae0ed 346.5px,#8ec2dd 400.5px)"></i><i style="left:372px;background:linear-gradient(#313695 0.5px,#323996 96.5px,#3d5ca8 103.5px,#4879b6 111.5px,#669cc8 119.5px,#87bcd9 124.5px,#94c7df 127.5px,#addae9 136.5px,#e0f3f7 159.5px,#f3fad6 168.5px,#ffffbe 177.5px,#fed687 194.5px,#fdba6c 208.5px,#fee191 223.5px,#ffffbf 250.5px,#f4fbd3 297.5px,#dff3f8 315.5px,#b9e0ed 345.5px,#91c4de 395.5px,#84b9d8 400.5px)"></i><i style="left:375px;background:linear-gradient(#313695 0.5px,#323996 96.5px,#3d5ca8 103.5px,#4879b6 111.5px,#689fca 120.5px,#90c3dd 126.5px,#abd9e9 135.5px,#dff3f8 157.5px,#fffebe 174.5px,#fed788 191.5px,#fdb669 207.5px,#fee090 222.5px,#fffebe 249.5px,#f4fbd3 296.5px,#dff3f8 314.5px,#b9e0ed 344.5px,#91c4de 393.5px,#75aed2 400.5px)"></i><i style="left:378px;background:linear-gradient(#313695 0.5px,#323996 96.5px,#3d5ca8 103.5px,#4879b6 111.5px,#689fca 120.5px,#93c6df 127.5px,#addae9 135.5px,#def2f7 155.5px,#fffebe 171.5px,#fed889 188.5px,#fdb467 206.5px,#fee090 222.5px,#fffebe 248.5px,#f4fbd3 295.5px,#e0f3f7 312.5px,#b9e0ed 342.5px,#91c4de 391.5px,#6ea6cd 400.5px)"></i><i style="left:381px;background:linear-gradient(#313695 0.5px,#323a97 96.5px,#3c59a6 102.5px,#497ab6 111.5px,#6aa1cb 120.5px,#91c4de 126.5px,#acd9e9 134.5px,#def2f7 153.5px,#fffebe 168.5px,#fed686 186.5px,#fdb265 205.5px,#fee191 222.5px,#ffffbe 247.5px,#f4fbd3 294.5px,#e0f3f8 311.5px,#b8dfed 341.5px,#91c4de 389.5px,#689ec9 400.5px)"></i><i style="left:384px;background:linear-gradient(#313695 0.5px,#313695 92.5px,#333c98 96.5px,#3c57a5 101.5px,#4b7cb7 111.5px,#679ec9 119.5px,#92c5de 126.5px,#abd9e9 133.5px,#dff2f8 151.5px,#ffffbf 164.5px,#fed484 184.5px,#fdaf62 203.5px,#fee091 221.5px,#ffffbe 246.5px,#f4fbd3 292.5px,#dff3f8 310.5px,#b7dfec 340.5px,#8fc3dd 388.5px,#6ca4cc 396.5px,#6398c6 400.5px)"></i><i style="left:387px;background:linear-gradient(#313695 0.5px,#333b97 95.5px,#3b56a5 100.5px,#497ab6 110.5px,#689fca 119.5px,#94c6df 126.5px,#abd9e9 132.5px,#dcf1f7 148.5px,#ffffbe 161.5px,#fed283 182.5px,#fdad61 201.5px,#fee090 220.5px,#fffebe 244.5px,#f4fbd3 291.5px,#e0f3f8 308.5px,#b7dfec 338.5px,#90c3dd 385.5px,#5f93c4 400.5px)"></i><i style="left:390px;background:linear-gradient(#313695 0.5px,#323a97 94.5px,#3c59a6 100.5px,#4b7cb8 110.5px,#679dc9 118.5px,#96c8e0 126.5px,#abd9e9 131.5px,#def2f7 146.5px,#fffebd 158.5px,#fed283 179.5px,#fcaa5f 200.5px,#fee090 219.5px,#fffebe 243.5px,#f4fbd3 289.5px,#e0f3f8 306.5px,#b7dfec 336.5px,#8fc3dd 383.5px,#5b8fc1 400.5px)"></i><i style="left:393px;background:linear-gradient(#313695 0.5px,#313695 90.5px,#333d99 94.5px,#3c58a6 99.5px,#4574b3 107.5px,#6196c5 116.5px,#89beda 123.5px,#abd9e9 130.5px,#e0f3f8 144.5px,#f8fccd 151.5px,#fffdbc 155.5px,#fed586 175.5px,#fca85e 197.5px,#fdaf62 201.5px,#fee090 218.5px,#fffebe 241.5px,#f4fbd3 287.5px,#e0f3f8 304.5px,#b6deec 334.5px,#8fc3dd 380.5px,#578abf 400.5px)"></i><i style="left:396px;background:linear-gradient(#313695 0.5px,#313695 90.5px,#333c98 93.5px,#3b57a5 98.5px,#4473b3 106.5px,#679ec9 117.5px,#87bcd9 122.5px,#a7d6e7 128.5px,#dcf1f7 141.5px,#ffffbf 151.5px,#fed182 174.5px,#fca65d 195.5px,#fdaf62 199.5px,#fee191 217.5px,#fffebd 239.5px,#f4fbd3 285.5px,#dff3f8 302.5px,#b6deec 332.5px,#8fc3dd 377.5px,#76aed2 387.5px,#5386bd 400.5px)"></i><i style="left:399px;background:linear-gradient(#313695 0.5px,#313695 89.5px,#333c98 92.5px,#4473b3 105.5px,#669dc9 116.5px,#a8d7e8 127.5px,#dff3f8 139.5px,#ffffbf 148.5px,#fdc677 176.5px,#fca45c 193.5px,#fee090 215.5px,#fffebd 237.5px,#f4fbd4 283.5px,#e0f3f8 299.5px,#b5deec 330.5px,#8fc3dd 374.5px,#73acd0 386.5px,#5083bb 400.5px)"></i><i style="left:402px;background:linear-gradient(#313695 0.5px,#313695 88.5px,#4473b3 104.5px,#6ba2cb 116.5px,#aad8e9 126.5px,#dcf1f7 136.5px,#ffffbf 145.5px,#fed888 165.5px,#fdb063 183.5px,#fba15b 190.5px,#fdae61 195.5px,#fee090 213.5px,#fffebe 235.5px,#f4fbd4 280.5px,#e0f3f8 296.5px,#b4ddeb 328.5px,#90c3dd 371.5px,#6da5cd 387.5px,#4e80ba 400.5px)"></i><i style="left:405px;background:linear-gradient(#313695 0.5px,#313695 87.5px,#4574b3 103.5px,#6ca3cc 115.5px,#addaea 125.5px,#def2f8 134.5px,#ffffbf 142.5px,#fed787 162.5px,#fdae61 180.5px,#fba05b 187.5px,#fdae61 193.5px,#fedf8f 211.5px,#fffebe 233.5px,#f3fbd4 277.5px,#e0f3f8 293.5px,#b3ddeb 325.5px,#90c4dd 367.5px,#72aacf 380.5px,#689fca 388.5px,#4c7eb8 400.5px)"></i><i style="left:408px;background:linear-gradient(#313695 0.5px,#313695 85.5px,#333c98 88.5px,#3b56a5 93.5px,#4575b4 102.5px,#6ea5cd 114.5px,#abd9e9 123.5px,#ddf1f7 131.5px,#ffffbf 139.5px,#fed585 159.5px,#fdaf62 176.5px,#fb9e5a 184.5px,#fdaf62 191.5px,#fedf8f 209.5px,#ffffbf 231.5px,#f4fbd3 273.5px,#e0f3f8 290.5px,#b4ddeb 321.5px,#8fc3dd 364.5px,#78b0d3 372.5px,#659cc8 388.5px,#4b7cb8 400.5px)"></i><i style="left:411px;background:linear-gradient(#313695 0.5px,#313695 83.5px,#333c98 86.5px,#3b55a4 91.5px,#4574b4 100.5px,#6ba3cc 112.5px,#aad8e8 121.5px,#e1f3f7 129.5px,#f4fbd3 133.5px,#fffdbc 137.5px,#fecc7d 159.5px,#fdaf62 172.5px,#fa9c58 181.5px,#fdad61 188.5px,#fedf8f 207.5px,#fffebe 228.5px,#f4fbd4 271.5px,#e0f3f7 287.5px,#b3ddeb 318.5px,#90c3dd 360.5px,#73acd1 369.5px,#6399c7 388.5px,#4a7bb7 400.5px)"></i><i style="left:414px;background:linear-gradient(#313695 0.5px,#313695 81.5px,#333c98 84.5px,#3b55a4 89.5px,#4574b3 98.5px,#6fa7ce 111.5px,#a9d7e8 119.5px,#def2f7 126.5px,#f8fccc 131.5px,#fffdbc 134.5px,#fdc577 158.5px,#fa9a58 177.5px,#fdaf62 186.5px,#fee090 205.5px,#fffebe 225.5px,#f4fbd4 268.5px,#e0f3f8 284.5px,#b2dceb 315.5px,#91c4dd 355.5px,#6da5cd 368.5px,#6196c5 388.5px,#497ab7 400.5px)"></i><i style="left:417px;background:linear-gradient(#313695 0.5px,#313695 79.5px,#333c98 82.5px,#3b55a4 87.5px,#4574b3 96.5px,#6297c6 106.5px,#74add1 110.5px,#a9d7e8 117.5px,#daf0f6 123.5px,#e2f4f5 124.5px,#fffdbc 131.5px,#fdc374 155.5px,#fdae61 164.5px,#fa9857 174.5px,#fdae61 183.5px,#fee191 203.5px,#fffebe 222.5px,#f9fdcb 237.5px,#f4fbd4 265.5px,#dff2f8 281.5px,#b0dcea 312.5px,#90c3dd 352.5px,#70a8cf 362.5px,#669cc8 370.5px,#5f94c4 388.5px,#497ab6 400.5px)"></i><i style="left:420px;background:linear-gradient(#313695 0.5px,#313795 77.5px,#4574b4 94.5px,#6298c6 104.5px,#74add1 108.5px,#aad8e9 115.5px,#dff2f8 121.5px,#fffebd 128.5px,#fee191 141.5px,#fdbf71 152.5px,#fa9656 170.5px,#fdae61 180.5px,#fedf8f 200.5px,#ffffbf 220.5px,#f7fccd 235.5px,#f4fbd4 261.5px,#dff2f8 277.5px,#addaea 310.5px,#8fc3dd 348.5px,#6ba2cb 361.5px,#5d92c3 388.5px,#4979b6 400.5px)"></i><i style="left:423px;background:linear-gradient(#313695 0.5px,#313795 75.5px,#4575b4 92.5px,#6fa7ce 105.5px,#92c5de 110.5px,#dcf1f7 118.5px,#fffebe 125.5px,#fee191 138.5px,#fdb467 151.5px,#f99455 166.5px,#fdad61 177.5px,#fee091 198.5px,#ffffbf 217.5px,#f6fbd0 234.5px,#f4fbd4 257.5px,#e0f3f7 272.5px,#addae9 306.5px,#8dc1dc 344.5px,#649ac7 362.5px,#5c90c2 388.5px,#497ab6 400.5px)"></i><i style="left:426px;background:linear-gradient(#313695 0.5px,#313795 72.5px,#4574b3 89.5px,#71aacf 103.5px,#9dcee3 109.5px,#e1f3f6 116.5px,#fffebe 122.5px,#fede8e 136.5px,#fdad60 148.5px,#fb9f5a 152.5px,#f99254 162.5px,#fdaf62 175.5px,#fedf8f 195.5px,#fffebe 214.5px,#f3fbd4 233.5px,#f3fad5 253.5px,#dff2f8 268.5px,#addaea 301.5px,#88bdda 337.5px,#75add1 352.5px,#6095c5 362.5px,#5a8ec1 388.5px,#4a7bb7 400.5px)"></i><i style="left:429px;background:linear-gradient(#313695 0.5px,#313795 69.5px,#4575b4 87.5px,#74acd1 101.5px,#99cae1 106.5px,#def2f7 113.5px,#fffebe 119.5px,#fede8e 133.5px,#fdab60 144.5px,#f99455 149.5px,#f98f53 154.5px,#f99355 162.5px,#fdaf62 172.5px,#fee191 193.5px,#fffebe 211.5px,#f1f9d9 233.5px,#f3fad6 249.5px,#e0f3f7 262.5px,#addaea 296.5px,#92c5de 321.5px,#72abd0 341.5px,#70a8ce 352.5px,#5c91c2 362.5px,#5e93c3 378.5px,#4b7cb8 400.5px)"></i><i style="left:432px;background:linear-gradient(#313695 0.5px,#313795 67.5px,#4574b4 84.5px,#6196c5 94.5px,#77afd2 99.5px,#9dcee3 104.5px,#daf0f6 110.5px,#e3f4f3 111.5px,#ffffbe 116.5px,#fedd8d 130.5px,#fdac60 140.5px,#f99254 145.5px,#f88b51 151.5px,#f99053 160.5px,#fdad60 169.5px,#fee091 190.5px,#ffffbf 209.5px,#eef9de 231.5px,#eef8de 247.5px,#e0f3f7 257.5px,#92c5de 314.5px,#78b0d3 328.5px,#6aa1cb 342.5px,#6ca3cc 352.5px,#598dc0 362.5px,#5d91c3 378.5px,#4c7db8 400.5px)"></i><i style="left:435px;background:linear-gradient(#313695 0.5px,#313795 64.5px,#4575b4 82.5px,#74add1 96.5px,#97c9e0 101.5px,#d7eef5 107.5px,#e1f4f6 108.5px,#fffebe 113.5px,#fed485 129.5px,#fba05b 138.5px,#f88d52 142.5px,#f8864f 148.5px,#f98e52 159.5px,#fdac60 167.5px,#fee091 187.5px,#fffebe 206.5px,#eff9dc 224.5px,#e6f5ed 246.5px,#dff3f8 252.5px,#91c4dd 309.5px,#72aad0 323.5px,#649ac7 342.5px,#689fca 352.5px,#5689bf 363.5px,#5c90c2 377.5px,#4e7fb9 400.5px)"></i><i style="left:438px;background:linear-gradient(#313695 0.5px,#313795 61.5px,#4574b4 79.5px,#6196c5 89.5px,#77afd2 94.5px,#9dcee3 99.5px,#e0f3f8 105.5px,#ffffbe 110.5px,#fed283 126.5px,#fba25c 134.5px,#f88950 139.5px,#f67d4b 146.5px,#fa9555 161.5px,#fdb264 167.5px,#fede8e 183.5px,#fffebe 203.5px,#edf8e0 222.5px,#dff3f8 245.5px,#acd9e9 282.5px,#8dc1dc 305.5px,#6da4cd 318.5px,#6095c5 342.5px,#659bc7 352.5px,#5487bd 363.5px,#5b8fc1 377.5px,#4f81ba 400.5px)"></i><i style="left:441px;background:linear-gradient(#313695 0.5px,#313695 58.5px,#4676b5 77.5px,#74add1 91.5px,#99cbe1 96.5px,#e1f3f7 102.5px,#fffebe 107.5px,#fed384 122.5px,#fb9d59 131.5px,#f7824d 137.5px,#f47044 145.5px,#fa9556 160.5px,#fdb86a 167.5px,#fede8e 180.5px,#ffffc0 201.5px,#edf8e0 218.5px,#dff3f8 237.5px,#aad8e9 278.5px,#81b8d7 306.5px,#669cc8 317.5px,#649ac7 334.5px,#5d92c3 342.5px,#6197c5 352.5px,#5285bc 363.5px,#598dc0 376.5px,#5183bb 385.5px,#5083bb 400.5px)"></i><i style="left:444px;background:linear-gradient(#313695 0.5px,#313795 56.5px,#4575b4 74.5px,#77afd2 89.5px,#96c8e0 93.5px,#d6eef5 98.5px,#e2f4f4 99.5px,#f2fad8 101.5px,#fffdbd 104.5px,#fed485 118.5px,#fb9d59 127.5px,#f7814c 133.5px,#f06640 143.5px,#f26941 146.5px,#f99355 158.5px,#fdb467 164.5px,#fed687 174.5px,#ffffc0 198.5px,#e0f3f8 230.5px,#aad8e8 273.5px,#91c4de 290.5px,#7ab1d3 299.5px,#75aed2 307.5px,#5f94c4 317.5px,#5e93c4 351.5px,#5183bb 362.5px,#578bbf 376.5px,#4e80ba 385.5px,#5284bc 400.5px)"></i><i style="left:447px;background:linear-gradient(#313695 0.5px,#313795 53.5px,#4777b5 72.5px,#6399c7 82.5px,#75aed1 86.5px,#94c6df 90.5px,#d5eef5 95.5px,#e2f4f4 96.5px,#f9fdca 99.5px,#fffcba 101.5px,#fed586 114.5px,#fb9d59 123.5px,#f67b4a 130.5px,#ee603d 140.5px,#f16640 144.5px,#f99455 156.5px,#fdb063 161.5px,#fed081 169.5px,#fee091 175.5px,#ffffbe 194.5px,#e0f3f8 225.5px,#acd9e9 266.5px,#92c5de 285.5px,#72abd0 296.5px,#6ca4cc 308.5px,#5a8ec1 317.5px,#5f94c4 334.5px,#5b8fc1 352.5px,#4f81ba 361.5px,#5588be 377.5px,#4c7eb8 385.5px,#5385bc 400.5px)"></i><i style="left:450px;background:linear-gradient(#313695 0.5px,#313795 50.5px,#4676b5 69.5px,#78b0d3 84.5px,#9acbe2 88.5px,#d7eff6 92.5px,#e4f5f1 93.5px,#ffffbe 97.5px,#fed585 110.5px,#fa9b58 119.5px,#f57547 127.5px,#eb593a 137.5px,#ef623e 141.5px,#fa9555 154.5px,#fdb265 159.5px,#fed283 167.5px,#ffffbf 191.5px,#dff3f8 220.5px,#abd9e9 261.5px,#8cc0db 285.5px,#6ba2cb 296.5px,#679dc9 308.5px,#5689be 317.5px,#5d92c3 334.5px,#588cc0 351.5px,#4e7fb9 361.5px,#5386bd 376.5px,#4a7bb7 384.5px,#5386bd 400.5px)"></i><i style="left:453px;background:linear-gradient(#313695 0.5px,#313795 47.5px,#4576b4 66.5px,#6196c5 76.5px,#76afd2 81.5px,#97c9e0 85.5px,#d6eef5 89.5px,#e5f5f0 90.5px,#eef8de 91.5px,#fffdbc 94.5px,#fecf80 107.5px,#f99053 116.5px,#f57245 122.5px,#e85438 133.5px,#ec5b3b 137.5px,#fa9756 152.5px,#fdaf62 156.5px,#fed282 164.5px,#fee090 169.5px,#feffc0 188.5px,#dff3f8 215.5px,#abd9e9 256.5px,#84bad8 285.5px,#6196c5 299.5px,#6297c6 309.5px,#5184bc 319.5px,#5c91c2 334.5px,#4c7db8 360.5px,#5184bc 376.5px,#4879b6 384.5px,#5487bd 400.5px)"></i><i style="left:456px;background:linear-gradient(#313695 0.5px,#313795 44.5px,#4778b5 64.5px,#669dc9 75.5px,#7ab2d4 79.5px,#9ecfe4 83.5px,#e2f4f5 87.5px,#f6fbd0 89.5px,#fffcba 91.5px,#fec97a 104.5px,#fdae61 108.5px,#f57547 114.5px,#ef633e 117.5px,#e64f35 130.5px,#e85538 133.5px,#fa9556 149.5px,#fed182 161.5px,#fee090 166.5px,#ffffbf 184.5px,#dff2f8 210.5px,#abd9e9 251.5px,#91c4de 269.5px,#7db4d5 277.5px,#79b1d3 286.5px,#6399c6 294.5px,#5b8fc2 300.5px,#5e93c3 310.5px,#4f81ba 320.5px,#5b8fc2 335.5px,#4b7cb8 358.5px,#5082bb 375.5px,#4677b5 384.5px,#5487bd 400.5px)"></i><i style="left:459px;background:linear-gradient(#313695 0.5px,#323896 42.5px,#4b7cb8 63.5px,#69a0ca 73.5px,#7eb5d5 77.5px,#9ccde2 80.5px,#e0f3f8 84.5px,#f4fbd4 86.5px,#fffcbb 88.5px,#fede8e 96.5px,#fdc173 101.5px,#fdac60 104.5px,#e85438 112.5px,#e04430 117.5px,#e64f35 129.5px,#f36b42 136.5px,#f99053 145.5px,#fed485 159.5px,#ffffbe 180.5px,#dff2f8 205.5px,#abd9e9 246.5px,#92c5de 263.5px,#72abd0 275.5px,#72abd0 286.5px,#5e93c4 294.5px,#578abf 300.5px,#5c90c2 310.5px,#4d7fb9 321.5px,#5a8ec1 335.5px,#578abf 346.5px,#4a7bb7 357.5px,#4f81ba 374.5px,#4575b4 383.5px,#5487bd 400.5px)"></i><i style="left:462px;background:linear-gradient(#313695 0.5px,#313896 39.5px,#4d7eb9 61.5px,#689fca 70.5px,#82b8d7 75.5px,#a3d3e6 78.5px,#dcf1f7 81.5px,#f3fbd4 83.5px,#fffcba 85.5px,#fec879 96.5px,#fca85e 100.5px,#f57647 104.5px,#e75136 107.5px,#df422f 110.5px,#de3e2d 113.5px,#e04430 124.5px,#f46e44 134.5px,#f99555 143.5px,#fec87a 153.5px,#fede8e 159.5px,#ffffc0 177.5px,#dff2f8 200.5px,#abd9e9 241.5px,#90c3dd 259.5px,#70a9cf 271.5px,#6ba2cb 277.5px,#6ea6ce 285.5px,#5386bd 300.5px,#5a8ec1 311.5px,#4c7db8 322.5px,#598cc0 333.5px,#588cc0 343.5px,#4a7ab7 356.5px,#4f81ba 372.5px,#4574b3 383.5px,#5386bd 400.5px)"></i><i style="left:465px;background:linear-gradient(#313695 0.5px,#313795 36.5px,#4c7db8 58.5px,#669cc8 67.5px,#7fb6d6 72.5px,#9ccde2 75.5px,#d1ebf4 78.5px,#e3f4f3 79.5px,#fffebd 82.5px,#fedc8c 89.5px,#fdb163 95.5px,#fa9c59 97.5px,#ee613e 101.5px,#e14430 104.5px,#dc3b2c 108.5px,#e0422f 123.5px,#f57145 132.5px,#fdab60 144.5px,#fed788 154.5px,#ffffbf 173.5px,#dff3f8 195.5px,#aad8e9 237.5px,#90c3dd 254.5px,#6ba3cc 269.5px,#669cc8 276.5px,#6aa1cb 285.5px,#5183bb 300.5px,#598dc0 311.5px,#4b7cb8 323.5px,#588cc0 334.5px,#588cc0 343.5px,#497ab6 356.5px,#5082bb 369.5px,#4473b3 383.5px,#5285bc 400.5px)"></i><i style="left:468px;background:linear-gradient(#313695 0.5px,#323896 35.5px,#3d5ba7 44.5px,#4c7eb8 56.5px,#679dc9 65.5px,#81b8d7 70.5px,#a3d2e5 73.5px,#dff2f8 76.5px,#fefec2 79.5px,#fff9b6 80.5px,#fedf8f 85.5px,#fdb265 91.5px,#f46f44 96.5px,#de3e2d 100.5px,#d93429 104.5px,#df402e 122.5px,#f46d43 129.5px,#fdab60 141.5px,#fed384 150.5px,#fee192 154.5px,#fffebe 169.5px,#dff3f8 190.5px,#abd9e9 232.5px,#90c4dd 249.5px,#74add1 259.5px,#649ac7 270.5px,#669dc9 285.5px,#4f81ba 300.5px,#588cc0 312.5px,#4a7bb7 323.5px,#588cc0 336.5px,#578bbf 345.5px,#497ab7 355.5px,#5082bb 369.5px,#4574b3 383.5px,#5184bc 400.5px)"></i><i style="left:471px;background:linear-gradient(#313695 0.5px,#313795 33.5px,#4c7db8 54.5px,#679ec9 63.5px,#84bad8 68.5px,#a8d7e8 71.5px,#d6eef5 73.5px,#f4fbd3 75.5px,#fff9b6 77.5px,#fee192 81.5px,#fca75e 88.5px,#f46f44 92.5px,#da362a 96.5px,#ce2b27 100.5px,#df412f 122.5px,#f67e4b 129.5px,#fdb164 139.5px,#fedf8f 150.5px,#feffc0 166.5px,#def2f7 186.5px,#abd9e9 228.5px,#92c5de 244.5px,#6ca3cc 259.5px,#6096c5 269.5px,#6399c7 285.5px,#4d7fb9 301.5px,#578bbf 312.5px,#497ab6 323.5px,#578abf 334.5px,#588cc0 341.5px,#4a7bb7 355.5px,#5083bb 368.5px,#4574b4 383.5px,#5082bb 400.5px)"></i><i style="left:474px;background:linear-gradient(#313695 0.5px,#313795 32.5px,#3c58a6 40.5px,#4c7eb8 52.5px,#69a0ca 61.5px,#80b7d6 65.5px,#a4d3e6 68.5px,#e0f3f8 71.5px,#fbfdc7 73.5px,#fff9b6 74.5px,#fedf8f 78.5px,#fca95f 84.5px,#f57245 88.5px,#da362a 92.5px,#bc2028 96.5px,#b71c28 98.5px,#d52f27 110.5px,#e04330 121.5px,#f7814c 127.5px,#fdae61 135.5px,#fedf8f 147.5px,#ffffc0 162.5px,#dff3f8 181.5px,#a6d5e7 227.5px,#92c5de 240.5px,#74add1 249.5px,#5e93c4 264.5px,#6095c5 285.5px,#4c7db8 303.5px,#5689bf 313.5px,#4878b6 324.5px,#5689bf 334.5px,#588cc0 341.5px,#4b7cb8 354.5px,#5082bb 373.5px,#4676b4 383.5px,#4e80ba 400.5px)"></i><i style="left:477px;background:linear-gradient(#313695 0.5px,#313896 31.5px,#3d5ba7 39.5px,#4d7eb9 50.5px,#679dc9 58.5px,#85bad8 63.5px,#9ecee3 65.5px,#def2f7 68.5px,#fffbb9 71.5px,#fee293 74.5px,#fdad61 80.5px,#f26a42 85.5px,#d73027 89.5px,#b71d28 93.5px,#ad1628 97.5px,#af1828 100.5px,#d32d27 110.5px,#df422f 119.5px,#e85337 121.5px,#f7854e 125.5px,#fdae61 132.5px,#fedf90 144.5px,#fffebe 158.5px,#def2f8 177.5px,#a2d2e5 226.5px,#8ec2dc 238.5px,#71a9cf 245.5px,#6aa1cb 254.5px,#5a8ec1 263.5px,#5d91c3 285.5px,#4b7cb8 303.5px,#5588be 313.5px,#4778b5 324.5px,#588bc0 341.5px,#4c7db8 355.5px,#5284bc 366.5px,#5083bb 375.5px,#4677b5 384.5px,#4c7eb8 400.5px)"></i><i style="left:480px;background:linear-gradient(#313695 0.5px,#313795 29.5px,#4d7fb9 48.5px,#69a0ca 56.5px,#82b9d7 60.5px,#a9d7e8 63.5px,#d6eef5 65.5px,#e9f7e7 66.5px,#fffbb9 68.5px,#fee192 71.5px,#fca75e 77.5px,#f46f44 81.5px,#da372a 85.5px,#b71d28 90.5px,#ac1628 94.5px,#af1828 101.5px,#d02c27 109.5px,#df412f 117.5px,#f57446 121.5px,#f88b51 123.5px,#fdae61 129.5px,#fee090 141.5px,#feffc0 155.5px,#e0f3f8 172.5px,#d3edf4 178.5px,#a1d1e4 223.5px,#8cc0dc 235.5px,#6aa1cb 245.5px,#679ec9 253.5px,#5588be 263.5px,#5a8ec1 284.5px,#4a7bb7 303.5px,#5487bd 314.5px,#4777b5 325.5px,#578abf 341.5px,#4c7eb9 355.5px,#5285bc 373.5px,#4778b5 384.5px,#4a7bb7 400.5px)"></i><i style="left:483px;background:linear-gradient(#313695 0.5px,#313796 28.5px,#4d7fb9 46.5px,#78b0d3 56.5px,#95c8df 59.5px,#ceeaf3 62.5px,#e4f5f0 63.5px,#fffebd 65.5px,#fee99d 67.5px,#fdbf71 71.5px,#fb9f5a 74.5px,#f57446 77.5px,#e34932 80.5px,#cf2b27 83.5px,#b31b28 87.5px,#ac1628 90.5px,#ad1628 100.5px,#d22d27 109.5px,#df412f 115.5px,#ea5839 117.5px,#f8874f 120.5px,#fdad61 126.5px,#fedf8f 138.5px,#ffffbf 151.5px,#dff3f8 168.5px,#a1d1e5 219.5px,#8fc2dd 230.5px,#679ec9 244.5px,#6399c7 254.5px,#5285bc 263.5px,#588cc0 275.5px,#4a7bb7 304.5px,#5386bd 314.5px,#4676b5 325.5px,#5689be 341.5px,#4d7fb9 354.5px,#5386bd 374.5px,#4879b6 384.5px,#4879b6 400.5px)"></i><i style="left:486px;background:linear-gradient(#313695 0.5px,#323896 27.5px,#3d5aa7 34.5px,#4e7fb9 44.5px,#689ec9 51.5px,#7ab2d4 54.5px,#9ecee3 57.5px,#dff3f8 60.5px,#fcfec4 62.5px,#fff6b1 63.5px,#fdb063 69.5px,#f36b42 74.5px,#d93529 78.5px,#b71d28 83.5px,#ac1628 86.5px,#ad1628 100.5px,#d73027 109.5px,#e14631 113.5px,#f88b51 118.5px,#fdac60 123.5px,#fee293 136.5px,#feffc1 148.5px,#e0f3f8 163.5px,#d4edf4 169.5px,#a2d2e5 215.5px,#90c4dd 226.5px,#76aed2 233.5px,#649ac7 243.5px,#6197c5 254.5px,#5183bb 263.5px,#578abf 275.5px,#5285bc 295.5px,#4a7bb7 304.5px,#5285bc 314.5px,#4676b5 325.5px,#5487bd 338.5px,#4d7fb9 355.5px,#5487bd 374.5px,#4879b6 385.5px,#4777b5 400.5px)"></i><i style="left:489px;background:linear-gradient(#313695 0.5px,#323896 26.5px,#4d7fb9 42.5px,#75aed1 51.5px,#94c7df 54.5px,#ceeaf3 57.5px,#e4f4f1 58.5px,#fffdbc 60.5px,#fdb366 66.5px,#ef633e 71.5px,#d73027 75.5px,#ac1628 82.5px,#ac1628 99.5px,#b31a28 101.5px,#d42e27 106.5px,#e24732 110.5px,#f7834d 115.5px,#fb9e5a 118.5px,#fdbd6f 124.5px,#fee293 133.5px,#ffffbf 144.5px,#e0f3f8 159.5px,#d3edf4 165.5px,#a7d6e7 208.5px,#92c5de 222.5px,#6ea6cd 231.5px,#5f94c4 244.5px,#6095c5 254.5px,#5082bb 263.5px,#5589be 274.5px,#4e7fb9 286.5px,#5284bc 296.5px,#4a7bb7 304.5px,#5284bc 314.5px,#4676b5 326.5px,#5386bd 338.5px,#4d7fb9 355.5px,#5588be 375.5px,#4879b6 385.5px,#4576b4 400.5px)"></i><i style="left:492px;background:linear-gradient(#313695 0.5px,#323896 25.5px,#497ab6 39.5px,#77afd2 49.5px,#9acbe1 52.5px,#d6eef5 55.5px,#e8f6e9 56.5px,#fffcba 58.5px,#fdae61 64.5px,#f57245 67.5px,#e54e35 69.5px,#d22d27 72.5px,#ac1628 78.5px,#ac1628 97.5px,#b61c28 100.5px,#d63027 104.5px,#f57145 111.5px,#f99153 114.5px,#fdad61 118.5px,#fedf8f 129.5px,#fffebe 140.5px,#dff3f8 155.5px,#d2ecf4 161.5px,#a1d1e5 209.5px,#8fc3dd 220.5px,#6aa1cb 229.5px,#5d91c3 242.5px,#6095c5 253.5px,#4f81ba 264.5px,#5487bd 274.5px,#4a7bb7 285.5px,#5184bc 296.5px,#4a7bb7 305.5px,#5183bb 314.5px,#4677b5 326.5px,#5284bc 338.5px,#4c7eb9 354.5px,#5689be 375.5px,#4879b6 385.5px,#4575b4 400.5px)"></i><i style="left:495px;background:linear-gradient(#313695 0.5px,#313796 24.5px,#4b7cb7 38.5px,#78b0d3 47.5px,#9bcce2 50.5px,#daf0f6 53.5px,#f8fccc 55.5px,#fffab7 56.5px,#fca95f 62.5px,#f26a41 65.5px,#e04430 67.5px,#d02c27 69.5px,#ac1628 74.5px,#ac1628 95.5px,#b81d28 98.5px,#d93328 102.5px,#f46f44 108.5px,#f88d52 111.5px,#fdb063 116.5px,#fedf8f 126.5px,#feffc0 137.5px,#dff2f8 151.5px,#d3edf4 156.5px,#acd9e9 198.5px,#9acbe1 211.5px,#8fc3dd 217.5px,#6ba2cb 225.5px,#5e93c4 232.5px,#588cc0 243.5px,#6095c4 254.5px,#4f81ba 264.5px,#5386bd 274.5px,#4677b5 286.5px,#5183bb 296.5px,#4a7bb7 305.5px,#5183bb 315.5px,#4777b5 326.5px,#5083bb 338.5px,#4c7db8 354.5px,#5689bf 375.5px,#4879b6 385.5px,#4575b4 400.5px)"></i><i style="left:498px;background:linear-gradient(#313695 0.5px,#313795 23.5px,#4879b6 36.5px,#77afd2 45.5px,#9dcee3 48.5px,#d7eff5 51.5px,#e8f6e9 52.5px,#fffbb9 54.5px,#fdb86b 59.5px,#f67848 62.5px,#dc3a2b 65.5px,#c82727 67.5px,#ac1628 71.5px,#ad1628 94.5px,#d62f27 99.5px,#f46e43 105.5px,#fa9a58 110.5px,#fdbf71 116.5px,#fee090 123.5px,#ffffbf 133.5px,#dff2f8 147.5px,#d3edf4 152.5px,#acd9e9 195.5px,#94c6df 212.5px,#6ba2cb 223.5px,#598dc0 231.5px,#5487bd 243.5px,#6095c5 254.5px,#5082bb 264.5px,#5184bc 275.5px,#4473b3 286.5px,#5082bb 296.5px,#4a7bb7 305.5px,#5183bb 315.5px,#4778b5 326.5px,#5082bb 339.5px,#4b7cb7 355.5px,#5689bf 375.5px,#4879b6 385.5px,#4676b5 400.5px)"></i><i style="left:501px;background:linear-gradient(#313695 0.5px,#313796 23.5px,#4879b6 35.5px,#73acd0 43.5px,#99cbe1 46.5px,#d3ecf4 49.5px,#e5f5ef 50.5px,#ffffc0 52.5px,#feda8a 55.5px,#fca75e 58.5px,#f57446 60.5px,#e04330 62.5px,#d73027 63.5px,#ac1628 68.5px,#af1828 93.5px,#d73027 97.5px,#f57547 103.5px,#fdae61 110.5px,#fec97a 115.5px,#fee091 120.5px,#feffc0 130.5px,#e0f3f8 143.5px,#d3edf4 148.5px,#bee2ee 177.5px,#96c8e0 208.5px,#8cc0dc 213.5px,#6ea6cd 220.5px,#5487bd 231.5px,#5183bb 243.5px,#5f94c4 255.5px,#5082bb 264.5px,#5082bb 275.5px,#436fb1 287.5px,#4f81ba 297.5px,#4b7cb8 305.5px,#5183bb 315.5px,#4778b6 327.5px,#4f81ba 340.5px,#497ab6 354.5px,#5689be 375.5px,#4878b6 385.5px,#4778b5 400.5px)"></i><i style="left:504px;background:linear-gradient(#313695 0.5px,#313796 23.5px,#4878b6 34.5px,#79b1d3 42.5px,#a4d3e6 45.5px,#dff2f8 48.5px,#f9fdcb 50.5px,#fff9b5 51.5px,#fee090 53.5px,#fdab60 56.5px,#f57346 58.5px,#dd3d2d 60.5px,#d12d27 61.5px,#b01928 64.5px,#ac1628 65.5px,#b11928 92.5px,#db382b 96.5px,#f57547 101.5px,#fdab60 107.5px,#fdc375 111.5px,#fee293 117.5px,#ffffbe 126.5px,#def2f7 140.5px,#d3ecf4 145.5px,#c4e5f0 168.5px,#acd9e9 190.5px,#95c7df 206.5px,#8abfdb 211.5px,#5f94c4 224.5px,#4f81ba 232.5px,#4e80b9 243.5px,#5f94c4 255.5px,#5082bb 265.5px,#4f81ba 276.5px,#426cb0 287.5px,#4d7fb9 296.5px,#5183bb 314.5px,#4878b6 326.5px,#4f81ba 340.5px,#4778b6 354.5px,#5689be 375.5px,#4878b6 385.5px,#497ab7 400.5px)"></i><i style="left:507px;background:linear-gradient(#313695 0.5px,#313796 23.5px,#4677b5 33.5px,#72aacf 40.5px,#9acbe2 43.5px,#d4edf5 46.5px,#e5f5ef 47.5px,#ffffbf 49.5px,#fee597 51.5px,#fdac60 54.5px,#f57245 56.5px,#dc3a2c 58.5px,#ce2a27 59.5px,#ac1628 62.5px,#b01828 91.5px,#d42e27 94.5px,#f0643f 98.5px,#f88a50 101.5px,#fdaf62 105.5px,#fedf8f 113.5px,#feffc0 123.5px,#ddf2f7 137.5px,#d3edf4 141.5px,#b3ddeb 182.5px,#9ccde2 199.5px,#8ec2dc 207.5px,#71a9cf 216.5px,#4c7eb9 232.5px,#4b7cb8 243.5px,#5e93c4 255.5px,#4f81ba 266.5px,#4d7fb9 277.5px,#426baf 287.5px,#4d7fb9 297.5px,#5184bc 314.5px,#4878b6 327.5px,#4f81ba 341.5px,#4676b5 354.5px,#5588be 375.5px,#4777b5 385.5px,#4b7cb8 400.5px)"></i><i style="left:510px;background:linear-gradient(#313695 0.5px,#313796 23.5px,#4473b3 32.5px,#73acd0 39.5px,#9dcee3 42.5px,#daf0f6 45.5px,#e9f7e7 46.5px,#fffab7 48.5px,#fede8e 50.5px,#fdb365 52.5px,#f47145 54.5px,#d93429 56.5px,#af1828 59.5px,#ac1628 60.5px,#ac1628 90.5px,#d22d27 93.5px,#f26841 97.5px,#f99254 100.5px,#fdb96c 104.5px,#fee090 110.5px,#ffffbe 119.5px,#def2f7 134.5px,#d3edf4 138.5px,#c2e4f0 166.5px,#a4d4e6 191.5px,#8fc2dd 204.5px,#7ab1d3 210.5px,#4a7bb7 233.5px,#4879b6 243.5px,#5d91c3 256.5px,#4f81ba 266.5px,#4c7db8 278.5px,#416aaf 287.5px,#4c7db8 297.5px,#5284bc 314.5px,#4778b5 329.5px,#4f81ba 342.5px,#4575b4 354.5px,#5587be 375.5px,#4677b5 385.5px,#4d7fb9 400.5px)"></i><i style="left:513px;background:linear-gradient(#313695 0.5px,#313896 23.5px,#4777b5 32.5px,#74add1 38.5px,#a2d2e5 41.5px,#dff3f8 44.5px,#fafdc8 46.5px,#fff6b1 47.5px,#fed686 49.5px,#fca55d 51.5px,#f7824d 52.5px,#dd3d2d 54.5px,#cc2927 55.5px,#ac1628 57.5px,#ac1628 89.5px,#b11928 90.5px,#d83328 93.5px,#f26841 96.5px,#fa9857 99.5px,#fdbb6d 102.5px,#fedf8f 107.5px,#ffffbf 116.5px,#e0f3f7 131.5px,#d3edf4 136.5px,#c3e5f0 163.5px,#a8d6e8 187.5px,#90c4dd 201.5px,#74add1 208.5px,#4979b6 233.5px,#4676b4 243.5px,#5689bf 251.5px,#5b8fc2 257.5px,#4e80ba 267.5px,#4c7db8 278.5px,#416aaf 287.5px,#4b7db8 297.5px,#5284bc 314.5px,#4777b5 330.5px,#5082bb 343.5px,#4574b4 354.5px,#4f81ba 362.5px,#5487bd 374.5px,#4676b5 385.5px,#4f80ba 400.5px)"></i><i style="left:516px;background:linear-gradient(#313695 0.5px,#323896 23.5px,#4574b4 31.5px,#73acd0 37.5px,#a4d3e6 40.5px,#e2f4f4 43.5px,#fdfec2 45.5px,#fff3ad 46.5px,#fee496 47.5px,#fdb467 49.5px,#f46d43 51.5px,#d32e27 53.5px,#ae1728 55.5px,#ac1628 56.5px,#ac1628 89.5px,#d32e27 92.5px,#f16841 95.5px,#fdaf62 99.5px,#fdc677 101.5px,#fee293 105.5px,#ffffbf 113.5px,#e0f3f8 129.5px,#d4edf5 133.5px,#c5e6f0 160.5px,#aad8e9 184.5px,#90c4dd 199.5px,#72aacf 206.5px,#4778b5 234.5px,#4473b3 243.5px,#5386bd 251.5px,#598dc0 258.5px,#4e80ba 267.5px,#4c7db8 278.5px,#426baf 287.5px,#4b7cb7 297.5px,#5184bc 313.5px,#4676b5 330.5px,#5183bb 343.5px,#4473b3 354.5px,#5082bb 363.5px,#5386bd 374.5px,#4575b4 385.5px,#5082bb 400.5px)"></i><i style="left:519px;background:linear-gradient(#313695 0.5px,#323896 23.5px,#4778b5 31.5px,#669cc8 35.5px,#7eb5d5 37.5px,#a1d1e5 39.5px,#e2f4f5 42.5px,#fefec2 44.5px,#fff2ac 45.5px,#fee395 46.5px,#fdae61 48.5px,#ed5d3c 50.5px,#dd3c2d 51.5px,#cb2927 52.5px,#ac1628 54.5px,#ac1628 89.5px,#d73027 92.5px,#f67c4a 95.5px,#fca65e 97.5px,#fdc475 99.5px,#fedf8f 102.5px,#fffebe 110.5px,#def2f7 128.5px,#d3edf4 132.5px,#c5e6f0 159.5px,#aad8e9 183.5px,#91c4de 197.5px,#6da4cd 206.5px,#4575b4 236.5px,#4370b2 243.5px,#568abf 258.5px,#4c7eb8 278.5px,#426cb0 287.5px,#4b7cb8 298.5px,#5184bc 313.5px,#4676b4 331.5px,#5284bc 344.5px,#4473b3 355.5px,#5082bb 363.5px,#5386bd 374.5px,#4574b4 385.5px,#5082bb 400.5px)"></i><i style="left:522px;background:linear-gradient(#313695 0.5px,#313796 23.5px,#35429b 25.5px,#4471b2 30.5px,#6196c5 34.5px,#78b0d3 36.5px,#9ccde2 38.5px,#def2f7 41.5px,#fcfec4 43.5px,#fff3ad 44.5px,#fee496 45.5px,#fdb264 47.5px,#ee603d 49.5px,#dc3c2c 50.5px,#b41b28 52.5px,#ac1628 53.5px,#ac1628 88.5px,#b21a28 89.5px,#db392b 92.5px,#f57346 94.5px,#fca95f 96.5px,#fec97a 98.5px,#fee395 101.5px,#ffffbf 108.5px,#f2fad8 118.5px,#def2f7 127.5px,#d3edf4 131.5px,#c5e6f0 158.5px,#aad8e9 182.5px,#90c4dd 196.5px,#6ba2cb 205.5px,#4575b4 235.5px,#436eb1 243.5px,#5487bd 259.5px,#4d7eb9 278.5px,#436eb0 288.5px,#4b7cb8 298.5px,#5184bc 312.5px,#4575b4 331.5px,#5285bc 344.5px,#4472b2 355.5px,#5082bb 363.5px,#5386bd 374.5px,#4473b3 386.5px,#5082bb 400.5px)"></i><i style="left:525px;background:linear-gradient(#313695 0.5px,#313795 23.5px,#343f99 25.5px,#4471b2 30.5px,#71aacf 35.5px,#94c7df 37.5px,#d7eef5 40.5px,#e9f7e7 41.5px,#f8fccc 42.5px,#fff7b3 43.5px,#fed586 45.5px,#fdbc6f 46.5px,#fb9d59 47.5px,#f57346 48.5px,#e34932 49.5px,#ce2a27 50.5px,#b71d28 51.5px,#ac1628 52.5px,#ad1728 88.5px,#d63027 91.5px,#f36a42 93.5px,#fca75e 95.5px,#feca7b 97.5px,#fedf8f 99.5px,#fff9b6 104.5px,#ffffbf 106.5px,#f1fad8 117.5px,#e0f3f8 126.5px,#d3edf4 130.5px,#c6e6f1 157.5px,#abd9e9 181.5px,#90c3dd 195.5px,#689ec9 205.5px,#4575b4 235.5px,#426cb0 243.5px,#5284bc 260.5px,#4d7eb9 278.5px,#436fb1 287.5px,#5184bc 311.5px,#4576b4 332.5px,#5284bc 344.5px,#4471b2 355.5px,#5082bb 363.5px,#5487bd 374.5px,#4472b2 386.5px,#5082bb 400.5px)"></i><i style="left:528px;background:linear-gradient(#313695 0.5px,#323896 24.5px,#4370b2 30.5px,#69a0ca 34.5px,#8cc0db 36.5px,#ceeaf3 39.5px,#e3f4f2 40.5px,#fffdbc 42.5px,#fedd8d 44.5px,#fdc576 45.5px,#fcaa5f 46.5px,#f7814c 47.5px,#d63027 49.5px,#ac1628 51.5px,#ac1628 87.5px,#cf2b27 90.5px,#dd3d2d 91.5px,#f67e4b 93.5px,#fb9f5a 94.5px,#fdc678 96.5px,#fee496 99.5px,#fffab7 103.5px,#ffffc0 105.5px,#f2fad7 116.5px,#dff3f8 126.5px,#d3edf4 130.5px,#c6e6f1 157.5px,#aad8e9 181.5px,#90c3dd 194.5px,#669cc8 205.5px,#4574b3 235.5px,#426aaf 243.5px,#5082bb 262.5px,#4d7fb9 278.5px,#4471b2 288.5px,#5284bc 311.5px,#4676b4 332.5px,#5184bc 344.5px,#4370b1 355.5px,#5183bb 364.5px,#5487bd 374.5px,#4470b2 387.5px,#4f81ba 400.5px)"></i><i style="left:531px;background:linear-gradient(#313695 0.5px,#313796 24.5px,#34419a 26.5px,#436eb1 30.5px,#6aa1cb 34.5px,#a7d6e7 37.5px,#d7eff5 39.5px,#ebf7e5 40.5px,#fbfdc7 41.5px,#fff4ae 42.5px,#fdb86a 45.5px,#f57245 47.5px,#e24832 48.5px,#cc2927 49.5px,#b31b28 50.5px,#ac1628 51.5px,#ac1628 86.5px,#da372a 90.5px,#f57446 92.5px,#fdaf62 94.5px,#fece7f 96.5px,#feeea6 100.5px,#ffffbf 104.5px,#f2fad7 116.5px,#dff3f8 126.5px,#d3edf4 130.5px,#c7e7f1 156.5px,#abd9e9 180.5px,#91c4de 193.5px,#649ac7 205.5px,#436db0 238.5px,#4169ae 243.5px,#4e80ba 262.5px,#4e80b9 278.5px,#4473b3 287.5px,#5284bc 309.5px,#4676b5 331.5px,#5082bb 345.5px,#436eb1 355.5px,#5083bb 364.5px,#5487bd 373.5px,#5385bc 377.5px,#4370b1 386.5px,#4e80b9 400.5px)"></i><i style="left:534px;background:linear-gradient(#313695 0.5px,#313695 24.5px,#343e99 26.5px,#436eb1 30.5px,#6ba2cb 34.5px,#acdae9 37.5px,#def2f7 39.5px,#fffebe 41.5px,#feda8b 43.5px,#fca95f 45.5px,#f0653f 47.5px,#df402e 48.5px,#c92727 49.5px,#b11928 50.5px,#ac1628 51.5px,#ac1628 85.5px,#d93429 89.5px,#f36b42 91.5px,#fca45c 93.5px,#fdc476 95.5px,#fee496 98.5px,#ffffbe 103.5px,#f2fad7 116.5px,#def2f7 127.5px,#d3edf4 131.5px,#c7e7f1 156.5px,#abd9e9 180.5px,#90c4dd 193.5px,#75aed1 199.5px,#6399c7 205.5px,#5385bc 224.5px,#426db0 238.5px,#4169ae 243.5px,#4d7fb9 263.5px,#4f81ba 277.5px,#4574b4 288.5px,#5285bc 309.5px,#4777b5 331.5px,#4e7fb9 346.5px,#426db0 355.5px,#5285bc 367.5px,#5487bd 376.5px,#436fb1 387.5px,#4d7eb9 400.5px)"></i><i style="left:537px;background:linear-gradient(#313695 0.5px,#313695 24.5px,#343e99 26.5px,#436eb1 30.5px,#5487bd 32.5px,#70a8ce 34.5px,#ceeaf3 38.5px,#e4f4f1 39.5px,#fffcbb 41.5px,#fed586 43.5px,#fb9d59 45.5px,#ed5f3d 47.5px,#dd3e2d 48.5px,#b31a28 50.5px,#ac1628 51.5px,#ad1728 84.5px,#d83228 88.5px,#f67e4b 91.5px,#fdac60 93.5px,#fedd8d 97.5px,#fff7b3 101.5px,#ffffbe 103.5px,#f2fad8 117.5px,#e0f3f8 128.5px,#d4edf5 133.5px,#c6e6f1 158.5px,#aad8e9 181.5px,#8ec2dc 194.5px,#659bc8 205.5px,#5386bd 224.5px,#436db0 238.5px,#4169ae 243.5px,#4c7eb8 262.5px,#4f81ba 276.5px,#4575b4 288.5px,#5385bd 309.5px,#4979b6 320.5px,#4c7db8 346.5px,#426baf 355.5px,#5385bc 367.5px,#5386bd 377.5px,#436fb1 387.5px,#4b7cb8 400.5px)"></i><i style="left:540px;background:linear-gradient(#313695 0.5px,#313695 24.5px,#343e99 26.5px,#436fb1 30.5px,#578bbf 32.5px,#78b0d3 34.5px,#a5d4e6 36.5px,#d2ecf4 38.5px,#e5f5ef 39.5px,#fffcba 41.5px,#fed484 43.5px,#fa9556 45.5px,#f57647 46.5px,#dd3c2d 48.5px,#cb2927 49.5px,#ac1628 51.5px,#b01828 83.5px,#d83328 87.5px,#f57647 90.5px,#fdae61 93.5px,#fed081 96.5px,#fffab7 102.5px,#ffffbf 104.5px,#f4fbd3 116.5px,#def2f8 131.5px,#abd9e9 181.5px,#91c4dd 194.5px,#689ec9 205.5px,#436eb0 238.5px,#426aaf 243.5px,#4d7eb9 263.5px,#5082bb 276.5px,#4676b4 288.5px,#5386bd 308.5px,#497ab6 319.5px,#497ab7 346.5px,#4169ae 355.5px,#5285bc 367.5px,#5386bd 377.5px,#436fb1 387.5px,#497ab7 400.5px)"></i><i style="left:543px;background:linear-gradient(#313695 0.5px,#313695 24.5px,#343e99 26.5px,#436fb1 30.5px,#588bbf 32.5px,#78b0d3 34.5px,#a5d4e6 36.5px,#d2ecf4 38.5px,#e5f5ef 39.5px,#fffcba 41.5px,#fed484 43.5px,#fdb668 44.5px,#f57547 46.5px,#d12c27 49.5px,#b01928 51.5px,#ac1628 52.5px,#ae1728 81.5px,#da362a 86.5px,#f46e44 89.5px,#fa9555 91.5px,#fdc173 95.5px,#fee293 99.5px,#fff9b6 103.5px,#ffffbe 105.5px,#dff3f8 134.5px,#abd9e9 182.5px,#8ec2dc 196.5px,#6ba2cb 205.5px,#4471b2 237.5px,#426baf 242.5px,#5183bb 277.5px,#4676b4 288.5px,#5385bd 308.5px,#497ab7 319.5px,#4777b5 346.5px,#4168ad 355.5px,#5284bc 367.5px,#5386bd 377.5px,#4470b2 387.5px,#4778b5 400.5px)"></i><i style="left:546px;background:linear-gradient(#313695 0.5px,#313695 24.5px,#343e99 26.5px,#436eb1 30.5px,#70a8cf 34.5px,#ceeaf3 38.5px,#e4f4f1 39.5px,#fffcbb 41.5px,#fed585 43.5px,#fdb76a 44.5px,#f67b49 46.5px,#da372a 49.5px,#b11928 52.5px,#ac1628 53.5px,#af1828 79.5px,#d73027 84.5px,#e95638 87.5px,#f67848 89.5px,#fdac60 93.5px,#fee090 100.5px,#fff9b5 105.5px,#ffffc0 108.5px,#dff3f8 138.5px,#aad8e8 184.5px,#90c4dd 197.5px,#6fa7ce 205.5px,#4574b3 236.5px,#426db0 242.5px,#5184bc 277.5px,#4676b4 288.5px,#5285bc 308.5px,#4a7bb7 319.5px,#4979b6 340.5px,#4167ad 354.5px,#5183bb 366.5px,#5285bc 378.5px,#4472b3 387.5px,#4575b4 400.5px)"></i><i style="left:549px;background:linear-gradient(#313695 0.5px,#313695 24.5px,#343e99 26.5px,#436eb1 30.5px,#6ba2cb 34.5px,#acdae9 37.5px,#ddf2f7 39.5px,#fdfec2 41.5px,#fff0a8 42.5px,#fedf8f 43.5px,#fca85e 45.5px,#f57145 47.5px,#da372a 50.5px,#ac1628 54.5px,#ac1628 75.5px,#bd2028 78.5px,#d83228 82.5px,#f57547 88.5px,#fba05a 92.5px,#fdc375 97.5px,#feeea5 105.5px,#ffffbf 111.5px,#e0f3f8 142.5px,#a9d7e8 186.5px,#91c4de 199.5px,#72abd0 207.5px,#4473b3 237.5px,#4574b3 255.5px,#4e7fb9 263.5px,#5285bc 277.5px,#4575b4 288.5px,#5284bc 308.5px,#4b7cb7 318.5px,#497ab7 339.5px,#4067ad 355.5px,#4e80ba 364.5px,#5285bc 377.5px,#4574b4 387.5px,#4473b3 400.5px)"></i><i style="left:552px;background:linear-gradient(#313695 0.5px,#313695 24.5px,#343e99 26.5px,#436eb0 30.5px,#6aa1cb 34.5px,#a7d5e7 37.5px,#d4edf5 39.5px,#e7f6ec 40.5px,#fffab8 42.5px,#fed485 44.5px,#fdb96b 45.5px,#fa9b58 46.5px,#f46d43 48.5px,#d52f27 52.5px,#bb1f28 55.5px,#ac1628 58.5px,#ad1728 69.5px,#d32e27 78.5px,#e54e35 83.5px,#f57446 87.5px,#fdad60 94.5px,#fee395 105.5px,#fff7b4 111.5px,#ffffbf 115.5px,#dff2f8 146.5px,#abd9e9 186.5px,#96c8e0 199.5px,#74add1 210.5px,#4574b4 238.5px,#4574b4 255.5px,#4e80ba 263.5px,#5386bd 277.5px,#4575b4 288.5px,#5183bb 308.5px,#4a7ab7 338.5px,#4167ad 354.5px,#4e7fb9 364.5px,#5284bc 378.5px,#4676b5 387.5px,#4370b2 400.5px)"></i><i style="left:555px;background:linear-gradient(#313695 0.5px,#313695 24.5px,#333e99 26.5px,#426cb0 30.5px,#5082bb 32.5px,#77afd2 35.5px,#b6deec 38.5px,#e1f3f7 40.5px,#fcfec5 42.5px,#fff4ae 43.5px,#fee496 44.5px,#fdb265 46.5px,#f7814c 48.5px,#e75337 51.5px,#d32e27 55.5px,#c32427 60.5px,#c42527 66.5px,#d63027 73.5px,#e75236 81.5px,#f36c42 85.5px,#f88c51 89.5px,#fdaf62 95.5px,#feea9f 110.5px,#ffffc0 120.5px,#def2f8 149.5px,#abd9e9 188.5px,#94c6df 203.5px,#75add1 213.5px,#5588be 228.5px,#4777b5 238.5px,#4575b4 255.5px,#4f81ba 263.5px,#5487bd 277.5px,#4575b4 287.5px,#5082bb 306.5px,#4f81ba 326.5px,#4168ae 354.5px,#4c7db8 363.5px,#5285bc 379.5px,#436eb0 400.5px)"></i><i style="left:558px;background:linear-gradient(#313695 0.5px,#313796 25.5px,#35429b 27.5px,#4471b2 31.5px,#6da5cd 35.5px,#a9d7e8 38.5px,#d3edf4 40.5px,#e4f5f0 41.5px,#feffc1 43.5px,#fff2ac 44.5px,#fee496 45.5px,#fdb366 47.5px,#f7854e 49.5px,#f36a42 51.5px,#e24832 55.5px,#dc3a2c 60.5px,#e44b34 74.5px,#f36a42 83.5px,#fcaa5f 95.5px,#fdc173 101.5px,#feeca2 114.5px,#ffffbf 125.5px,#e0f3f8 151.5px,#acd9e9 190.5px,#94c6df 206.5px,#5c90c2 226.5px,#4a7ab7 238.5px,#4676b4 255.5px,#5082bb 263.5px,#5588be 276.5px,#4575b4 288.5px,#4f81ba 305.5px,#5082bb 326.5px,#426aaf 354.5px,#4b7db8 363.5px,#4a7bb7 371.5px,#5385bc 380.5px,#426cb0 400.5px)"></i><i style="left:561px;background:linear-gradient(#313695 0.5px,#313695 25.5px,#343e99 27.5px,#426db0 31.5px,#689ec9 35.5px,#b2dceb 39.5px,#d8eff6 41.5px,#e7f6ec 42.5px,#feffc1 44.5px,#fff4ae 45.5px,#fee699 46.5px,#fdb96b 48.5px,#f99053 50.5px,#f16740 55.5px,#e95739 61.5px,#ef633e 77.5px,#f99455 91.5px,#fdae61 97.5px,#fee091 113.5px,#ffffbf 129.5px,#def2f7 154.5px,#abd9e9 193.5px,#94c6df 209.5px,#5f94c4 226.5px,#4e7fb9 237.5px,#4777b5 255.5px,#5082bb 262.5px,#578abf 277.5px,#4575b4 288.5px,#4d7eb9 297.5px,#5082bb 326.5px,#426cb0 354.5px,#4a7bb7 362.5px,#497ab6 371.5px,#5386bd 380.5px,#426baf 400.5px)"></i><i style="left:564px;background:linear-gradient(#313695 0.5px,#313796 26.5px,#35429b 28.5px,#4471b2 32.5px,#6ca4cc 36.5px,#a4d3e6 39.5px,#dbf1f7 42.5px,#fcfec5 45.5px,#fff7b3 46.5px,#fede8f 48.5px,#fdb96c 50.5px,#fb9d59 52.5px,#f67b49 57.5px,#f36c42 66.5px,#f57848 81.5px,#f98e52 90.5px,#fdad61 98.5px,#fee090 116.5px,#ffffbf 132.5px,#def2f7 156.5px,#d2ecf4 161.5px,#abd9e9 196.5px,#93c6df 212.5px,#649ac7 226.5px,#5184bc 237.5px,#5284bc 246.5px,#4879b6 254.5px,#588cc0 277.5px,#4676b4 288.5px,#4d7eb9 297.5px,#4b7cb7 314.5px,#5183bb 326.5px,#436fb1 354.5px,#4a7bb7 362.5px,#4878b6 370.5px,#5487bd 381.5px,#426baf 400.5px)"></i><i style="left:567px;background:linear-gradient(#313695 0.5px,#313695 26.5px,#343e99 28.5px,#4676b4 33.5px,#70a9cf 37.5px,#a8d6e8 40.5px,#daf0f6 43.5px,#e6f5ee 44.5px,#fffcbb 47.5px,#fece80 51.5px,#fca55d 55.5px,#f99254 58.5px,#f88850 61.5px,#f67e4b 71.5px,#f88c51 89.5px,#fdac60 99.5px,#fed989 117.5px,#fffebd 134.5px,#def2f8 158.5px,#d2ecf4 163.5px,#abd9e9 199.5px,#94c6df 215.5px,#86bbd9 220.5px,#6ba2cb 226.5px,#5a8ec1 233.5px,#5689be 246.5px,#4b7cb8 253.5px,#5a8ec1 276.5px,#4777b5 287.5px,#4e7fb9 297.5px,#4a7bb7 314.5px,#5284bc 325.5px,#4472b2 354.5px,#4a7bb7 362.5px,#4777b5 370.5px,#5588be 380.5px,#426baf 400.5px)"></i><i style="left:570px;background:linear-gradient(#313695 0.5px,#323896 27.5px,#35449c 29.5px,#436fb1 33.5px,#73abd0 38.5px,#a8d6e8 41.5px,#d7eff5 44.5px,#e3f4f2 45.5px,#fcfec4 48.5px,#fff9b6 49.5px,#fed283 53.5px,#fdae61 58.5px,#fa9756 64.5px,#f88950 81.5px,#f99053 92.5px,#fdad61 101.5px,#fed889 120.5px,#fffebd 137.5px,#f4fbd4 148.5px,#dff2f8 160.5px,#d2ecf4 165.5px,#abd9e9 202.5px,#96c8e0 217.5px,#8dc1dc 221.5px,#71a9cf 227.5px,#5f94c4 233.5px,#5b8fc2 245.5px,#4e7fb9 253.5px,#5b8fc2 276.5px,#4878b6 287.5px,#4f81ba 297.5px,#4a7bb7 314.5px,#5386bd 325.5px,#4574b4 354.5px,#4a7ab7 361.5px,#4677b5 369.5px,#5689be 380.5px,#426db0 400.5px)"></i><i style="left:573px;background:linear-gradient(#313695 0.5px,#313795 27.5px,#343f99 29.5px,#4575b4 34.5px,#69a0ca 38.5px,#a9d7e8 42.5px,#dff3f8 46.5px,#ffffc0 50.5px,#fff8b4 51.5px,#fece7f 56.5px,#fdb265 62.5px,#fb9f5a 70.5px,#f88d52 86.5px,#f98f53 93.5px,#fdb164 104.5px,#fed484 121.5px,#fffcba 139.5px,#f7fccd 149.5px,#dff3f8 162.5px,#d3ecf4 167.5px,#addaea 204.5px,#9bcce2 217.5px,#8abfdb 225.5px,#6399c7 234.5px,#6197c5 244.5px,#5183bc 253.5px,#5d91c3 276.5px,#497ab6 287.5px,#5083bb 297.5px,#4a7bb7 313.5px,#5487bd 324.5px,#4777b5 347.5px,#4676b5 368.5px,#568abf 380.5px,#436eb1 400.5px)"></i><i style="left:576px;background:linear-gradient(#313695 0.5px,#313695 27.5px,#333d99 29.5px,#436fb1 34.5px,#6ca3cc 39.5px,#a7d6e7 43.5px,#d8eff6 47.5px,#e2f4f4 48.5px,#ffffbf 52.5px,#fed989 57.5px,#fdc172 62.5px,#fdae61 70.5px,#f88d52 89.5px,#f99053 95.5px,#fdaf62 105.5px,#fed485 124.5px,#fff9b6 141.5px,#fbfec6 150.5px,#e0f3f7 164.5px,#d4edf5 169.5px,#c1e4ef 192.5px,#a1d1e5 216.5px,#8ec2dc 227.5px,#6aa1cb 235.5px,#689ec9 243.5px,#5589be 253.5px,#5f94c4 276.5px,#4b7cb7 287.5px,#5285bc 297.5px,#4a7bb7 313.5px,#5588be 324.5px,#4979b6 346.5px,#4676b5 367.5px,#578abf 380.5px,#4470b2 400.5px)"></i><i style="left:579px;background:linear-gradient(#313695 0.5px,#323896 28.5px,#35439b 30.5px,#4473b3 35.5px,#6399c6 39.5px,#a4d4e6 44.5px,#dbf1f7 49.5px,#e4f4f1 50.5px,#fffebe 54.5px,#fedc8c 59.5px,#feca7b 63.5px,#fdad61 77.5px,#f99154 88.5px,#f98e52 92.5px,#f99154 97.5px,#fdae61 106.5px,#fed384 126.5px,#fff7b3 143.5px,#feffc0 151.5px,#e0f3f8 167.5px,#a9d8e8 214.5px,#91c5de 229.5px,#76afd2 236.5px,#5a8ec1 253.5px,#6196c5 276.5px,#4c7eb9 287.5px,#5588be 297.5px,#4b7cb7 313.5px,#5689be 324.5px,#497ab7 346.5px,#4676b5 367.5px,#578abf 380.5px,#4473b3 400.5px)"></i><i style="left:582px;background:linear-gradient(#313695 0.5px,#313795 28.5px,#343f9a 30.5px,#4676b4 36.5px,#659bc8 40.5px,#a2d1e5 45.5px,#dcf1f7 51.5px,#e4f4f1 52.5px,#fffebd 56.5px,#fee091 61.5px,#fed283 64.5px,#fdad61 82.5px,#f99154 91.5px,#f98e52 95.5px,#fed383 128.5px,#fff7b3 146.5px,#feffc0 153.5px,#e0f3f7 171.5px,#aad8e9 217.5px,#90c4dd 233.5px,#5f94c4 254.5px,#6399c6 276.5px,#4f80ba 287.5px,#588bbf 296.5px,#4b7db8 313.5px,#568abf 324.5px,#4a7bb7 346.5px,#4777b5 367.5px,#568abf 380.5px,#4574b4 400.5px)"></i><i style="left:585px;background:linear-gradient(#313695 0.5px,#323896 29.5px,#4370b2 36.5px,#669cc8 41.5px,#9fcfe4 46.5px,#def2f7 53.5px,#fffdbc 58.5px,#fee496 63.5px,#fed586 67.5px,#fa9756 95.5px,#fdad61 110.5px,#fed182 129.5px,#fffebe 153.5px,#ebf7e3 166.5px,#dff3f8 177.5px,#abd9e9 220.5px,#8fc3dd 237.5px,#649ac7 255.5px,#669cc8 276.5px,#5184bc 286.5px,#5a8ec1 296.5px,#4d7eb9 312.5px,#568abf 323.5px,#4778b5 367.5px,#578abf 379.5px,#4676b4 400.5px)"></i><i style="left:588px;background:linear-gradient(#313695 0.5px,#313795 29.5px,#343f99 31.5px,#4472b2 37.5px,#659bc8 42.5px,#a4d4e6 48.5px,#e0f3f8 55.5px,#fffdbc 60.5px,#fee598 66.5px,#fed687 71.5px,#fdaf62 91.5px,#fb9c59 104.5px,#fed384 132.5px,#fffebe 154.5px,#edf8e0 168.5px,#e0f3f8 182.5px,#aad8e9 224.5px,#8dc1dc 242.5px,#6ba2cb 254.5px,#699fca 276.5px,#5487bd 286.5px,#5d91c3 296.5px,#4e80ba 312.5px,#5689bf 323.5px,#4878b6 366.5px,#568abf 379.5px,#4777b5 400.5px)"></i><i style="left:591px;background:linear-gradient(#313695 0.5px,#313796 30.5px,#34419a 32.5px,#4473b3 38.5px,#649ac7 43.5px,#99cae1 48.5px,#d9f0f6 56.5px,#e2f4f4 57.5px,#fffdbc 62.5px,#fee99e 68.5px,#fedb8c 74.5px,#fa9b58 106.5px,#fdae61 115.5px,#fed182 133.5px,#fffebe 155.5px,#e0f3f8 187.5px,#abd9e9 227.5px,#90c3dd 244.5px,#72abd0 254.5px,#6ca4cc 276.5px,#578abf 286.5px,#5f94c4 296.5px,#5082bb 313.5px,#5588be 323.5px,#4878b6 366.5px,#5689bf 379.5px,#4778b5 400.5px)"></i><i style="left:594px;background:linear-gradient(#313695 0.5px,#323896 31.5px,#4472b3 39.5px,#6398c6 44.5px,#95c7df 49.5px,#dbf1f7 58.5px,#e3f4f2 59.5px,#fffdbd 64.5px,#fee090 77.5px,#fb9f5a 109.5px,#fdae61 117.5px,#fed283 135.5px,#ffffbf 157.5px,#e0f3f8 192.5px,#aad9e9 231.5px,#8fc3dd 248.5px,#7bb2d4 256.5px,#71aacf 275.5px,#5a8ec1 286.5px,#6096c5 296.5px,#5183bb 314.5px,#5487bd 323.5px,#4878b6 366.5px,#5689bf 379.5px,#4778b6 400.5px)"></i><i style="left:597px;background:linear-gradient(#313695 0.5px,#313695 31.5px,#333c98 33.5px,#4472b2 40.5px,#6096c5 45.5px,#99cbe1 51.5px,#def2f7 60.5px,#fffdbc 66.5px,#fee192 81.5px,#fba35c 113.5px,#fed484 137.5px,#fffebe 159.5px,#e0f3f8 197.5px,#acd9e9 234.5px,#86bbd9 258.5px,#77afd2 275.5px,#5c91c2 287.5px,#6298c6 296.5px,#5184bc 315.5px,#4878b6 366.5px,#5689be 380.5px,#4878b6 400.5px)"></i><i style="left:600px;background:linear-gradient(#313695 0.5px,#313795 32.5px,#333d99 34.5px,#4777b5 42.5px,#659bc8 47.5px,#95c7df 52.5px,#d9f0f6 61.5px,#e1f4f5 62.5px,#f9fdc9 66.5px,#fffdbd 68.5px,#fee699 82.5px,#fca65d 116.5px,#fed586 139.5px,#fffcbb 161.5px,#e0f3f8 201.5px,#abd9e9 238.5px,#80b6d6 273.5px,#6095c4 287.5px,#6399c7 296.5px,#5183bb 317.5px,#4f81ba 353.5px,#4878b6 365.5px,#5689be 380.5px,#4878b6 400.5px)"></i><i style="left:603px;background:linear-gradient(#313695 0.5px,#313795 33.5px,#333d98 35.5px,#4575b4 43.5px,#699fca 49.5px,#a0d0e4 55.5px,#dcf1f7 63.5px,#fafdc9 68.5px,#fffebe 70.5px,#fee090 92.5px,#fca95f 119.5px,#fee192 145.5px,#fffbb9 164.5px,#feffc0 171.5px,#e0f3f8 205.5px,#88bdda 272.5px,#6398c6 288.5px,#659bc8 296.5px,#4d7fb9 328.5px,#5183bb 352.5px,#4778b5 366.5px,#5689bf 380.5px,#4878b6 400.5px)"></i><i style="left:606px;background:linear-gradient(#313695 0.5px,#313795 34.5px,#333c98 36.5px,#4473b3 44.5px,#6ba3cc 51.5px,#aad8e9 58.5px,#e0f3f8 65.5px,#f9fdca 70.5px,#fffebd 73.5px,#fee090 97.5px,#fdae61 123.5px,#fee091 146.5px,#fff9b6 166.5px,#ffffbf 175.5px,#dff3f8 209.5px,#8bbfdb 274.5px,#679ec9 288.5px,#669dc9 296.5px,#4e7fb9 327.5px,#5285bc 352.5px,#4777b5 366.5px,#5689bf 380.5px,#5285bc 391.5px,#4878b6 400.5px)"></i><i style="left:609px;background:linear-gradient(#313695 0.5px,#323896 36.5px,#4676b5 46.5px,#669cc8 52.5px,#acd9e9 60.5px,#daf0f6 66.5px,#e1f3f6 67.5px,#f3fad5 71.5px,#ffffbf 76.5px,#fee090 102.5px,#fdb265 126.5px,#fee090 147.5px,#fff8b4 169.5px,#ffffbf 179.5px,#e0f3f8 212.5px,#8ec2dc 276.5px,#6da4cc 288.5px,#5284bc 318.5px,#5386bd 352.5px,#4777b5 366.5px,#5689be 382.5px,#4879b6 400.5px)"></i><i style="left:612px;background:linear-gradient(#313695 0.5px,#313796 37.5px,#4573b3 47.5px,#689ec9 54.5px,#a6d5e7 61.5px,#ddf2f7 68.5px,#f6fbd0 75.5px,#fffebd 81.5px,#fee191 106.5px,#fdb669 129.5px,#fee191 149.5px,#fffcbb 179.5px,#e0f3f8 216.5px,#90c4dd 278.5px,#71aacf 289.5px,#5386bd 318.5px,#5487be 352.5px,#4878b6 366.5px,#5487bd 377.5px,#5588be 386.5px,#4979b6 400.5px)"></i><i style="left:615px;background:linear-gradient(#313695 0.5px,#313795 38.5px,#333d99 40.5px,#4676b4 49.5px,#69a0ca 56.5px,#a9d7e8 63.5px,#dff3f8 70.5px,#f5fbd2 78.5px,#ffffbe 85.5px,#fee090 111.5px,#fdba6c 132.5px,#fee090 150.5px,#fffcba 182.5px,#e0f3f8 220.5px,#91c4de 281.5px,#679dc9 301.5px,#5487bd 319.5px,#5588be 352.5px,#4879b6 366.5px,#5386bd 377.5px,#5588be 387.5px,#497ab7 400.5px)"></i><i style="left:618px;background:linear-gradient(#313695 0.5px,#313795 39.5px,#333c98 41.5px,#4472b3 50.5px,#6aa2cb 58.5px,#abd9e9 65.5px,#d0ebf3 69.5px,#e0f3f7 72.5px,#f4fbd4 81.5px,#ffffbf 90.5px,#fee091 115.5px,#fdbf71 134.5px,#fee191 152.5px,#ffffbe 190.5px,#dff3f8 224.5px,#91c4de 285.5px,#69a0ca 302.5px,#568abf 319.5px,#5689be 352.5px,#4a7bb7 366.5px,#5588be 388.5px,#4a7bb7 400.5px)"></i><i style="left:621px;background:linear-gradient(#313695 0.5px,#313796 41.5px,#4574b4 52.5px,#6ca3cc 60.5px,#afdbea 67.5px,#cce9f2 70.5px,#e0f3f7 74.5px,#f3fad6 84.5px,#ffffbf 95.5px,#fed282 127.5px,#fdc576 137.5px,#fee090 153.5px,#ffffbf 194.5px,#e0f3f8 227.5px,#91c4dd 289.5px,#6ea6cd 302.5px,#598cc0 320.5px,#568abf 353.5px,#4b7db8 366.5px,#5487bd 389.5px,#4a7bb7 400.5px)"></i><i style="left:624px;background:linear-gradient(#313695 0.5px,#313795 42.5px,#4575b4 54.5px,#6da5cd 62.5px,#b1dceb 69.5px,#d8eff6 74.5px,#e0f3f8 76.5px,#f2fad8 87.5px,#fffebe 100.5px,#fed687 128.5px,#feca7b 138.5px,#fee090 155.5px,#ffffbf 197.5px,#dff3f8 231.5px,#91c5de 292.5px,#6ea6ce 305.5px,#5d91c3 320.5px,#578abf 354.5px,#4d7fb9 366.5px,#5487bd 389.5px,#4b7cb8 400.5px)"></i><i style="left:627px;background:linear-gradient(#313695 0.5px,#313795 43.5px,#333b97 45.5px,#4473b3 55.5px,#6ea5cd 64.5px,#a8d7e8 70.5px,#c7e7f1 73.5px,#d8eff6 76.5px,#e1f3f7 79.5px,#fffebe 104.5px,#fed787 131.5px,#fed081 139.5px,#ffffbf 200.5px,#e0f3f8 234.5px,#91c4de 296.5px,#73acd0 306.5px,#6297c6 320.5px,#588bc0 355.5px,#4f81ba 366.5px,#5386bd 388.5px,#4c7db8 400.5px)"></i><i style="left:630px;background:linear-gradient(#313695 0.5px,#313795 45.5px,#4574b4 57.5px,#6fa7ce 66.5px,#aad8e8 72.5px,#c6e6f1 75.5px,#d6eef5 78.5px,#e1f3f6 82.5px,#ffffbf 107.5px,#fed989 134.5px,#fed485 147.5px,#ffffbf 203.5px,#e0f3f8 237.5px,#92c5de 299.5px,#78b1d3 308.5px,#679dc9 321.5px,#5183bb 366.5px,#5386bd 387.5px,#4d7eb9 400.5px)"></i><i style="left:633px;background:linear-gradient(#313695 0.5px,#313796 47.5px,#4472b2 58.5px,#6ba2cb 67.5px,#abd9e9 74.5px,#d5eef5 80.5px,#e0f3f8 84.5px,#fffebe 111.5px,#fedf8f 135.5px,#fed485 151.5px,#ffffbf 206.5px,#e0f3f8 240.5px,#94c7df 301.5px,#6ca4cc 322.5px,#5285bc 366.5px,#4e80ba 400.5px)"></i><i style="left:636px;background:linear-gradient(#313695 0.5px,#313795 48.5px,#4574b4 60.5px,#6ea5cd 69.5px,#addae9 76.5px,#d4edf5 82.5px,#e1f3f7 87.5px,#fffebe 114.5px,#fee395 136.5px,#fed384 154.5px,#ffffbf 209.5px,#dff2f8 244.5px,#92c5de 307.5px,#74add1 322.5px,#6298c6 339.5px,#5285bc 369.5px,#5082bb 400.5px)"></i><i style="left:639px;background:linear-gradient(#313695 0.5px,#313795 49.5px,#333b98 51.5px,#4472b3 61.5px,#6ba2cb 70.5px,#aedbea 78.5px,#d3ecf4 84.5px,#e0f3f8 89.5px,#ffffbf 116.5px,#fee79b 136.5px,#fed283 156.5px,#ffffbf 212.5px,#e0f3f8 246.5px,#8fc3dd 314.5px,#659cc8 339.5px,#5385bd 370.5px,#5284bc 400.5px)"></i><i style="left:642px;background:linear-gradient(#313695 0.5px,#313695 49.5px,#333e99 53.5px,#4575b4 63.5px,#6399c6 70.5px,#a8d7e8 79.5px,#c3e5f0 83.5px,#e0f3f7 92.5px,#fffebe 120.5px,#fee89c 139.5px,#fed282 160.5px,#ffffbe 214.5px,#dff3f8 250.5px,#90c3dd 318.5px,#6ea5cd 336.5px,#6196c5 348.5px,#5386bd 371.5px,#5082bb 390.5px,#5487bd 400.5px)"></i><i style="left:645px;background:linear-gradient(#313695 0.5px,#313695 50.5px,#333c98 54.5px,#4473b3 64.5px,#5c91c2 70.5px,#8ec2dc 77.5px,#c3e5f0 85.5px,#e0f3f8 94.5px,#ffffbf 123.5px,#fee99d 142.5px,#fed182 164.5px,#ffffbf 217.5px,#e0f3f8 252.5px,#8ec2dc 324.5px,#73abd0 336.5px,#6399c7 349.5px,#4f81ba 388.5px,#578abf 400.5px)"></i><i style="left:648px;background:linear-gradient(#313695 0.5px,#323a97 55.5px,#4676b4 66.5px,#5689be 70.5px,#6aa1cb 74.5px,#8abfdb 78.5px,#bde2ee 86.5px,#d0ebf4 90.5px,#e1f3f7 97.5px,#fffebe 126.5px,#fed081 167.5px,#ffffbf 220.5px,#e0f3f8 255.5px,#8fc3dd 327.5px,#7ab2d4 336.5px,#659cc8 350.5px,#4f80ba 387.5px,#598dc0 400.5px)"></i><i style="left:651px;background:linear-gradient(#313695 0.5px,#313695 53.5px,#333e99 57.5px,#4574b4 67.5px,#5486bd 71.5px,#6da5cd 76.5px,#8ec2dc 80.5px,#b8dfed 87.5px,#d0ebf3 92.5px,#e0f3f8 99.5px,#ffffbe 128.5px,#fed081 170.5px,#ffffbe 222.5px,#e0f3f8 258.5px,#90c3dd 330.5px,#679dc9 352.5px,#4e80b9 387.5px,#5b90c2 400.5px)"></i><i style="left:654px;background:linear-gradient(#313695 0.5px,#313695 54.5px,#333b98 58.5px,#3d5ba7 63.5px,#4d7fb9 71.5px,#6aa1cb 77.5px,#8abfdb 81.5px,#aedbea 87.5px,#d0ebf3 94.5px,#e0f3f8 101.5px,#ffffbf 130.5px,#fed081 173.5px,#ffffbf 225.5px,#e0f3f8 261.5px,#90c4dd 333.5px,#6ba2cb 351.5px,#578abf 371.5px,#4d7fb9 388.5px,#5d92c3 400.5px)"></i><i style="left:657px;background:linear-gradient(#313695 0.5px,#313695 56.5px,#343f99 60.5px,#3c59a6 64.5px,#4c7db8 72.5px,#689ec9 78.5px,#8ec2dc 83.5px,#abd9e9 88.5px,#cfebf3 96.5px,#e1f3f7 104.5px,#ffffbf 132.5px,#fed182 176.5px,#ffffbf 228.5px,#dff3f8 264.5px,#91c4de 336.5px,#6ea6ce 351.5px,#578abf 372.5px,#4d7fb9 388.5px,#5f94c4 400.5px)"></i><i style="left:660px;background:linear-gradient(#313695 0.5px,#313695 57.5px,#333d99 61.5px,#3c57a5 65.5px,#4f81ba 74.5px,#6ba2cb 80.5px,#8bbfdb 84.5px,#acdae9 90.5px,#cfeaf3 98.5px,#e0f3f7 106.5px,#ffffbf 134.5px,#fed283 178.5px,#ffffbf 230.5px,#e0f3f8 266.5px,#90c3dd 340.5px,#73acd1 351.5px,#578abf 373.5px,#4d7eb9 387.5px,#6196c5 400.5px)"></i><i style="left:663px;background:linear-gradient(#313695 0.5px,#313695 58.5px,#333c98 62.5px,#3d5ba7 67.5px,#4d7fb9 75.5px,#689fca 81.5px,#8fc3dd 86.5px,#addaea 92.5px,#ceeaf3 100.5px,#e0f3f8 108.5px,#ffffbe 137.5px,#fed383 181.5px,#fee89c 200.5px,#ffffbf 233.5px,#e0f3f8 269.5px,#91c4de 342.5px,#76aed2 353.5px,#578bbf 374.5px,#4d7fb9 387.5px,#6197c6 400.5px)"></i><i style="left:666px;background:linear-gradient(#313695 0.5px,#323b97 63.5px,#4b7db8 76.5px,#679dc9 82.5px,#8cc1dc 87.5px,#aad8e8 93.5px,#ceeaf3 102.5px,#e0f3f8 110.5px,#fffebe 140.5px,#fed484 183.5px,#fee89d 202.5px,#ffffbf 235.5px,#dff3f8 272.5px,#91c4dd 345.5px,#79b1d3 355.5px,#4f81ba 383.5px,#4f81ba 389.5px,#6298c6 400.5px)"></i><i style="left:669px;background:linear-gradient(#313695 0.5px,#313695 61.5px,#333d99 65.5px,#3c57a5 69.5px,#4e80ba 78.5px,#6aa1cb 84.5px,#8abedb 88.5px,#abd9e9 95.5px,#ceeaf3 104.5px,#e0f3f8 112.5px,#ffffbf 142.5px,#fed686 185.5px,#ffffbf 238.5px,#e0f3f8 274.5px,#90c4dd 348.5px,#73acd0 363.5px,#5c91c2 373.5px,#5183bb 382.5px,#4f82ba 388.5px,#6398c6 400.5px)"></i><i style="left:672px;background:linear-gradient(#313695 0.5px,#333b98 66.5px,#3d5aa7 71.5px,#4d7eb9 79.5px,#679ec9 85.5px,#8dc1dc 90.5px,#acdae9 97.5px,#cfebf3 106.5px,#e0f3f7 114.5px,#ffffbf 145.5px,#fed888 188.5px,#ffffc0 241.5px,#e0f3f8 277.5px,#91c4de 350.5px,#78b0d3 363.5px,#5d92c3 374.5px,#5183bb 383.5px,#5284bc 389.5px,#6399c6 400.5px)"></i><i style="left:675px;background:linear-gradient(#313695 0.5px,#323a97 67.5px,#3c58a6 72.5px,#4b7cb8 80.5px,#6ba2cb 87.5px,#8abedb 91.5px,#aad8e8 98.5px,#d1ebf4 108.5px,#e0f3f7 116.5px,#ffffbe 148.5px,#feda8a 190.5px,#ffffbf 243.5px,#e0f3f8 280.5px,#abd9e9 328.5px,#8fc3dd 354.5px,#7bb2d4 364.5px,#6095c5 374.5px,#5284bc 383.5px,#5284bc 388.5px,#6399c7 400.5px)"></i><i style="left:678px;background:linear-gradient(#313695 0.5px,#313695 65.5px,#333d98 69.5px,#3d5ca8 74.5px,#4d7fb9 82.5px,#689ec9 88.5px,#8dc1dc 93.5px,#acd9e9 100.5px,#cfeaf3 109.5px,#e0f3f7 118.5px,#ffffbe 151.5px,#fedc8c 192.5px,#feffc0 246.5px,#e0f3f8 283.5px,#abd9e9 331.5px,#8fc3dd 357.5px,#5386bd 383.5px,#5386bd 388.5px,#6399c7 400.5px)"></i><i style="left:681px;background:linear-gradient(#313695 0.5px,#333b98 70.5px,#3c59a6 75.5px,#4b7cb8 83.5px,#6ba2cb 90.5px,#8abedb 94.5px,#addaea 102.5px,#cfebf3 111.5px,#e0f3f7 120.5px,#ffffbf 153.5px,#fedd8e 194.5px,#ffffc0 248.5px,#dff3f8 287.5px,#abd9e9 333.5px,#8ec2dc 360.5px,#5487be 383.5px,#5487bd 388.5px,#6399c6 400.5px)"></i><i style="left:684px;background:linear-gradient(#313695 0.5px,#313695 68.5px,#333d99 72.5px,#3d5ca8 77.5px,#4d7fb9 85.5px,#689ec9 91.5px,#8dc1dc 96.5px,#abd9e9 103.5px,#d0ebf3 113.5px,#e0f3f7 122.5px,#ffffbf 155.5px,#fedf8f 196.5px,#feffc0 250.5px,#dff3f8 291.5px,#90c3dd 361.5px,#5588be 384.5px,#6398c6 400.5px)"></i><i style="left:687px;background:linear-gradient(#313695 0.5px,#333b98 73.5px,#3c5aa7 78.5px,#4b7cb8 86.5px,#6ba2cb 93.5px,#8abfdb 97.5px,#acdae9 105.5px,#d0ebf3 115.5px,#e1f3f7 124.5px,#ffffbe 157.5px,#fee191 199.5px,#feffc0 252.5px,#e0f3f8 295.5px,#90c3dd 363.5px,#568abf 384.5px,#6398c6 400.5px)"></i><i style="left:690px;background:linear-gradient(#313695 0.5px,#323a97 74.5px,#3c58a6 79.5px,#4d7fb9 88.5px,#689fca 94.5px,#8dc1dc 99.5px,#aad8e9 106.5px,#cdeaf3 116.5px,#dff3f8 125.5px,#ffffbf 159.5px,#fee191 201.5px,#ffffbf 253.5px,#e7f6eb 292.5px,#e0f3f8 299.5px,#90c4dd 365.5px,#578abf 385.5px,#6398c6 400.5px)"></i><i style="left:693px;background:linear-gradient(#313695 0.5px,#313695 72.5px,#333d98 76.5px,#3d5ba7 81.5px,#4c7db8 89.5px,#6ba3cc 96.5px,#8abfdb 100.5px,#acdae9 108.5px,#ceeaf3 118.5px,#e0f3f8 127.5px,#ffffbe 162.5px,#fee192 203.5px,#ffffbf 254.5px,#f0f9da 276.5px,#edf8e0 292.5px,#def2f8 303.5px,#91c4de 367.5px,#598cc0 385.5px,#6399c7 400.5px)"></i><i style="left:696px;background:linear-gradient(#313695 0.5px,#333b97 77.5px,#3c59a6 82.5px,#4f80ba 91.5px,#69a0ca 97.5px,#8ec2dc 102.5px,#aad8e9 109.5px,#cfebf3 120.5px,#e0f3f8 129.5px,#ffffbf 164.5px,#fee292 204.5px,#ffffbf 255.5px,#f1fad8 278.5px,#f2fad7 293.5px,#e0f3f8 305.5px,#c8e7f1 320.5px,#90c3dd 370.5px,#5b90c2 385.5px,#649ac7 400.5px)"></i><i style="left:699px;background:linear-gradient(#313695 0.5px,#323a97 78.5px,#3c58a6 83.5px,#4d7fb9 92.5px,#679dc9 98.5px,#8bc0db 103.5px,#acdae9 111.5px,#d0ebf3 122.5px,#dff3f8 130.5px,#ffffbf 166.5px,#fee293 206.5px,#ffffbf 256.5px,#f3fad5 278.5px,#f3fad4 294.5px,#def2f8 308.5px,#90c4dd 372.5px,#6ba2cb 381.5px,#5e93c3 386.5px,#669cc8 400.5px)"></i><i style="left:702px;background:linear-gradient(#313695 0.5px,#323997 79.5px,#3d5ca8 85.5px,#4c7eb9 93.5px,#6ba2cb 100.5px,#8abfdb 104.5px,#abd9e9 112.5px,#cfebf3 123.5px,#e0f3f8 132.5px,#ffffbf 168.5px,#fee293 208.5px,#ffffbf 257.5px,#f5fbd2 277.5px,#f3fad4 296.5px,#dff2f8 310.5px,#c5e6f0 327.5px,#91c4de 374.5px,#6399c7 386.5px,#699fca 400.5px)"></i><i style="left:705px;background:linear-gradient(#313695 0.5px,#323997 80.5px,#3b57a5 85.5px,#4c7db8 94.5px,#6aa1cb 101.5px,#8fc2dd 106.5px,#aad8e8 113.5px,#d0ebf4 125.5px,#dff3f8 133.5px,#ffffbe 170.5px,#fee394 209.5px,#ffffbf 258.5px,#f6fbd0 277.5px,#f4fbd4 297.5px,#dff2f8 312.5px,#c3e5f0 331.5px,#92c5de 376.5px,#6ba2cb 387.5px,#6ca4cc 400.5px)"></i><i style="left:708px;background:linear-gradient(#313695 0.5px,#323996 81.5px,#4c7db8 95.5px,#6aa1cb 102.5px,#8ec2dc 107.5px,#acdae9 115.5px,#d0ebf3 126.5px,#e0f3f8 135.5px,#ffffbe 172.5px,#fee394 211.5px,#ffffbf 258.5px,#f7fcce 277.5px,#f3fbd4 299.5px,#e0f3f8 313.5px,#c3e5f0 333.5px,#93c6de 378.5px,#78b0d3 389.5px,#71aacf 400.5px)"></i><i style="left:711px;background:linear-gradient(#313695 0.5px,#323997 82.5px,#3d5ba7 88.5px,#4b7db8 96.5px,#699fca 103.5px,#8ec2dc 108.5px,#abd9e9 116.5px,#cfebf3 127.5px,#e0f3f8 136.5px,#ffffbe 174.5px,#fee395 213.5px,#ffffbf 259.5px,#f4fbd4 300.5px,#dff3f8 315.5px,#bce1ee 341.5px,#92c5de 383.5px,#79b1d3 400.5px)"></i><i style="left:714px;background:linear-gradient(#313695 0.5px,#323996 83.5px,#4b7cb8 97.5px,#689fca 104.5px,#8dc1dc 109.5px,#aad8e9 117.5px,#ceeaf3 128.5px,#dff3f8 137.5px,#ffffbf 175.5px,#fee395 214.5px,#ffffbf 258.5px,#f4fbd4 301.5px,#dff2f8 317.5px,#b9e0ed 345.5px,#83b9d7 400.5px)"></i><i style="left:717px;background:linear-gradient(#313695 0.5px,#313695 81.5px,#333c98 85.5px,#3c5aa7 90.5px,#4a7bb7 98.5px,#679ec9 105.5px,#8bbfdb 110.5px,#addaea 119.5px,#d0ebf4 130.5px,#e0f3f7 139.5px,#ffffbf 177.5px,#fee495 216.5px,#ffffbf 258.5px,#f4fbd4 302.5px,#dff3f8 318.5px,#b0dbea 356.5px,#8dc1dc 400.5px)"></i><i style="left:720px;background:linear-gradient(#313695 0.5px,#333b97 86.5px,#3c58a6 91.5px,#4d7eb9 100.5px,#6aa2cb 107.5px,#8fc3dd 112.5px,#acdae9 120.5px,#d0ebf4 131.5px,#e0f3f8 140.5px,#ffffbe 179.5px,#fee395 217.5px,#ffffbf 256.5px,#f4fbd3 302.5px,#e0f3f8 319.5px,#aedaea 360.5px,#93c6df 400.5px)"></i><i style="left:723px;background:linear-gradient(#313695 0.5px,#323a97 87.5px,#3b57a5 92.5px,#4c7db8 101.5px,#69a0ca 108.5px,#8dc1dc 113.5px,#acd9e9 121.5px,#d0ebf4 132.5px,#e0f3f8 141.5px,#ffffbf 180.5px,#fee394 217.5px,#ffffbf 255.5px,#f4fbd4 303.5px,#e0f3f7 320.5px,#afdbea 361.5px,#97c9e0 400.5px)"></i><i style="left:726px;background:linear-gradient(#313695 0.5px,#323a97 88.5px,#3b57a5 93.5px,#4b7db8 102.5px,#689fca 109.5px,#8cc1dc 114.5px,#acd9e9 122.5px,#d0ebf4 133.5px,#e0f3f8 142.5px,#ffffbf 182.5px,#fee294 218.5px,#ffffbf 254.5px,#f4fbd3 303.5px,#dff3f8 322.5px,#afdbea 363.5px,#9acce2 400.5px)"></i><i style="left:729px;background:linear-gradient(#313695 0.5px,#323a97 89.5px,#3c57a5 94.5px,#4c7db8 103.5px,#689fca 110.5px,#8cc1dc 115.5px,#acd9e9 123.5px,#d1ecf4 134.5px,#e0f3f8 143.5px,#ffffbf 183.5px,#fee293 219.5px,#ffffbf 252.5px,#f4fbd3 303.5px,#dff3f8 323.5px,#b0dceb 363.5px,#9dcee3 400.5px)"></i><i style="left:732px;background:linear-gradient(#313695 0.5px,#323b97 90.5px,#3c58a6 95.5px,#4c7db8 104.5px,#69a0ca 111.5px,#8dc1dc 116.5px,#addae9 124.5px,#d2ecf4 135.5px,#e0f3f8 144.5px,#ffffbe 185.5px,#fee292 219.5px,#ffffbf 251.5px,#f4fbd3 304.5px,#dff3f8 324.5px,#b1dceb 364.5px,#9fd0e4 400.5px)"></i><i style="left:735px;background:linear-gradient(#313695 0.5px,#323896 90.5px,#497ab7 104.5px,#6aa1cb 112.5px,#8ec1dc 117.5px,#addaea 125.5px,#d0ebf3 135.5px,#e0f3f8 145.5px,#ffffbf 186.5px,#fee192 220.5px,#ffffbf 250.5px,#f4fbd3 304.5px,#e0f3f7 324.5px,#b2ddeb 364.5px,#a1d1e5 400.5px)"></i><i style="left:738px;background:linear-gradient(#313695 0.5px,#323997 91.5px,#3d5ba7 97.5px,#4a7bb7 105.5px,#669cc8 112.5px,#89beda 117.5px,#abd9e9 125.5px,#d1ecf4 136.5px,#e0f3f8 146.5px,#ffffbf 187.5px,#fee191 220.5px,#ffffbf 248.5px,#f4fbd3 304.5px,#e0f3f8 325.5px,#b4ddeb 364.5px,#a3d3e6 400.5px)"></i><i style="left:741px;background:linear-gradient(#313695 0.5px,#323b97 92.5px,#3d5da8 98.5px,#4c7db8 106.5px,#689fca 113.5px,#8cc0db 118.5px,#acdae9 126.5px,#d1ecf4 137.5px,#e0f3f8 147.5px,#ffffbf 188.5px,#fee091 221.5px,#ffffbf 247.5px,#f4fbd3 304.5px,#e0f3f8 326.5px,#b4ddec 365.5px,#a5d4e6 400.5px)"></i><i style="left:744px;background:linear-gradient(#313695 0.5px,#323997 92.5px,#3d5ba7 98.5px,#4e7fb9 107.5px,#6ba2cb 114.5px,#8ec2dc 119.5px,#aad8e9 126.5px,#d0ebf3 137.5px,#e0f3f8 148.5px,#ffffbf 190.5px,#fee090 221.5px,#ffffbf 247.5px,#f4fbd3 304.5px,#e0f3f7 326.5px,#b5deec 365.5px,#a6d5e7 400.5px)"></i><i style="left:747px;background:linear-gradient(#313695 0.5px,#323996 92.5px,#4879b6 106.5px,#689fca 114.5px,#8dc1dc 119.5px,#acd9e9 127.5px,#d0ebf3 138.5px,#e0f3f8 149.5px,#ffffbf 191.5px,#fedf8f 221.5px,#ffffbf 246.5px,#f4fbd3 304.5px,#e0f3f8 327.5px,#b6deec 365.5px,#a7d6e7 400.5px)"></i><i style="left:750px;background:linear-gradient(#313695 0.5px,#323896 92.5px,#4878b6 106.5px,#689ec9 114.5px,#8bbfdb 119.5px,#aad8e9 127.5px,#d0ebf4 139.5px,#e0f3f8 150.5px,#ffffbf 192.5px,#fede8e 221.5px,#ffffbf 246.5px,#f4fbd3 305.5px,#e0f3f8 327.5px,#b6deec 366.5px,#a8d6e8 400.5px)"></i><i style="left:753px;background:linear-gradient(#313695 0.5px,#323a97 93.5px,#3d5ca8 99.5px,#4878b6 106.5px,#679ec9 114.5px,#8ec2dc 120.5px,#acd9e9 128.5px,#d1ebf4 140.5px,#e0f3f7 151.5px,#ffffbf 193.5px,#fedd8e 221.5px,#ffffbf 246.5px,#f4fbd3 305.5px,#dff3f8 328.5px,#b6dfec 366.5px,#a8d7e8 400.5px)"></i><i style="left:756px;background:linear-gradient(#313695 0.5px,#323997 93.5px,#3d5ca8 99.5px,#4b7cb8 107.5px,#679dc9 114.5px,#8dc1dc 120.5px,#aad8e9 128.5px,#d1ecf4 141.5px,#e0f3f7 152.5px,#ffffbe 194.5px,#fedd8d 220.5px,#ffffbf 246.5px,#f4fbd3 305.5px,#e0f3f8 328.5px,#b6deec 367.5px,#a8d7e8 400.5px)"></i><i style="left:759px;background:linear-gradient(#313695 0.5px,#323997 93.5px,#3d5ca8 99.5px,#4b7cb8 107.5px,#6aa0cb 115.5px,#8dc1dc 120.5px,#acd9e9 129.5px,#d1ecf4 142.5px,#e0f3f7 153.5px,#ffffbf 194.5px,#fedc8c 220.5px,#ffffbf 246.5px,#f4fbd3 306.5px,#e0f3f8 328.5px,#b5deec 368.5px,#a8d7e8 400.5px)"></i><i style="left:762px;background:linear-gradient(#313695 0.5px,#323997 93.5px,#3d5ca8 99.5px,#4d7fb9 108.5px,#689fca 115.5px,#8dc1dc 120.5px,#abd9e9 129.5px,#d1ecf4 143.5px,#e0f3f7 154.5px,#ffffbe 195.5px,#fedb8b 219.5px,#ffffbf 247.5px,#f4fbd3 306.5px,#e0f3f8 328.5px,#b4ddeb 369.5px,#a7d6e7 400.5px)"></i><i style="left:765px;background:linear-gradient(#313695 0.5px,#323997 93.5px,#3d5ca8 99.5px,#4879b6 107.5px,#689ec9 115.5px,#8dc1dc 120.5px,#acd9e9 130.5px,#d1ecf4 144.5px,#e0f3f7 155.5px,#ffffbf 195.5px,#feda8b 219.5px,#ffffbf 247.5px,#f4fbd3 306.5px,#e0f3f8 328.5px,#b3ddeb 370.5px,#a7d6e7 400.5px)"></i><i style="left:768px;background:linear-gradient(#313695 0.5px,#323997 93.5px,#3d5ca8 99.5px,#4879b6 107.5px,#689ec9 115.5px,#8cc0dc 120.5px,#abd9e9 130.5px,#d1ecf4 145.5px,#e0f3f7 156.5px,#ffffbe 195.5px,#fed98a 218.5px,#ffffbf 248.5px,#f4fbd3 307.5px,#dff3f8 328.5px,#b4ddec 369.5px,#a7d6e7 400.5px)"></i><i style="left:771px;background:linear-gradient(#313695 0.5px,#323997 93.5px,#3d5ca8 99.5px,#4879b6 107.5px,#689ec9 115.5px,#8bbfdb 120.5px,#a9d8e8 130.5px,#d1ecf4 146.5px,#e0f3f8 157.5px,#ffffc0 194.5px,#fed889 217.5px,#ffffbf 249.5px,#f4fbd3 307.5px,#e0f3f8 327.5px,#b5deec 368.5px,#a8d7e8 400.5px)"></i><i style="left:774px;background:linear-gradient(#313695 0.5px,#323997 93.5px,#3d5ca7 99.5px,#4878b6 107.5px,#679ec9 115.5px,#8ec2dc 121.5px,#aad8e9 131.5px,#d1ebf4 147.5px,#e0f3f8 158.5px,#ffffbf 194.5px,#fed788 216.5px,#ffffbf 250.5px,#f4fbd3 307.5px,#e0f3f7 326.5px,#b6deec 367.5px,#a9d7e8 400.5px)"></i><i style="left:777px;background:linear-gradient(#313695 0.5px,#323997 93.5px,#3d5ba7 99.5px,#4878b6 107.5px,#679ec9 115.5px,#8dc1dc 121.5px,#a9d7e8 131.5px,#ceeaf3 147.5px,#e0f3f8 159.5px,#ffffbf 193.5px,#fed788 215.5px,#ffffbf 251.5px,#f4fbd3 306.5px,#dff3f8 326.5px,#b7dfec 366.5px,#a9d7e8 400.5px)"></i><i style="left:780px;background:linear-gradient(#313695 0.5px,#323997 93.5px,#3c59a6 99.5px,#4878b6 107.5px,#679dc9 115.5px,#87bcd9 120.5px,#97c9e0 124.5px,#acdae9 133.5px,#e0f3f8 160.5px,#ffffbf 192.5px,#fed787 214.5px,#ffffbf 252.5px,#f4fbd3 305.5px,#e0f3f8 325.5px,#d3edf4 332.5px,#b6dfec 366.5px,#a9d7e8 400.5px)"></i><i style="left:783px;background:linear-gradient(#313695 0.5px,#323996 93.5px,#4878b6 107.5px,#659cc8 115.5px,#86bcd9 120.5px,#94c6df 123.5px,#abd9e9 133.5px,#e0f3f8 161.5px,#fffebe 192.5px,#fedc8d 209.5px,#fed787 213.5px,#ffffbf 253.5px,#f4fbd3 304.5px,#e0f3f8 324.5px,#d3edf4 331.5px,#b7dfec 365.5px,#a8d7e8 400.5px)"></i><i style="left:786px;background:linear-gradient(#313695 0.5px,#323996 93.5px,#4a7cb7 108.5px,#689fca 116.5px,#85bbd9 120.5px,#93c6df 123.5px,#acdae9 134.5px,#e0f3f7 162.5px,#ffffbf 191.5px,#fed687 211.5px,#ffffbf 254.5px,#f4fbd3 304.5px,#dff3f8 324.5px,#d2ecf4 331.5px,#b6deec 365.5px,#a8d6e7 400.5px)"></i><i style="left:789px;background:linear-gradient(#313695 0.5px,#333b97 94.5px,#3d5ca8 100.5px,#4c7eb9 109.5px,#679ec9 116.5px,#8abeda 121.5px,#94c7df 124.5px,#abd9e9 134.5px,#dff3f8 162.5px,#fffebe 191.5px,#fed687 210.5px,#ffffbf 255.5px,#f4fbd3 304.5px,#e0f3f7 323.5px,#d2ecf4 331.5px,#b7dfec 363.5px,#a7d5e7 400.5px)"></i><i style="left:792px;background:linear-gradient(#313695 0.5px,#323a97 94.5px,#3b57a5 99.5px,#4879b6 108.5px,#669dc9 116.5px,#87bcd9 121.5px,#94c6df 124.5px,#acdae9 135.5px,#e0f3f8 163.5px,#ffffbf 190.5px,#fed989 210.5px,#ffffbf 255.5px,#f4fbd3 304.5px,#e0f3f8 323.5px,#d2ecf4 331.5px,#b6deec 363.5px,#a5d4e6 400.5px)"></i><i style="left:795px;background:linear-gradient(#313695 0.5px,#323997 94.5px,#3c59a6 100.5px,#4b7cb8 109.5px,#69a0ca 117.5px,#86bbd9 121.5px,#93c6df 124.5px,#abd9e9 135.5px,#dff3f8 163.5px,#ffffbf 189.5px,#fee293 205.5px,#fedb8b 212.5px,#ffffbf 256.5px,#f4fbd3 304.5px,#dff3f8 323.5px,#b6deec 362.5px,#a4d3e6 400.5px)"></i><i style="left:798px;background:linear-gradient(#313695 0.5px,#323996 94.5px,#4a7bb7 109.5px,#689ec9 117.5px,#92c5de 124.5px,#acdae9 136.5px,#dff2f8 163.5px,#ffffbf 188.5px,#fee294 204.5px,#feda8a 212.5px,#ffffbf 256.5px,#f4fbd3 304.5px,#e0f3f8 322.5px,#b6dfec 360.5px,#a2d2e5 400.5px)"></i><i style="left:801px;background:linear-gradient(#313695 0.5px,#333b97 95.5px,#3d5ba7 101.5px,#4879b6 109.5px,#669dc9 117.5px,#87bcd9 122.5px,#94c6df 125.5px,#acd9e9 136.5px,#dff3f8 163.5px,#ffffbe 187.5px,#fee293 203.5px,#fed586 211.5px,#ffffbf 257.5px,#f4fbd3 304.5px,#dff3f8 322.5px,#b6deec 359.5px,#a0d0e4 400.5px)"></i><i style="left:804px;background:linear-gradient(#313695 0.5px,#323997 95.5px,#3c5aa7 101.5px,#4b7cb7 110.5px,#69a0ca 118.5px,#85bbd8 122.5px,#93c6de 125.5px,#acd9e9 136.5px,#e0f3f8 163.5px,#ffffbf 185.5px,#fece7f 210.5px,#fee090 221.5px,#ffffbf 257.5px,#f4fbd3 304.5px,#e0f3f8 321.5px,#b7dfec 356.5px,#9dcee3 400.5px)"></i><i style="left:807px;background:linear-gradient(#313695 0.5px,#323996 95.5px,#3c58a6 101.5px,#497ab7 110.5px,#679ec9 118.5px,#88bdda 123.5px,#94c7df 126.5px,#abd9e9 136.5px,#def2f8 162.5px,#ffffbe 184.5px,#feca7b 210.5px,#fee191 222.5px,#ffffbe 257.5px,#f4fbd4 304.5px,#e0f3f8 320.5px,#b7dfed 354.5px,#99cbe1 400.5px)"></i><i style="left:810px;background:linear-gradient(#313695 0.5px,#323a97 96.5px,#3b57a5 101.5px,#4879b6 110.5px,#6aa1cb 119.5px,#86bbd9 123.5px,#93c6df 126.5px,#abd9e9 136.5px,#def2f7 161.5px,#ffffbf 182.5px,#fedf8f 200.5px,#fdc476 209.5px,#fee090 222.5px,#ffffbf 258.5px,#f4fbd4 303.5px,#e0f3f8 319.5px,#bae0ed 350.5px,#95c7df 400.5px)"></i><i style="left:813px;background:linear-gradient(#313695 0.5px,#323997 96.5px,#3c59a6 102.5px,#4a7bb7 111.5px,#689ec9 119.5px,#89beda 124.5px,#95c7df 127.5px,#acd9e9 136.5px,#def2f7 160.5px,#ffffbf 180.5px,#fed586 202.5px,#fdbf71 209.5px,#fee191 223.5px,#ffffbf 258.5px,#f4fbd4 302.5px,#e0f3f8 318.5px,#bce1ee 346.5px,#90c3dd 400.5px)"></i><i style="left:816px;background:linear-gradient(#313695 0.5px,#323996 96.5px,#3d5ca8 103.5px,#4979b6 111.5px,#669dc9 119.5px,#87bcd9 124.5px,#95c7df 127.5px,#acdae9 136.5px,#dff2f8 159.5px,#ffffbe 178.5px,#fee598 191.5px,#fdbc6e 209.5px,#fee191 223.5px,#fffebd 255.5px,#f4fbd4 301.5px,#dff3f8 317.5px,#c1e4ef 339.5px,#93c6df 394.5px,#87bdd9 400.5px)"></i><i style="left:819px;background:linear-gradient(#313695 0.5px,#323996 96.5px,#3d5ca8 103.5px,#4879b6 111.5px,#69a0ca 120.5px,#90c4dd 126.5px,#abd9e9 135.5px,#ddf1f7 157.5px,#ffffbe 175.5px,#fee090 191.5px,#fdb86b 208.5px,#fee191 223.5px,#fffebd 254.5px,#f4fbd4 300.5px,#dff2f8 316.5px,#bce1ee 343.5px,#91c4de 394.5px,#77afd2 400.5px)"></i><i style="left:822px;background:linear-gradient(#313695 0.5px,#323996 96.5px,#3d5ca8 103.5px,#4879b6 111.5px,#689fca 120.5px,#93c6df 127.5px,#acdae9 135.5px,#e0f3f8 156.5px,#fffebe 172.5px,#feda8a 190.5px,#fdb568 207.5px,#fee191 223.5px,#fffebd 252.5px,#f4fbd4 298.5px,#e0f3f8 314.5px,#bbe1ed 342.5px,#91c4de 392.5px,#6ea6cd 400.5px)"></i><i style="left:825px;background:linear-gradient(#313695 0.5px,#323997 96.5px,#3c58a6 102.5px,#4979b6 111.5px,#69a0ca 120.5px,#90c3dd 126.5px,#abd9e9 134.5px,#dff3f8 154.5px,#fffebe 169.5px,#fedb8c 186.5px,#fdb366 205.5px,#fee090 222.5px,#fffebe 251.5px,#f4fbd3 296.5px,#dff3f8 313.5px,#bae0ed 341.5px,#91c4de 390.5px,#689fca 400.5px)"></i><i style="left:828px;background:linear-gradient(#313695 0.5px,#333b98 96.5px,#3b56a5 101.5px,#4a7bb7 111.5px,#679dc9 119.5px,#92c5de 126.5px,#aad8e9 133.5px,#e0f3f8 152.5px,#f5fbd1 160.5px,#fffebd 166.5px,#fed888 184.5px,#fdb063 204.5px,#fee192 222.5px,#fffebd 249.5px,#f4fbd4 295.5px,#e0f3f8 311.5px,#bae0ed 339.5px,#90c4dd 388.5px,#70a9cf 395.5px,#649ac7 400.5px)"></i><i style="left:831px;background:linear-gradient(#313695 0.5px,#323a97 95.5px,#3c59a6 101.5px,#4879b6 110.5px,#689fc9 119.5px,#93c6df 126.5px,#addaea 133.5px,#ddf1f7 149.5px,#ffffbf 162.5px,#fed586 182.5px,#fdae61 202.5px,#fee191 221.5px,#fffebd 247.5px,#f4fbd4 293.5px,#e0f3f7 309.5px,#b9e0ed 337.5px,#90c3dd 386.5px,#6ca3cc 395.5px,#6095c5 400.5px)"></i><i style="left:834px;background:linear-gradient(#313695 0.5px,#313695 91.5px,#333d98 95.5px,#3c58a6 100.5px,#4a7bb7 110.5px,#6aa2cb 119.5px,#95c8df 126.5px,#addaea 132.5px,#dff3f8 147.5px,#fffebd 159.5px,#fed586 179.5px,#fdab60 200.5px,#fee191 220.5px,#fffebd 245.5px,#f4fbd4 291.5px,#e0f3f7 307.5px,#b9e0ed 335.5px,#90c3dd 383.5px,#72abd0 391.5px,#5d91c3 400.5px)"></i><i style="left:837px;background:linear-gradient(#313695 0.5px,#313695 90.5px,#333c98 94.5px,#3b57a5 99.5px,#4676b5 108.5px,#6095c5 116.5px,#8ec2dc 124.5px,#aad8e8 130.5px,#dcf1f7 144.5px,#fffdbd 156.5px,#fed586 176.5px,#fca95f 198.5px,#fdae61 201.5px,#fee191 219.5px,#fffebd 243.5px,#f4fbd4 289.5px,#e0f3f8 305.5px,#b8dfed 334.5px,#90c4dd 380.5px,#71aacf 389.5px,#5a8ec1 400.5px)"></i><i style="left:840px;background:linear-gradient(#313695 0.5px,#313795 91.5px,#4576b4 107.5px,#6ba2cb 118.5px,#8cc0db 123.5px,#aad8e9 129.5px,#ddf2f7 142.5px,#ffffbf 152.5px,#fed384 174.5px,#fca65d 196.5px,#fee090 217.5px,#fffebd 241.5px,#f4fbd3 286.5px,#e0f3f8 303.5px,#b7dfec 332.5px,#90c4dd 377.5px,#70a9cf 387.5px,#568abf 400.5px)"></i><i style="left:843px;background:linear-gradient(#313695 0.5px,#313795 90.5px,#4575b4 106.5px,#6aa1cb 117.5px,#abd9e9 128.5px,#e0f3f7 140.5px,#ffffbf 149.5px,#fecb7c 175.5px,#fca55d 193.5px,#fdaf62 198.5px,#fee191 216.5px,#fffebd 239.5px,#f4fbd4 284.5px,#e0f3f8 300.5px,#b6deec 330.5px,#90c4dd 374.5px,#6ca3cc 387.5px,#5487bd 400.5px)"></i><i style="left:846px;background:linear-gradient(#313695 0.5px,#313795 89.5px,#4575b4 105.5px,#69a0ca 116.5px,#a7d6e7 126.5px,#ddf1f7 137.5px,#ffffbf 146.5px,#fed889 166.5px,#fdae61 185.5px,#fba25c 191.5px,#fee090 214.5px,#fffebd 236.5px,#f4fbd4 281.5px,#e0f3f8 297.5px,#b5deec 328.5px,#8fc3dd 372.5px,#689ec9 387.5px,#5285bc 400.5px)"></i><i style="left:849px;background:linear-gradient(#313695 0.5px,#313695 87.5px,#333c98 90.5px,#3b56a5 95.5px,#4676b4 104.5px,#6aa1cb 115.5px,#aad8e9 125.5px,#e0f3f8 135.5px,#ffffbf 143.5px,#fed787 163.5px,#fdaf62 181.5px,#fba15b 188.5px,#fdaf62 194.5px,#fee090 212.5px,#fffebd 234.5px,#f4fbd4 278.5px,#e0f3f8 294.5px,#b5deec 325.5px,#8fc3dd 369.5px,#75aed2 377.5px,#5184bc 400.5px)"></i><i style="left:852px;background:linear-gradient(#313695 0.5px,#313795 86.5px,#4574b3 102.5px,#6ba2cc 114.5px,#aedaea 124.5px,#ddf2f7 132.5px,#ffffbf 140.5px,#fed888 159.5px,#fdaf62 177.5px,#fb9f5a 185.5px,#fdad60 191.5px,#fee090 210.5px,#fffebd 231.5px,#f4fbd3 274.5px,#e0f3f8 291.5px,#b4ddec 322.5px,#90c3dd 365.5px,#71a9cf 375.5px,#5184bc 400.5px)"></i><i style="left:855px;background:linear-gradient(#313695 0.5px,#313695 84.5px,#4575b4 101.5px,#6ea6cd 113.5px,#acd9e9 122.5px,#dbf0f6 129.5px,#e1f4f5 130.5px,#f8fccc 135.5px,#fffdbc 138.5px,#fecf80 159.5px,#fdad61 174.5px,#fb9c59 182.5px,#fdae61 189.5px,#fee090 208.5px,#fffebe 229.5px,#f4fbd4 272.5px,#e0f3f7 288.5px,#b3ddeb 319.5px,#90c4dd 361.5px,#6ca4cc 374.5px,#5285bc 400.5px)"></i><i style="left:858px;background:linear-gradient(#313695 0.5px,#313695 82.5px,#4575b4 99.5px,#6ca3cc 111.5px,#abd9e9 120.5px,#def2f8 127.5px,#f8fccc 132.5px,#fffdbc 135.5px,#fdc677 159.5px,#fdad61 170.5px,#fa9b58 179.5px,#fdaf62 187.5px,#fee090 206.5px,#fffebe 226.5px,#f4fbd4 269.5px,#e0f3f7 285.5px,#b2ddeb 316.5px,#90c3dd 357.5px,#679ec9 374.5px,#5487bd 400.5px)"></i><i style="left:861px;background:linear-gradient(#313695 0.5px,#313695 80.5px,#4575b4 97.5px,#70a9cf 110.5px,#abd9e9 118.5px,#dbf1f7 124.5px,#fffdbc 132.5px,#fdc475 156.5px,#fa9857 175.5px,#fdae61 184.5px,#fee191 204.5px,#ffffbf 224.5px,#f4fbd4 266.5px,#e0f3f8 282.5px,#b1dceb 313.5px,#90c4dd 353.5px,#77b0d2 362.5px,#649ac7 373.5px,#588bbf 388.5px,#5689be 400.5px)"></i><i style="left:864px;background:linear-gradient(#313695 0.5px,#313795 78.5px,#4575b4 95.5px,#70a9cf 108.5px,#acdae9 116.5px,#e0f3f8 122.5px,#fffebd 129.5px,#fdc072 153.5px,#fdae61 161.5px,#fa9756 172.5px,#fdae61 181.5px,#fee090 201.5px,#ffffbf 221.5px,#f7fccd 237.5px,#f4fbd4 262.5px,#e0f3f8 278.5px,#aedaea 311.5px,#90c3dd 349.5px,#74add1 360.5px,#6196c5 372.5px,#5689be 388.5px,#578bbf 400.5px)"></i><i style="left:867px;background:linear-gradient(#313695 0.5px,#313695 75.5px,#333c98 78.5px,#4676b5 93.5px,#71a9cf 106.5px,#94c6df 111.5px,#ddf1f7 119.5px,#fffebd 126.5px,#fee191 139.5px,#fdb96b 151.5px,#fa9555 168.5px,#fdad61 178.5px,#fee191 199.5px,#ffffbe 218.5px,#f6fbd0 235.5px,#f3fad4 259.5px,#dff3f8 274.5px,#aad8e9 310.5px,#8ec1dc 346.5px,#5d92c3 372.5px,#5486bd 388.5px,#598cc0 400.5px)"></i><i style="left:870px;background:linear-gradient(#313695 0.5px,#313795 73.5px,#4574b4 90.5px,#72abd0 104.5px,#96c8e0 109.5px,#d9f0f6 116.5px,#e2f4f5 117.5px,#fffebe 123.5px,#fede8e 137.5px,#fdaf62 149.5px,#f99355 164.5px,#fdb063 176.5px,#fee090 196.5px,#fffebe 215.5px,#f3fad5 235.5px,#f3fad5 255.5px,#e0f3f8 269.5px,#a9d7e8 306.5px,#88bdda 343.5px,#5b8fc1 372.5px,#5284bc 387.5px,#598dc1 400.5px)"></i><i style="left:873px;background:linear-gradient(#313695 0.5px,#313795 70.5px,#4575b4 88.5px,#669dc9 99.5px,#75aed1 102.5px,#9bcce2 107.5px,#dff3f8 114.5px,#fffebe 120.5px,#fede8e 134.5px,#fdad60 145.5px,#f99455 151.5px,#f99153 160.5px,#fdaf62 173.5px,#fee191 194.5px,#fffebe 212.5px,#f0f9da 235.5px,#f2fad6 251.5px,#e0f3f8 264.5px,#a9d7e8 301.5px,#82b8d7 333.5px,#7ab2d4 346.5px,#598dc0 371.5px,#5082bb 387.5px,#5a8ec1 400.5px)"></i><i style="left:876px;background:linear-gradient(#313695 0.5px,#313695 67.5px,#4574b4 85.5px,#72aad0 99.5px,#95c8e0 104.5px,#dbf0f7 111.5px,#ffffbf 117.5px,#fedd8e 131.5px,#fdae61 141.5px,#f99355 146.5px,#f88c51 152.5px,#f99053 160.5px,#fdae61 170.5px,#fee191 191.5px,#ffffbf 210.5px,#eef8df 233.5px,#eef8df 249.5px,#e0f3f8 259.5px,#a9d7e8 296.5px,#90c4dd 318.5px,#75aed2 330.5px,#73acd1 346.5px,#578abf 371.5px,#4f81ba 386.5px,#598dc0 400.5px)"></i><i style="left:879px;background:linear-gradient(#313695 0.5px,#313795 65.5px,#4676b4 83.5px,#6399c7 93.5px,#75aed1 97.5px,#99cbe1 102.5px,#d9eff6 108.5px,#e2f4f4 109.5px,#ffffbe 114.5px,#fed586 130.5px,#fba25b 139.5px,#f98f53 143.5px,#f88850 149.5px,#f99053 160.5px,#fdae61 168.5px,#fee091 188.5px,#fffebe 207.5px,#eff9dd 226.5px,#dff2f8 254.5px,#90c3dd 312.5px,#6ca3cc 329.5px,#6ea6cd 347.5px,#5487bd 372.5px,#4e80ba 387.5px,#588cc0 400.5px)"></i><i style="left:882px;background:linear-gradient(#313695 0.5px,#313795 62.5px,#4575b4 80.5px,#6197c5 90.5px,#78b0d3 95.5px,#9ecfe3 100.5px,#e1f3f6 106.5px,#fffebe 111.5px,#fed384 127.5px,#fca45c 135.5px,#f88a51 140.5px,#f7814c 146.5px,#f99455 161.5px,#fdb063 167.5px,#fede8e 184.5px,#fffebe 204.5px,#edf8df 223.5px,#e0f3f8 246.5px,#8fc2dd 306.5px,#669cc8 327.5px,#6ba2cb 347.5px,#649ac7 359.5px,#5285bc 372.5px,#4d7fb9 387.5px,#578bbf 400.5px)"></i><i style="left:885px;background:linear-gradient(#313695 0.5px,#313795 59.5px,#4677b5 78.5px,#6399c7 88.5px,#75aed1 92.5px,#9bcce2 97.5px,#e0f3f8 103.5px,#f6fbd0 106.5px,#fffebe 108.5px,#fed485 123.5px,#fb9f5a 132.5px,#f8864f 137.5px,#f57547 145.5px,#f99355 160.5px,#fdae61 165.5px,#fed182 176.5px,#fffdbc 200.5px,#eef8de 218.5px,#e0f3f8 238.5px,#abd9e9 279.5px,#85bad8 306.5px,#6fa8ce 314.5px,#5f94c4 327.5px,#5e93c3 335.5px,#679ec9 347.5px,#6399c6 359.5px,#5082bb 373.5px,#4d7eb9 388.5px,#5689bf 400.5px)"></i><i style="left:888px;background:linear-gradient(#313695 0.5px,#313796 57.5px,#4575b4 75.5px,#78b0d3 90.5px,#97c9e0 94.5px,#d6eef5 99.5px,#e2f4f4 100.5px,#fffebd 105.5px,#fed586 119.5px,#fba05a 128.5px,#f7824d 134.5px,#f26841 144.5px,#fa9556 159.5px,#fdb568 165.5px,#fed687 175.5px,#ffffc0 199.5px,#edf8e0 215.5px,#e0f3f8 232.5px,#abd9e9 274.5px,#7ab2d4 307.5px,#689fca 314.5px,#5b8fc1 326.5px,#5a8ec1 336.5px,#659bc8 348.5px,#6298c6 359.5px,#4f81ba 373.5px,#5285bc 380.5px,#4d7eb9 389.5px,#5588be 400.5px)"></i><i style="left:891px;background:linear-gradient(#313695 0.5px,#313795 54.5px,#4777b5 73.5px,#649ac7 83.5px,#76afd2 87.5px,#95c8df 91.5px,#d5eef5 96.5px,#e2f4f4 97.5px,#f9fdcb 100.5px,#fffcbb 102.5px,#fed787 115.5px,#fa9957 125.5px,#f57647 133.5px,#ef623e 141.5px,#f16840 145.5px,#fa9555 157.5px,#fdb164 162.5px,#fed081 170.5px,#fee091 176.5px,#feffc0 196.5px,#ecf8e2 212.5px,#dff3f8 227.5px,#aad8e9 269.5px,#77afd2 300.5px,#72abd0 307.5px,#6298c6 314.5px,#588bc0 324.5px,#5689be 335.5px,#6297c6 345.5px,#6398c6 355.5px,#4d7fb9 373.5px,#5285bc 381.5px,#4d7eb9 390.5px,#5588be 400.5px)"></i><i style="left:894px;background:linear-gradient(#313695 0.5px,#313795 51.5px,#4677b5 70.5px,#73abd0 84.5px,#9bcce2 89.5px,#d7eff5 93.5px,#e3f4f3 94.5px,#ffffbf 98.5px,#fed283 112.5px,#fb9f5a 120.5px,#f67b49 127.5px,#ec5b3b 138.5px,#f0643f 142.5px,#fa9656 155.5px,#fdb365 160.5px,#fed283 168.5px,#ffffbf 192.5px,#e0f3f8 221.5px,#abd9e9 263.5px,#8fc3dd 283.5px,#7bb3d4 291.5px,#6da5cd 307.5px,#5c91c2 315.5px,#5588be 323.5px,#5487bd 336.5px,#5f94c4 345.5px,#6298c6 356.5px,#4c7eb8 373.5px,#5385bd 381.5px,#4d7eb9 390.5px,#5487bd 400.5px)"></i><i style="left:897px;background:linear-gradient(#313695 0.5px,#313795 48.5px,#4575b4 67.5px,#6196c5 77.5px,#76afd2 82.5px,#97c9e0 86.5px,#d5eef5 90.5px,#e4f5f0 91.5px,#eef8df 92.5px,#fffebd 95.5px,#fed283 108.5px,#fb9c59 116.5px,#f67b49 122.5px,#e95639 134.5px,#ec5c3b 138.5px,#f99254 152.5px,#fdb063 157.5px,#fed282 165.5px,#fee090 170.5px,#ffffbf 189.5px,#e0f3f8 216.5px,#abd9e9 258.5px,#92c5de 276.5px,#75add1 289.5px,#689fca 307.5px,#5285bc 322.5px,#5285bc 336.5px,#6197c6 356.5px,#4b7cb8 373.5px,#5386bd 381.5px,#4d7eb9 390.5px,#5487be 400.5px)"></i></div>
<!-- contour + grid overlay for heatmap -->
<svg id="hs" style="left:132px;top:34px" width="900" height="401" viewBox="0 0 900 401">
 <g stroke="#000" stroke-opacity="0.16" stroke-width="1" fill="none">
  <path d="M89.9 0V400.5M179.8 0V400.5M269.7 0V400.5M359.6 0V400.5M449.6 0V400.5M539.5 0V400.5M629.4 0V400.5M719.3 0V400.5M809.2 0V400.5"/>
  <path d="M0 348.3H899.5M0 296H899.5M0 243.8H899.5M0 191.6H899.5M0 139.4H899.5M0 87.1H899.5M0 34.9H899.5"/>
 </g>
 <path d="M0.5 92.5 L16.0 79.0 L28.0 69.5 L45.2 54.2 L52.0 49.0 L59.3 44.5 L70.0 39.7 L81.1 36.8 L94.0 35.5 L106.1 35.8 L114.8 36.9 L123.0 38.7 L137.5 43.0 L147.4 46.8 L160.8 53.6 L182.1 67.2 L192.2 72.8 L253.0 102.3 L284.2 114.9 L294.1 117.7 L302.0 119.1 L341.4 121.3 L377.3 125.5 M402.5 121.8 L407.4 120.0 L413.1 117.1 L419.0 113.5 L425.2 109.0 L441.7 95.7 L461.0 79.0 L473.0 69.5 L488.0 56.0 L499.0 47.6 L507.6 42.9 L517.0 39.0 L526.1 36.8 L536.9 35.6 L549.0 35.6 L561.9 37.3 L578.2 41.7 L590.2 45.9 L597.8 49.4 L605.8 53.6 L627.1 67.2 L634.3 71.3 L702.0 104.1 M724.6 113.2 L736.5 117.1 L748.3 119.2 L786.4 121.3 L821.0 125.5 L828.2 125.4 L836.2 124.3 L843.8 122.9 L850.0 121.0 L855.9 118.4 L861.6 115.0 L874.0 106.1 L899.2 84.9 M0.7 97.3 L12.7 85.5 L43.7 58.4 L51.0 52.8 L59.0 48.0 L65.4 44.9 L71.9 42.4 L83.0 39.5 L95.7 38.2 L102.9 38.4 L110.5 39.2 L119.4 41.4 L129.1 45.0 L154.2 59.6 L168.0 66.5 L178.8 71.3 L222.1 103.4 L233.0 109.5 L251.0 120.9 L259.1 124.9 L269.9 129.4 L281.7 133.6 L299.7 138.0 L323.6 145.3 L331.7 148.9 L336.6 152.2 L339.7 153.9 L350.0 158.0 L355.2 158.9 L361.4 158.9 L365.1 158.4 L369.8 156.8 M410.5 128.7 L436.3 106.6 L458.9 84.5 L487.6 59.4 L494.0 54.2 L505.0 47.5 L515.9 42.7 L526.0 39.9 L537.4 38.3 L547.9 38.4 L556.7 39.5 L567.0 42.2 L575.2 45.5 L598.0 59.0 L613.0 66.5 L620.7 69.7 L625.0 72.0 L665.4 102.2 L669.6 105.0 L679.4 110.4 M723.2 132.4 L729.9 134.5 L746.6 138.5 L767.5 144.9 L776.0 148.5 L781.6 152.2 L784.7 153.9 L794.1 157.7 L797.7 158.6 L801.9 159.0 L807.0 158.9 L810.1 158.4 L817.8 155.6 L825.9 151.4 L847.1 135.7 L881.3 106.6 L899.0 89.0 M0.3 102.3 L14.2 87.3 L37.0 65.9 L45.9 58.8 L55.4 52.8 L64.0 48.5 L71.0 45.6 L78.2 43.3 L84.7 41.7 L91.2 40.8 L97.7 40.6 L103.3 41.0 L110.5 42.3 L118.0 44.6 L127.7 49.4 L154.5 65.9 L160.6 70.2 L163.1 72.9 L166.7 77.8 L178.1 96.8 L182.4 102.9 L188.7 110.2 L196.0 117.0 L202.2 124.3 L216.9 134.8 L235.8 152.1 L245.0 158.0 L253.0 164.5 L271.1 175.8 L284.6 183.0 L296.1 188.2 L309.3 193.2 L318.3 195.3 L321.7 195.6 L325.0 195.3 L338.0 192.0 L347.2 190.7 L352.2 189.2 L359.1 186.0 M378.5 171.5 L391.0 157.1 L401.7 145.9 L438.2 109.9 L459.2 87.3 L483.0 65.0 L492.9 57.4 L503.7 51.1 L516.0 45.6 L528.6 41.9 L537.3 40.8 L544.9 40.7 L553.1 41.8 L561.0 43.8 L565.8 45.8 L573.5 49.9 L601.9 67.5 L606.7 71.2 L610.0 75.4 L616.0 84.5 L623.8 97.9 L627.4 102.9 L633.7 110.2 L641.0 117.0 M658.9 132.5 L664.6 137.0 L680.8 152.1 L690.0 158.0 L698.0 164.5 L718.1 176.9 L735.4 185.8 L750.6 191.9 L761.6 195.0 L766.7 195.6 L770.0 195.3 L781.8 192.3 L791.5 190.8 L796.6 189.4 L808.9 183.5 L816.0 179.0 L820.8 174.5 L835.1 158.1 L842.8 149.9 L881.8 111.4 L899.0 92.7 M0.0 197.3 L10.6 185.7 L23.0 170.5 M39.0 151.0 L66.9 117.4 L75.6 108.6 L80.0 105.5 L86.3 103.0 L91.6 102.0 L94.3 102.2 L96.7 102.8 L100.5 104.8 L104.1 108.2 L110.6 118.0 L116.4 128.2 L119.0 131.1 L123.8 134.9 L126.0 137.1 L130.4 143.7 L132.8 148.4 L134.5 150.7 L136.0 152.0 L138.1 153.0 L148.8 155.7 L151.9 157.8 L154.1 160.9 L158.3 169.4 L163.5 177.2 L170.9 187.3 L178.1 195.7 L192.7 210.0 L204.0 220.3 L218.1 232.4 L235.0 246.2 L242.0 251.0 L249.9 255.0 L258.2 257.7 L266.0 259.1 L269.9 258.9 L274.1 257.7 L283.8 252.0 L290.5 248.8 M314.7 243.1 L322.0 243.3 L334.6 244.7 L353.3 246.1 L360.0 247.2 L369.4 250.1 L372.8 250.5 L376.3 249.8 L385.6 245.9 L392.2 242.8 L397.2 239.9 L403.1 235.8 L411.2 229.1 L425.0 216.0 L438.3 204.2 L443.9 198.5 L456.8 184.4 L512.7 116.5 L521.4 107.9 L524.1 106.0 L528.0 104.1 L533.5 102.4 L538.4 102.0 L542.5 103.1 L546.3 105.4 L548.4 107.4 L551.2 111.0 L562.0 129.0 L564.0 131.1 L570.0 136.0 L574.6 142.3 M593.8 155.7 L596.0 157.0 L598.5 159.8 L604.7 171.6 L611.5 181.5 L618.1 190.0 L623.5 196.2 L642.0 214.0 L663.1 232.4 L676.3 243.3 L683.6 248.8 L688.6 252.0 L694.9 255.0 L700.6 256.9 L706.9 258.5 L712.0 259.2 L717.0 258.5 L720.1 257.3 L728.8 252.1 L740.1 247.2 L746.1 245.3 L753.0 244.6 L759.7 245.1 L767.0 246.5 L784.8 252.7 L796.4 255.6 L812.7 258.1 L815.3 258.2 L817.8 257.7 L821.3 256.0 L838.5 244.2 L844.6 239.6 L856.2 229.5 L873.6 212.8 M891.2 196.1 L899.5 187.0 M0.7 240.2 L19.5 204.5 L29.8 186.7 L53.4 151.3 L59.0 144.0 L65.5 137.2 M106.0 150.9 L113.9 156.6 L125.0 163.0 L131.2 167.8 L134.1 171.8 L141.4 187.8 L147.0 198.0 L174.0 233.5 L185.1 245.7 L197.0 258.0 L235.8 293.7 L239.2 297.2 L245.8 305.6 L251.9 310.8 L261.0 316.9 L271.5 322.4 L281.4 326.4 L290.8 328.8 L297.4 329.2 L310.8 329.1 L326.5 330.3 L331.0 330.2 L333.5 329.1 L335.3 325.7 L336.3 324.7 M383.4 318.2 L392.3 313.0 L400.0 307.0 L402.4 304.5 L408.0 297.0 L416.4 289.7 L420.7 284.6 L428.8 271.1 L450.8 230.8 L464.5 204.5 L474.0 188.0 L491.4 161.4 L499.3 150.0 L505.8 141.9 L513.2 134.9 L518.4 131.4 L524.2 129.2 L530.2 128.7 L532.7 129.1 L535.0 130.0 L537.0 131.5 L539.3 134.2 L542.5 138.8 L546.8 146.4 L549.4 149.5 L558.0 156.0 L572.3 164.6 M598.6 206.7 L616.0 229.9 L628.1 243.6 L647.7 263.5 L680.8 293.8 L684.2 297.4 L689.9 304.8 L693.0 308.0 L701.2 314.6 L711.0 321.0 L724.4 328.6 L734.0 333.1 L739.2 334.7 L745.7 335.9 L763.8 338.3 L771.5 338.5 L776.0 338.0 L777.9 337.1 L779.0 335.8 L780.7 332.2 L783.0 330.7 L787.3 330.2 L800.0 330.4 L805.4 329.5 L815.0 324.4 L828.4 318.5 L836.0 313.9 L842.0 309.6 L845.9 306.2 L853.0 297.0 M881.1 257.6 L899.0 224.8 M0.3 291.4 L5.0 284.0 L12.1 270.5 L24.3 249.9 L32.9 238.2 L45.5 223.5 L56.2 213.2 L66.3 204.4 L72.1 200.1 L76.6 197.5 L81.5 195.5 L87.1 193.8 L91.0 193.5 L94.3 194.1 L98.3 195.7 L101.9 197.7 L106.1 201.1 L126.2 221.3 L143.0 239.9 L148.5 246.6 L152.1 251.7 L160.7 268.2 L165.7 275.9 L190.2 306.9 M203.9 327.5 L213.3 338.3 L224.5 349.1 L233.7 356.9 L256.0 374.2 L260.8 378.5 L263.0 381.0 L266.0 385.4 L274.0 400.5 M368.0 400.5 L382.8 390.9 L390.2 384.6 L407.1 368.0 L412.1 361.9 L418.3 353.2 M427.2 331.5 L429.0 326.5 L435.0 314.0 L442.6 295.8 L450.0 284.0 L456.3 272.0 L465.5 256.0 L474.9 242.1 L482.8 232.3 L491.9 222.0 L498.7 215.4 L510.3 205.3 L516.2 200.7 L520.7 198.0 L526.5 195.5 L532.8 193.7 L536.0 193.5 L540.0 194.3 L544.0 196.0 L547.5 198.2 L556.9 206.7 L575.9 226.3 L589.4 241.6 L594.8 248.3 L598.2 253.5 L604.7 266.4 L608.0 272.0 L615.3 282.0 L628.7 299.0 M642.4 318.7 L653.4 332.9 L663.7 343.7 L675.5 354.3 L701.0 374.2 L705.8 378.5 L708.0 381.0 L711.0 385.4 L719.0 400.5 M813.0 400.5 L827.8 390.9 L835.2 384.6 L853.0 367.0 L864.6 351.4 M873.0 329.0 L880.0 314.0 L887.0 297.0 L895.0 284.0 L899.2 275.9 M0.3 118.4 L17.1 95.5 L35.1 73.2 L41.8 66.4 L50.0 59.7 L56.0 55.8 L65.0 51.0 L71.9 47.8 L78.2 45.7 L84.7 44.1 L91.3 43.1 L97.8 42.9 L104.1 43.4 L109.2 44.4 L113.9 45.8 L121.4 49.5 L126.5 52.9 L132.3 57.4 L136.3 61.0 L139.4 64.5 L143.5 71.0 L153.2 89.3 L166.5 111.2 L175.8 124.6 L183.1 132.7 L184.8 135.3 L186.2 138.9 L186.5 142.4 L186.0 144.5 L184.5 145.5 L181.5 145.7 L177.5 145.4 L167.9 143.1 L155.7 138.5 L143.0 132.0 L137.4 128.5 L132.8 125.0 L118.9 111.2 L112.7 105.9 L105.0 100.1 L100.0 97.4 L94.2 95.9 L88.4 96.0 L79.3 97.9 L74.1 100.6 M38.2 136.0 L0.7 172.4 M347.6 208.0 L351.4 205.5 L368.5 198.0 L373.6 194.2 L382.3 186.5 M416.1 150.8 L421.7 144.6 L432.8 133.3 L438.6 126.6 L447.5 115.5 L459.9 98.5 L470.3 85.2 L480.8 72.4 L487.8 65.5 L494.0 60.5 L499.0 57.0 L506.0 53.0 L514.9 48.7 L521.0 46.4 L527.5 44.5 L534.1 43.4 L540.7 42.9 L546.0 43.0 L552.2 43.9 L558.0 45.5 L562.3 47.3 L568.0 50.5 L573.2 54.2 L579.8 59.6 L583.6 63.5 L587.2 68.8 L597.5 88.1 L611.5 111.2 L620.1 123.7 L628.1 132.7 L630.1 135.9 L631.4 140.0 L631.2 144.1 L630.4 145.1 L629.5 145.5 L625.6 145.7 M581.0 127.5 L576.1 123.5 L561.0 108.6 L552.0 101.5 L546.5 98.1 L542.2 96.4 L536.7 95.8 L531.7 96.2 L524.3 97.9 L520.0 100.0 L514.2 104.8 L493.9 126.1 L481.0 138.0 L427.1 190.2 L415.3 200.1 L404.2 207.7 L396.0 212.3 L389.1 214.9 L380.6 216.5 L370.6 217.1 L360.4 216.5 L353.2 215.0 L350.8 213.6 L348.1 211.1 L347.3 209.3 L347.6 208.0 M807.6 208.0 L813.8 203.4 L818.7 198.0 M828.8 185.8 L833.3 181.0 L846.0 169.0 L864.0 147.5 L879.0 132.0 L889.2 119.8 L899.3 106.3 M899.1 164.3 L875.4 187.2 L864.6 196.7 M819.8 217.1 L815.6 216.5 L811.5 214.5 L807.8 210.6 L807.2 209.3 L807.6 208.0 M0.7 128.2 L26.0 92.0 L42.9 70.8 L46.3 67.1 L53.5 61.7 L65.2 54.9 L76.9 49.6 L86.5 46.7 L95.1 45.3 L103.2 45.3 L109.4 46.3 L115.6 48.2 L117.1 49.1 L121.2 54.8 L124.0 61.0 L126.3 74.0 L128.9 82.0 L131.0 85.3 L138.2 91.8 L140.0 94.7 L139.8 95.6 L138.6 96.6 L136.0 97.0 L129.8 92.8 L123.6 90.7 L117.0 89.5 L107.3 89.4 L95.7 90.5 L85.7 92.3 L77.7 94.6 L69.1 98.0 L63.4 100.9 L58.0 104.5 L50.0 111.5 L38.6 120.1 L32.3 126.2 L14.0 146.0 L7.7 151.5 L0.3 157.0 M429.0 154.0 L429.2 151.4 L431.5 147.3 M446.4 127.2 L466.5 98.2 L474.5 87.4 L489.5 68.9 L492.7 65.9 L496.8 62.8 L506.5 56.9 L515.9 52.1 L524.0 48.8 L532.6 46.4 L540.1 45.3 L548.2 45.3 L553.8 46.2 L561.4 48.5 L563.0 50.0 L565.1 52.9 L568.6 60.0 L569.8 64.4 L571.5 75.0 L573.9 82.0 L576.0 85.3 L581.5 90.0 L584.2 93.0 L585.0 94.7 L584.3 96.1 L582.8 96.9 L581.0 97.0 L575.5 93.2 L571.5 91.6 L564.3 89.8 L558.1 89.3 L547.9 89.7 L537.8 90.9 L529.3 92.7 L521.4 95.1 L511.0 99.5 L502.3 105.0 L495.0 111.5 L482.5 121.0 L466.0 138.5 M446.8 155.9 L441.8 159.0 L439.0 159.7 L436.4 159.7 L434.5 159.2 L432.0 157.7 L430.1 155.9 L429.0 154.0 M874.2 151.4 L877.6 145.6 L892.2 126.1 L899.4 115.7 M898.8 150.7 L888.6 158.1 L886.4 159.1 L883.5 159.7 M14.4 117.7 L15.5 120.6 L18.1 122.2 L23.7 123.2 L28.5 122.4 L33.9 119.6 L40.1 115.2 L42.5 112.8 L48.1 105.9 L51.7 102.3 L56.1 98.6 L59.8 96.4 L67.6 93.9 L80.5 92.3 L86.6 91.0 L96.0 88.2 L102.7 85.1 L105.6 83.0 L108.0 80.7 L111.4 75.1 L113.8 66.9 L114.5 59.0 L114.1 56.5 L113.2 54.7 L109.6 51.6 L104.9 49.4 L98.1 48.0 L89.8 47.8 L81.1 48.8 L73.9 51.0 L67.6 54.2 L58.2 60.6 L49.8 68.0 L44.6 73.5 L28.7 92.5 L22.2 100.7 L17.2 108.4 L14.9 113.7 L14.4 117.7 M459.4 117.7 L460.5 120.6 L463.1 122.2 L468.7 123.2 L473.5 122.4 L478.9 119.6 L485.1 115.2 L487.5 112.8 L493.1 105.9 L496.7 102.3 L501.1 98.6 L504.8 96.4 L512.6 93.9 L525.5 92.3 L531.6 91.0 L541.0 88.2 L547.7 85.1 L550.6 83.0 L553.0 80.7 L556.4 75.1 L558.8 66.9 L559.5 59.0 L559.1 56.5 L558.2 54.7 L554.6 51.6 L549.9 49.4 L543.1 48.0 L534.8 47.8 L526.1 48.8 L518.9 51.0 L512.6 54.2 L503.2 60.6 L494.8 68.0 L489.6 73.5 L473.7 92.5 L467.2 100.7 L462.2 108.4 L459.9 113.7 L459.4 117.7 M30.7 98.3 L32.8 100.2 L35.7 101.3 L39.4 101.5 L43.8 100.9 L47.8 99.3 L54.3 94.3 L60.3 91.5 L66.3 89.9 L81.1 88.0 L88.8 85.6 L96.5 82.3 L100.2 80.1 L102.9 77.8 L105.0 75.4 L106.5 72.8 L108.0 69.1 L109.0 64.9 L109.1 60.7 L108.5 58.0 L106.6 55.2 L103.6 53.1 L99.3 51.2 L95.2 50.4 L89.7 50.2 L83.4 50.9 L78.1 52.3 L73.1 54.5 L64.7 60.2 L56.2 68.1 L50.9 74.0 L42.6 84.0 L32.5 94.5 L30.6 96.9 L30.7 98.3 M475.7 98.3 L477.8 100.2 L480.7 101.3 L484.4 101.5 L488.8 100.9 L492.8 99.3 L499.3 94.3 L505.3 91.5 L511.3 89.9 L526.1 88.0 L533.8 85.6 L541.5 82.3 L545.2 80.1 L547.9 77.8 L550.0 75.4 L551.5 72.8 L553.0 69.1 L554.0 64.9 L554.1 60.7 L553.5 58.0 L551.6 55.2 L548.6 53.1 L544.3 51.2 L540.2 50.4 L534.7 50.2 L528.4 50.9 L523.1 52.3 L518.1 54.5 L509.7 60.2 L501.2 68.1 L495.9 74.0 L487.6 84.0 L477.5 94.5 L475.6 96.9 L475.7 98.3 M52.6 85.1 L55.1 86.0 L60.5 86.5 L66.3 86.5 L71.4 85.9 L76.4 84.7 L82.6 82.6 L89.3 79.9 L94.5 77.3 L97.6 75.1 L99.9 72.6 L102.2 68.8 L103.9 64.5 L104.5 61.9 L104.3 59.8 L103.2 57.6 L101.3 55.9 L99.0 54.9 L94.9 53.9 L87.3 53.3 L79.8 54.7 L73.6 57.4 L70.8 59.4 L68.1 62.0 L57.1 75.0 L52.1 82.7 L51.9 84.3 L52.6 85.1 M497.6 85.1 L500.1 86.0 L505.5 86.5 L511.3 86.5 L516.4 85.9 L521.4 84.7 L527.6 82.6 L534.3 79.9 L539.5 77.3 L542.6 75.1 L544.9 72.6 L547.2 68.8 L548.9 64.5 L549.5 61.9 L549.3 59.8 L548.2 57.6 L546.3 55.9 L544.0 54.9 L539.9 53.9 L532.3 53.3 L524.8 54.7 L518.6 57.4 L515.8 59.4 L513.1 62.0 L502.1 75.0 L497.1 82.7 L496.9 84.3 L497.6 85.1 M192.7 167.9 L192.9 166.8 L194.1 165.1 L197.7 162.5 L201.1 161.9 L205.1 162.5 L208.9 164.3 L216.4 171.3 L223.3 176.1 L225.4 178.0 L225.6 179.2 L225.0 180.3 L223.8 181.0 L222.0 181.4 L216.3 180.8 L207.6 178.6 L201.6 176.5 L197.6 174.2 L194.0 170.8 L192.7 167.9 M647.0 162.0 L650.2 163.8 L654.6 167.5 L667.2 181.0 L668.8 183.3 L669.3 184.8 L668.8 185.6 L667.0 185.6 L664.0 184.5 L660.6 182.1 L654.6 176.8 L650.0 172.0 L646.8 168.0 L645.5 165.5 L645.5 163.0 L646.1 162.2 L647.0 162.0" fill="none" stroke="#111" stroke-width="1.35" stroke-linejoin="round" stroke-linecap="round"/>
 <g font-size="26" fill="#0a0a0a"><text transform="translate(31.9 84.5) rotate(-55)" text-anchor="middle" dy="9.3">2.5</text><text transform="translate(43.0 59.0) rotate(-52)" text-anchor="middle" dy="9.3">1</text><text transform="translate(53.0 52.0) rotate(-48)" text-anchor="middle" dy="9.3">1.5</text><text transform="translate(64.0 46.0) rotate(-42)" text-anchor="middle" dy="9.3">2.5</text><text transform="translate(52.0 77.0) rotate(-42)" text-anchor="middle" dy="9.3">3</text><text transform="translate(60.0 71.0) rotate(-36)" text-anchor="middle" dy="9.3">3.5</text><text transform="translate(67.0 65.0) rotate(-28)" text-anchor="middle" dy="9.3">4</text><text transform="translate(83.5 70.0) rotate(-12)" text-anchor="middle" dy="9.3">4.5</text><text transform="translate(57.0 119.0) rotate(-50)" text-anchor="middle" dy="9.3">2.5</text><text transform="translate(32.5 162.0) rotate(-50)" text-anchor="middle" dy="9.3">2</text><text transform="translate(90.0 132.0) rotate(20)" text-anchor="middle" dy="9.3">1.5</text><text transform="translate(199.5 315.0) rotate(58)" text-anchor="middle" dy="9.3">1</text><text transform="translate(302.7 247.3) rotate(-15)" text-anchor="middle" dy="9.3">2</text><text transform="translate(360.2 327.3) rotate(-8)" text-anchor="middle" dy="9.3">1.5</text><text transform="translate(427.8 344.2) rotate(-58)" text-anchor="middle" dy="9.3">1</text><text transform="translate(390.4 123.8) rotate(-18)" text-anchor="middle" dy="9.3">1</text><text transform="translate(392.1 145.7) rotate(-55)" text-anchor="middle" dy="9.3">1.5</text><text transform="translate(371.1 181.0) rotate(-25)" text-anchor="middle" dy="9.3">2</text><text transform="translate(401.4 171.7) rotate(-50)" text-anchor="middle" dy="9.3">2.5</text><text transform="translate(439.2 137.3) rotate(-55)" text-anchor="middle" dy="9.3">3</text><text transform="translate(457.7 149.0) rotate(-50)" text-anchor="middle" dy="9.3">3</text><text transform="translate(497.6 75.1) rotate(-50)" text-anchor="middle" dy="9.3">3</text><text transform="translate(508.0 66.0) rotate(-40)" text-anchor="middle" dy="9.3">3.5</text><text transform="translate(513.0 63.0) rotate(-30)" text-anchor="middle" dy="9.3">4</text><text transform="translate(530.1 70.1) rotate(-10)" text-anchor="middle" dy="9.3">4.5</text><text transform="translate(602.0 140.0) rotate(22)" text-anchor="middle" dy="9.3">2.5</text><text transform="translate(580.8 153.1) rotate(40)" text-anchor="middle" dy="9.3">2</text><text transform="translate(583.7 186.6) rotate(50)" text-anchor="middle" dy="9.3">1.5</text><text transform="translate(647.9 126.9) rotate(45)" text-anchor="middle" dy="9.3">2</text><text transform="translate(640.6 163.3) rotate(-60)" text-anchor="middle" dy="9.3">2.5</text><text transform="translate(713.5 108.2) rotate(15)" text-anchor="middle" dy="9.3">1</text><text transform="translate(700.0 124.0) rotate(25)" text-anchor="middle" dy="9.3">1.5</text><text transform="translate(633.5 310.4) rotate(55)" text-anchor="middle" dy="9.3">1</text><text transform="translate(871.9 163.3) rotate(-8)" text-anchor="middle" dy="9.3">3</text><text transform="translate(841.4 206.2) rotate(-12)" text-anchor="middle" dy="9.3">2.5</text><text transform="translate(883.3 205.2) rotate(-50)" text-anchor="middle" dy="9.3">2</text><text transform="translate(868.8 278.4) rotate(-55)" text-anchor="middle" dy="9.3">1.5</text><text transform="translate(872.1 341.2) rotate(-60)" text-anchor="middle" dy="9.3">1</text></g>
</svg>
<!-- axes for heatmap -->
<svg width="1198" height="892" viewBox="0 0 1198 892">
 <g stroke="#262626" stroke-width="1.1" fill="none">
  <path d="M132 34V434.5H1031.5"/>
  <path d="M221.9 434.5v-10M311.8 434.5v-10M401.7 434.5v-10M491.6 434.5v-10M581.6 434.5v-10M671.5 434.5v-10M761.4 434.5v-10M851.3 434.5v-10M941.2 434.5v-10M1031.2 434.5v-10"/>
  <path d="M132 382.3h10M132 330h10M132 277.8h10M132 225.6h10M132 173.4h10M132 121.1h10M132 68.9h10"/>
 </g>
</svg>
<!-- colorbar -->
<div class="abs" style="left:1071px;top:34.5px;width:41px;height:399.5px;background:linear-gradient(to top,#313695 0%,#4575b4 10%,#74add1 20%,#abd9e9 30%,#e0f3f8 40%,#ffffbf 50%,#fee090 60%,#fdae61 70%,#f46d43 80%,#d73027 90%,#ac1628 100%)"></div>
<svg width="1198" height="892" viewBox="0 0 1198 892">
 <g stroke="#262626" stroke-width="1.1" fill="none">
  <rect x="1070.7" y="34.5" width="41.3" height="399.5"/>
  <path d="M1112 134.4h-4M1112 234.2h-4M1112 334.1h-4"/>
 </g>
</svg>
<div class="tl" style="left:1122.5px;top:17.5px;font-size:32px">4</div>
<div class="tl" style="left:1122.5px;top:118.5px;font-size:32px">3</div>
<div class="tl" style="left:1122.5px;top:217px;font-size:32px">2</div>
<div class="tl" style="left:1122.5px;top:318.5px;font-size:32px">1</div>
<div class="tl" style="left:1122.5px;top:417.5px;font-size:32px">0</div>
<div class="rot" id="cbt" style="left:1159.5px;top:432.5px;font-size:31.5px;line-height:38px;height:38px">Salinity gradient <span class="dl">δ</span>s/<span class="dl">δ</span>x [km<sup>-1</sup>]</div>
<!-- panel letters, N/S -->
<div class="pan" style="left:-0.3px;top:9.7px">A</div>
<div class="pan" style="left:0.7px;top:486.3px">B</div>
<div class="big" style="left:220.5px">N</div>
<div class="big" style="left:443.8px">S</div>
<div class="big" style="left:678.4px">N</div>
<div class="big" style="left:902.4px">S</div>
<!-- heatmap tick labels -->
<div class="tl xt" style="left:127.0px;top:455.5px">0</div><div class="tl xt" style="left:216.9px;top:455.5px">3</div><div class="tl xt" style="left:306.9px;top:455.5px">6</div><div class="tl xt" style="left:396.8px;top:455.5px">9</div><div class="tl xt" style="left:492.1px;top:455.5px">12</div><div class="tl xt" style="left:582.0px;top:455.5px">15</div><div class="tl xt" style="left:672.0px;top:455.5px">18</div><div class="tl xt" style="left:761.9px;top:455.5px">21</div><div class="tl xt" style="left:851.9px;top:455.5px">24</div><div class="tl xt" style="left:941.8px;top:455.5px">27</div><div class="tl xt" style="left:1031.8px;top:455.5px">30</div>
<div class="tl yt" style="top:419.5px">0</div><div class="tl yt" style="top:367.3px">3</div><div class="tl yt" style="top:315.0px">6</div><div class="tl yt" style="top:262.8px">9</div><div class="tl yt" style="top:210.6px">12</div><div class="tl yt" style="top:158.4px">15</div><div class="tl yt" style="top:106.1px">18</div><div class="tl yt" style="top:53.9px">21</div>
<div class="rot" id="yl1" style="left:25px;top:355.2px;font-size:39.7px;line-height:46px;height:46px">Distance [km]</div>
<!-- bottom plot -->
<svg width="1198" height="892" viewBox="0 0 1198 892">
 <g stroke="#000" stroke-opacity="0.13" stroke-width="1" fill="none">
  <path d="M221.9 534V781M311.8 534V781M401.7 534V781M491.6 534V781M581.6 534V781M671.5 534V781M761.4 534V781M851.3 534V781M941.2 534V781"/>
  <path d="M132 698.7H1031.5M132 616.3H1031.5"/>
 </g>
 <clipPath id="cp"><rect x="131" y="530" width="901.5" height="254"/></clipPath>
 <g fill="none" stroke-width="4" stroke-linejoin="round" stroke-linecap="butt" clip-path="url(#cp)"><path d="M133.5 747.7 L148.8 753.2 L159.2 756.2 L165.6 757.5 L171.6 758.2 L177.8 758.3 L184.9 758.3 L202.3 757.5 L215.4 757.9 L224.5 759.2 L241.6 763.4 L255.1 765.9 L266.4 767.0 L273.3 766.8 L280.2 765.5 L283.6 764.5 L289.1 762.5 L316.4 749.0 L322.7 746.4 L330.0 744.2 L342.9 741.4 L373.1 735.3 L397.6 729.6 L408.9 727.5 L424.7 725.0 L441.1 722.8 L451.8 721.8 L458.8 721.6 L466.9 722.1 L479.1 723.6 L511.0 729.0 L525.3 732.0 L543.1 736.4 L555.8 740.0 L572.2 745.6 L591.0 752.9 L603.6 757.0 L609.9 758.5 L616.2 759.6 L624.6 760.7 L633.0 761.4 L639.3 761.7 L643.5 761.5 L656.4 760.4 L673.4 759.4 L678.4 759.4 L693.3 760.2 L700.0 760.2 L708.2 760.0 L714.8 759.3 L727.2 757.3 L736.3 755.2 L748.8 751.4 L760.9 746.9 L765.5 745.6 L790.9 740.9 L827.6 732.1 L837.3 730.2 L847.2 728.6 L855.2 727.8 L872.3 726.9 L894.5 725.2 L909.4 724.5 L921.7 724.5 L936.0 725.4 L946.4 726.7 L956.9 728.8 L971.8 732.9 L1011.9 746.5 L1031.5 752.6" stroke="#0072bd"/><path d="M133.5 711.0 L146.8 721.1 L159.2 729.4 L163.5 731.9 L169.8 735.2 L176.1 738.0 L180.3 739.5 L186.4 741.4 L190.4 742.4 L194.5 743.1 L201.7 744.0 L216.2 744.8 L221.9 744.8 L230.3 744.3 L241.4 743.1 L255.4 740.9 L263.8 739.0 L272.3 736.3 L280.7 733.1 L294.7 727.1 L328.2 711.1 L339.6 706.0 L353.9 700.3 L358.4 698.8 L363.9 697.3 L373.8 695.7 L382.3 695.0 L388.2 695.0 L401.2 695.8 L414.1 696.2 L423.0 696.1 L429.7 695.8 L442.5 694.3 L454.3 692.5 L474.3 688.1 L485.9 685.9 L498.0 684.3 L503.3 684.1 L512.7 685.3 L519.4 686.8 L529.8 690.5 L541.4 695.6 L547.1 698.5 L552.7 701.8 L583.4 721.2 L594.5 727.9 L605.8 734.0 L614.2 737.6 L619.9 739.5 L625.5 741.0 L633.9 742.9 L639.7 743.9 L648.4 744.9 L658.7 745.8 L664.8 746.1 L670.9 746.1 L684.4 745.1 L693.1 744.1 L700.2 743.0 L710.3 740.7 L724.7 736.0 L732.0 733.0 L738.5 729.6 L763.4 714.1 L778.1 705.6 L782.3 703.6 L788.6 701.1 L792.8 699.7 L799.1 698.0 L807.3 696.6 L816.2 695.8 L838.4 695.0 L852.9 693.9 L869.4 692.9 L880.0 692.7 L892.4 693.3 L900.9 693.3 L909.4 693.0 L913.7 692.3 L918.0 691.3 L942.1 683.8 L949.4 682.8 L956.3 682.6 L960.3 682.8 L963.1 683.4 L966.2 684.4 L971.3 686.7 L980.7 692.1 L995.5 702.2 L1007.9 709.7 L1016.9 714.3 L1031.5 720.5" stroke="#d95319"/><path d="M133.5 775.2 L139.7 770.5 L143.1 768.2 L146.8 766.5 L148.5 766.1 L150.3 766.2 L152.4 766.8 L154.6 767.9 L158.7 770.9 L161.0 773.8 L165.0 780.7 L165.3 781.0 L165.8 781.0 L166.5 780.7 L167.1 779.9 L170.6 774.7 L172.2 771.5 L174.0 766.6 L175.9 759.4 L180.2 740.6 L183.4 725.1 L190.8 685.5 L197.1 653.5 L203.4 624.1 L207.6 606.9 L209.7 599.4 L212.9 589.6 L216.0 581.7 L217.9 577.9 L220.6 573.8 L224.6 569.6 L226.7 568.4 L228.8 568.2 L231.3 568.7 L233.9 570.3 L236.7 572.8 L239.5 576.0 L242.8 580.8 L245.6 585.5 L254.6 602.4 L263.4 620.9 L282.6 665.3 L291.4 687.5 L311.0 739.1 L317.3 754.1 L321.6 762.7 L326.6 771.4 L328.9 774.4 L331.1 776.8 L336.0 781.1 L337.4 781.2 L338.7 780.6 L343.0 776.8 L344.9 775.6 L346.9 775.0 L350.1 774.5 L353.6 774.6 L356.1 775.0 L366.1 777.7 L372.3 779.8 L375.5 780.5 L377.3 780.6 L380.9 780.3 L390.7 778.1 L395.1 777.8 L402.4 778.0 L412.3 778.7 L429.0 780.4 L441.8 780.8 L463.6 780.5 L488.2 779.4 L499.4 778.6 L505.0 778.5 L510.9 779.2 L521.5 781.0 L524.0 780.6 L532.5 777.4 L535.9 776.5 L544.3 774.9 L552.7 774.0 L557.4 774.4 L563.8 776.1 L568.2 778.0 L572.1 780.1 L573.3 780.9 L574.0 781.0 L575.7 779.8 L582.4 773.3 L587.7 769.1 L593.5 765.2 L596.4 763.7 L598.2 763.2 L600.3 763.7 L602.3 764.6 L605.7 766.8 L607.8 768.5 L610.4 771.7 L615.7 780.8 L616.0 781.0 L616.8 780.9 L617.7 778.9 L619.3 772.5 L627.6 735.2 L632.0 713.9 L638.3 679.5 L645.6 641.8 L648.8 627.3 L653.2 610.0 L656.4 598.6 L659.6 588.3 L662.8 579.5 L664.8 574.7 L666.7 571.2 L669.4 567.6 L672.9 564.2 L673.9 563.6 L675.3 563.4 L677.8 563.5 L679.9 564.1 L682.5 566.1 L685.4 569.3 L688.8 574.0 L691.2 578.2 L698.2 592.3 L703.9 605.2 L709.6 619.3 L723.6 656.7 L733.0 680.9 L741.4 704.1 L755.0 744.8 L760.3 758.5 L764.5 767.6 L767.7 772.6 L769.8 775.1 L771.9 777.1 L775.8 780.0 L778.5 781.0 L781.1 781.0 L782.8 780.3 L786.2 777.5 L788.0 776.5 L792.0 775.4 L795.2 775.2 L797.7 775.4 L800.5 776.0 L818.6 781.0 L832.4 778.5 L838.4 777.9 L846.7 778.3 L869.4 780.4 L885.7 780.8 L903.8 780.5 L918.6 779.9 L931.0 779.2 L943.5 777.9 L948.2 778.3 L954.4 780.6 L956.5 781.0 L977.5 774.9 L982.1 774.0 L985.1 773.7 L989.3 774.2 L993.6 775.6 L997.1 777.4 L1001.5 780.8 L1002.6 781.0 L1012.3 776.5 L1023.7 769.9 L1031.5 766.2" stroke="#edb120"/></g>
 <g stroke="#262626" stroke-width="1.1" fill="none">
  <rect x="132" y="534" width="899.5" height="247"/>
  <path d="M221.9 781v-10M311.8 781v-10M401.7 781v-10M491.6 781v-10M581.6 781v-10M671.5 781v-10M761.4 781v-10M851.3 781v-10M941.2 781v-10"/>
  <path d="M221.9 534v10M311.8 534v10M401.7 534v10M491.6 534v10M581.6 534v10M671.5 534v10M761.4 534v10M851.3 534v10M941.2 534v10"/>
  <path d="M132 698.7h10M132 616.3h10M1031.5 698.7h-10M1031.5 616.3h-10"/>
 </g>
 <rect x="830.7" y="548.8" width="178.5" height="129.3" fill="#fff" stroke="#262626" stroke-width="1.1"/>
 <g fill="none" stroke-width="4">
  <path d="M838.4 573.4H915.5" stroke="#0072bd"/><path d="M838.4 613.8H915.5" stroke="#d95319"/><path d="M838.4 655.7H915.5" stroke="#edb120"/>
 </g>
</svg>
<div class="tl" style="left:920.3px;top:558.4px;font-size:31px;line-height:31px">4km</div>
<div class="tl" style="left:921.3px;top:599.8px;font-size:31px;line-height:31px">12km</div>
<div class="tl" style="left:920.3px;top:641.4px;font-size:31px;line-height:31px">20km</div>
<div class="tl xt" style="left:127.0px;top:800.0px">0</div><div class="tl xt" style="left:216.9px;top:800.0px">3</div><div class="tl xt" style="left:306.9px;top:800.0px">6</div><div class="tl xt" style="left:396.8px;top:800.0px">9</div><div class="tl xt" style="left:492.1px;top:800.0px">12</div><div class="tl xt" style="left:582.0px;top:800.0px">15</div><div class="tl xt" style="left:672.0px;top:800.0px">18</div><div class="tl xt" style="left:761.9px;top:800.0px">21</div><div class="tl xt" style="left:851.9px;top:800.0px">24</div><div class="tl xt" style="left:941.8px;top:800.0px">27</div><div class="tl xt" style="left:1031.8px;top:800.0px">30</div>
<div class="tl yt" style="top:766.0px">0</div><div class="tl yt" style="top:683.7px">2</div><div class="tl yt" style="top:601.3px">4</div><div class="tl yt" style="top:519.0px">6</div>
<div class="rot" id="yl2" style="left:35.5px;top:760px;font-size:39.7px;line-height:46px;height:46px;letter-spacing:0.3px"><span class="dl">δ</span>s/<span class="dl">δ</span>x [km<sup>-1</sup>]</div>
<div class="tl" style="left:381px;width:400px;text-align:center;top:847.5px;font-size:40px;line-height:40px">Time [day]</div>
</body></html>
